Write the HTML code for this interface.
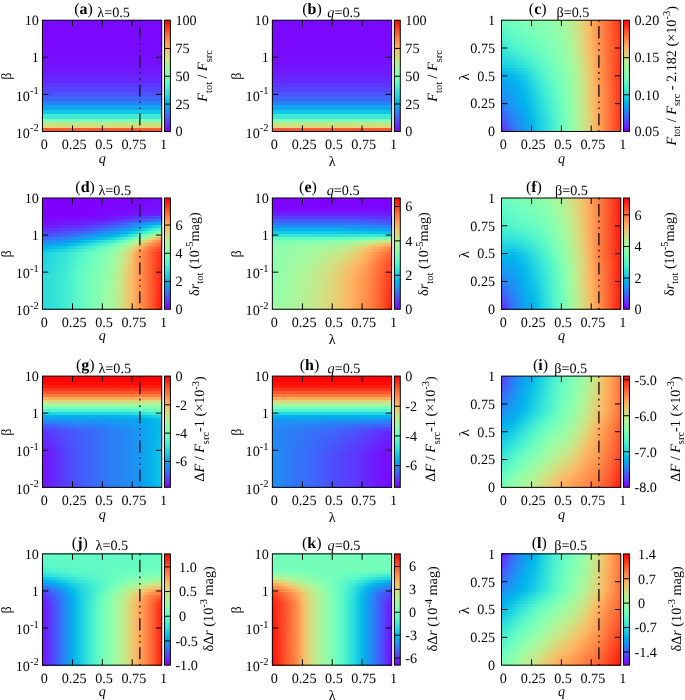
<!DOCTYPE html>
<html><head><meta charset="utf-8"><style>
html,body{margin:0;padding:0;background:#fff;}
body{width:685px;height:700px;position:relative;overflow:hidden;font-family:"Liberation Serif", serif;}
#h div{position:absolute;}
svg{position:absolute;left:0;top:0;will-change:transform;}
text{font-family:"Liberation Serif", serif;fill:#000;text-rendering:geometricPrecision;}
</style></head><body>
<div id="h">
<div style="left:42px;top:20px;width:120px;height:112px;background:linear-gradient(180deg,#7a08ff 0.000%,#7a08ff 3.571%,#7a08ff 3.571%,#7a08ff 8.036%,#7a08ff 8.036%,#7a08ff 11.607%,#7a08ff 11.607%,#7a08ff 16.071%,#7a09ff 16.071%,#7a09ff 19.643%,#790aff 19.643%,#790aff 24.107%,#790aff 24.107%,#790aff 27.679%,#780cff 27.679%,#780cff 32.143%,#770eff 32.143%,#770eff 35.714%,#7510ff 35.714%,#7510ff 40.179%,#7314ff 40.179%,#7314ff 43.750%,#7019ff 43.750%,#7019ff 48.214%,#6b20fe 48.214%,#6b20fe 51.786%,#6529fe 51.786%,#6529fe 56.250%,#5d35fe 56.250%,#5d35fe 59.821%,#5443fd 59.821%,#5443fd 64.286%,#4a53fc 64.286%,#4a53fc 67.857%,#3d65fa 67.857%,#3d65fa 72.321%,#2a80f6 72.321%,#2a80f6 75.893%,#0fa3f0 75.893%,#0fa3f0 80.357%,#12c7e6 80.357%,#12c7e6 83.929%,#3dead5 83.929%,#3dead5 88.393%,#80ffb4 88.393%,#80ffb4 91.964%,#d6db7e 91.964%,#d6db7e 96.429%,#ff5a2e 96.429%,#ff5a2e 100.000%)"></div>
<div style="left:164.50px;top:20.20px;width:5.90px;height:111.25px;background:linear-gradient(180deg,#ff0000 0%,#ff2814 5%,#ff4f28 10%,#ff743c 15%,#ff964f 20%,#ffb462 25%,#e5ce74 30%,#cce385 35%,#b2f396 40%,#99fca6 45%,#80ffb4 50%,#66fcc2 55%,#4df3ce 60%,#33e3d9 65%,#1acee3 70%,#00b4ec 75%,#1a96f3 80%,#3374f8 85%,#4d4ffc 90%,#6628fe 95%,#8000ff 100%)"></div>
<div style="left:272px;top:20px;width:120px;height:112px;background:linear-gradient(180deg,#7a08ff 0.000%,#7a08ff 3.571%,#7a08ff 3.571%,#7a08ff 8.036%,#7a08ff 8.036%,#7a08ff 11.607%,#7a08ff 11.607%,#7a08ff 16.071%,#7a09ff 16.071%,#7a09ff 19.643%,#790aff 19.643%,#790aff 24.107%,#790aff 24.107%,#790aff 27.679%,#780cff 27.679%,#780cff 32.143%,#770eff 32.143%,#770eff 35.714%,#7510ff 35.714%,#7510ff 40.179%,#7314ff 40.179%,#7314ff 43.750%,#7019ff 43.750%,#7019ff 48.214%,#6b20fe 48.214%,#6b20fe 51.786%,#6529fe 51.786%,#6529fe 56.250%,#5d35fe 56.250%,#5d35fe 59.821%,#5443fd 59.821%,#5443fd 64.286%,#4a53fc 64.286%,#4a53fc 67.857%,#3d65fa 67.857%,#3d65fa 72.321%,#2a80f6 72.321%,#2a80f6 75.893%,#0fa3f0 75.893%,#0fa3f0 80.357%,#12c7e6 80.357%,#12c7e6 83.929%,#3dead5 83.929%,#3dead5 88.393%,#80ffb4 88.393%,#80ffb4 91.964%,#d6db7e 91.964%,#d6db7e 96.429%,#ff5a2e 96.429%,#ff5a2e 100.000%)"></div>
<div style="left:394.40px;top:20.20px;width:5.90px;height:111.25px;background:linear-gradient(180deg,#ff0000 0%,#ff2814 5%,#ff4f28 10%,#ff743c 15%,#ff964f 20%,#ffb462 25%,#e5ce74 30%,#cce385 35%,#b2f396 40%,#99fca6 45%,#80ffb4 50%,#66fcc2 55%,#4df3ce 60%,#33e3d9 65%,#1acee3 70%,#00b4ec 75%,#1a96f3 80%,#3374f8 85%,#4d4ffc 90%,#6628fe 95%,#8000ff 100%)"></div>
<div style="left:501px;top:20px;width:120px;height:3px;background:linear-gradient(90deg,#6efdbe 0.42%,#70febc 5.39%,#73febb 10.36%,#79ffb8 15.33%,#7effb5 20.30%,#83ffb2 25.27%,#88ffaf 30.24%,#8bfeae 35.21%,#8efeac 40.18%,#96fda8 45.15%,#9dfba3 50.12%,#aff498 55.10%,#c1ea8c 60.07%,#d6dc7f 65.04%,#eaca70 70.01%,#ffb260 74.98%,#ff964f 79.95%,#ff7f42 84.92%,#ff6634 89.89%,#ff4b26 94.86%,#ff3018 99.83%)"></div>
<div style="left:501px;top:23px;width:120px;height:3px;background:linear-gradient(90deg,#68fcc1 0.42%,#6bfdbf 5.39%,#6ffebd 10.36%,#74feba 15.33%,#7affb7 20.30%,#7fffb4 25.27%,#85ffb1 30.24%,#88ffaf 35.21%,#8cfead 40.18%,#94fda9 45.15%,#9cfba4 50.12%,#aef599 55.10%,#bfeb8e 60.07%,#d5dd7f 65.04%,#eaca71 70.01%,#ffb260 74.98%,#ff974f 79.95%,#ff7f42 84.92%,#ff6634 89.89%,#ff4c27 94.86%,#ff3119 99.83%)"></div>
<div style="left:501px;top:26px;width:120px;height:3px;background:linear-gradient(90deg,#61fbc4 0.42%,#66fcc2 5.39%,#6bfdc0 10.36%,#70febd 15.33%,#76ffb9 20.30%,#7cffb6 25.27%,#82ffb3 30.24%,#86ffb1 35.21%,#89ffaf 40.18%,#92fdaa 45.15%,#9afca5 50.12%,#acf69a 55.10%,#beec8f 60.07%,#d4de80 65.04%,#e9cb71 70.01%,#ffb361 74.98%,#ff9850 79.95%,#ff8042 84.92%,#ff6735 89.89%,#ff4d27 94.86%,#ff3219 99.83%)"></div>
<div style="left:501px;top:29px;width:120px;height:3px;background:linear-gradient(90deg,#5bf9c7 0.42%,#61fac5 5.39%,#66fcc2 10.36%,#6cfdbf 15.33%,#72febc 20.30%,#78ffb8 25.27%,#7effb5 30.24%,#83ffb2 35.21%,#87ffb0 40.18%,#90feab 45.15%,#98fca6 50.12%,#aaf69b 55.10%,#bced90 60.07%,#d2de81 65.04%,#e9cb72 70.01%,#ffb461 74.98%,#ff9850 79.95%,#ff8143 84.92%,#ff6835 89.89%,#ff4e27 94.86%,#ff3319 99.83%)"></div>
<div style="left:501px;top:32px;width:120px;height:3px;background:linear-gradient(90deg,#55f6ca 0.42%,#5cf9c7 5.39%,#62fbc4 10.36%,#68fcc1 15.33%,#6efebe 20.30%,#75feba 25.27%,#7bffb7 30.24%,#80ffb4 35.21%,#85ffb1 40.18%,#8efeac 45.15%,#97fca7 50.12%,#a9f79c 55.10%,#baee91 60.07%,#d1df82 65.04%,#e8cc72 70.01%,#ffb462 74.98%,#ff9951 79.95%,#ff8243 84.92%,#ff6936 89.89%,#ff4f28 94.86%,#ff341a 99.83%)"></div>
<div style="left:501px;top:35px;width:120px;height:3px;background:linear-gradient(90deg,#4ff4cd 0.42%,#56f7ca 5.39%,#5df9c6 10.36%,#64fbc3 15.33%,#6bfdc0 20.30%,#71febc 25.27%,#78ffb9 30.24%,#7dffb6 35.21%,#83ffb2 40.18%,#8cfead 45.15%,#95fda8 50.12%,#a7f79d 55.10%,#b9ef92 60.07%,#d0e082 65.04%,#e8cc72 70.01%,#ffb562 74.98%,#ff9a51 79.95%,#ff8244 84.92%,#ff6a36 89.89%,#ff4f28 94.86%,#ff341a 99.83%)"></div>
<div style="left:501px;top:38px;width:120px;height:3px;background:linear-gradient(90deg,#49f1d0 0.42%,#51f5cc 5.39%,#59f8c8 10.36%,#60fac5 15.33%,#67fcc2 20.30%,#6efdbe 25.27%,#74feba 30.24%,#7bffb7 35.21%,#81ffb4 40.18%,#8afeae 45.15%,#93fda9 50.12%,#a5f89e 55.10%,#b7f093 60.07%,#cfe183 65.04%,#e7cd73 70.01%,#feb562 74.98%,#ff9a51 79.95%,#ff8344 84.92%,#ff6a36 89.89%,#ff5029 94.86%,#ff351b 99.83%)"></div>
<div style="left:501px;top:41px;width:120px;height:3px;background:linear-gradient(90deg,#43eed2 0.42%,#4cf2cf 5.39%,#55f6cb 10.36%,#5cf9c7 15.33%,#63fbc3 20.30%,#6afdc0 25.27%,#71febc 30.24%,#78ffb9 35.21%,#7effb5 40.18%,#88ffaf 45.15%,#92fdaa 50.12%,#a4f99f 55.10%,#b6f194 60.07%,#cee284 65.04%,#e7cd73 70.01%,#fdb663 74.98%,#ff9b52 79.95%,#ff8444 84.92%,#ff6b37 89.89%,#ff5129 94.86%,#ff361b 99.83%)"></div>
<div style="left:501px;top:44px;width:120px;height:3px;background:linear-gradient(90deg,#3dead5 0.42%,#47f0d1 5.39%,#50f4cd 10.36%,#58f7c9 15.33%,#5ffac5 20.30%,#66fcc2 25.27%,#6efdbe 30.24%,#75feba 35.21%,#7cffb6 40.18%,#86ffb1 45.15%,#90feab 50.12%,#a2f9a0 55.10%,#b4f295 60.07%,#cde385 65.04%,#e6ce73 70.01%,#fdb763 74.98%,#ff9c52 79.95%,#ff8545 84.92%,#ff6c37 89.89%,#ff522a 94.86%,#ff371c 99.83%)"></div>
<div style="left:501px;top:47px;width:120px;height:3px;background:linear-gradient(90deg,#37e6d8 0.42%,#41ecd3 5.39%,#4bf2cf 10.36%,#53f5cb 15.33%,#5bf8c8 20.30%,#63fbc4 25.27%,#6afdc0 30.24%,#72febc 35.21%,#7affb7 40.18%,#84ffb2 45.15%,#8ffeac 50.12%,#a0faa1 55.10%,#b2f396 60.07%,#cce385 65.04%,#e5cf74 70.01%,#fcb764 74.98%,#ff9c53 79.95%,#ff8545 84.92%,#ff6d38 89.89%,#ff522a 94.86%,#ff371c 99.83%)"></div>
<div style="left:501px;top:50px;width:120px;height:3px;background:linear-gradient(90deg,#32e2da 0.42%,#3be9d6 5.39%,#44eed2 10.36%,#4cf2ce 15.33%,#54f6cb 20.30%,#5df9c6 25.27%,#66fcc2 30.24%,#6efebe 35.21%,#77ffb9 40.18%,#82ffb3 45.15%,#8dfead 50.12%,#9ffaa2 55.10%,#b0f497 60.07%,#cae587 65.04%,#e3d075 70.01%,#fbb965 74.98%,#ff9e53 79.95%,#ff8646 84.92%,#ff6d38 89.89%,#ff5229 94.86%,#ff361b 99.83%)"></div>
<div style="left:501px;top:53px;width:120px;height:3px;background:linear-gradient(90deg,#2cdedc 0.42%,#34e4d9 5.39%,#3dead5 10.36%,#45efd2 15.33%,#4ef3ce 20.30%,#58f7c9 25.27%,#61fbc4 30.24%,#6bfdbf 35.21%,#74feba 40.18%,#80ffb4 45.15%,#8bfeae 50.12%,#9dfba3 55.10%,#aff498 60.07%,#c8e688 65.04%,#e2d277 70.01%,#f9ba66 74.98%,#ff9f54 79.95%,#ff8746 84.92%,#ff6d38 89.89%,#ff5129 94.86%,#ff351a 99.83%)"></div>
<div style="left:501px;top:56px;width:120px;height:3px;background:linear-gradient(90deg,#27dade 0.42%,#2ee0db 5.39%,#35e5d8 10.36%,#3eebd5 15.33%,#48f0d1 20.30%,#52f5cc 25.27%,#5df9c7 30.24%,#67fcc1 35.21%,#72febc 40.18%,#7dffb6 45.15%,#89ffaf 50.12%,#9bfba5 55.10%,#adf59a 60.07%,#c6e789 65.04%,#e0d478 70.01%,#f8bc67 74.98%,#ffa055 79.95%,#ff8746 84.92%,#ff6d38 89.89%,#ff5029 94.86%,#ff331a 99.83%)"></div>
<div style="left:501px;top:59px;width:120px;height:3px;background:linear-gradient(90deg,#21d5e0 0.42%,#28dbde 5.39%,#2ee0db 10.36%,#38e6d8 15.33%,#41ecd3 20.30%,#4df3ce 25.27%,#58f7c9 30.24%,#63fbc3 35.21%,#6ffebd 40.18%,#7bffb7 45.15%,#87ffb0 50.12%,#99fca6 55.10%,#abf69b 60.07%,#c4e88a 65.04%,#ded579 70.01%,#f7bd68 74.98%,#ffa155 79.95%,#ff8847 84.92%,#ff6d38 89.89%,#ff5028 94.86%,#ff3219 99.83%)"></div>
<div style="left:501px;top:62px;width:120px;height:3px;background:linear-gradient(90deg,#1cd0e2 0.42%,#21d5e0 5.39%,#27dade 10.36%,#31e2da 15.33%,#3be8d6 20.30%,#47f0d1 25.27%,#53f6cb 30.24%,#60fac5 35.21%,#6cfdbf 40.18%,#79ffb8 45.15%,#85ffb1 50.12%,#97fca7 55.10%,#a9f79c 60.07%,#c3ea8c 65.04%,#dcd77a 70.01%,#f5bf69 74.98%,#ffa256 79.95%,#ff8847 84.92%,#ff6d38 89.89%,#ff4f28 94.86%,#ff3018 99.83%)"></div>
<div style="left:501px;top:65px;width:120px;height:3px;background:linear-gradient(90deg,#15cae5 0.42%,#1acee3 5.39%,#1fd3e1 10.36%,#29dcdd 15.33%,#33e3d9 20.30%,#41ecd4 25.27%,#4ef3cd 30.24%,#5cf9c7 35.21%,#69fdc0 40.18%,#76ffb9 45.15%,#83ffb2 50.12%,#95fda8 55.10%,#a7f89d 60.07%,#c1eb8d 65.04%,#dad87b 70.01%,#f4c069 74.98%,#ffa356 79.95%,#ff8947 84.92%,#ff6d38 89.89%,#ff4f28 94.86%,#ff3018 99.83%)"></div>
<div style="left:501px;top:68px;width:120px;height:3px;background:linear-gradient(90deg,#0cc1e8 0.42%,#11c7e6 5.39%,#16cbe4 10.36%,#21d5e1 15.33%,#2bdddd 20.30%,#3ae8d7 25.27%,#49f1d0 30.24%,#58f7c9 35.21%,#67fcc2 40.18%,#73febb 45.15%,#80ffb4 50.12%,#92fdaa 55.10%,#a4f99f 60.07%,#beec8e 65.04%,#d9d97c 70.01%,#f4c06a 74.98%,#ffa356 79.95%,#ff8947 84.92%,#ff6d38 89.89%,#ff4f28 94.86%,#ff3018 99.83%)"></div>
<div style="left:501px;top:71px;width:120px;height:3px;background:linear-gradient(90deg,#04b9ea 0.42%,#09bee9 5.39%,#0ec3e7 10.36%,#18cde4 15.33%,#23d6e0 20.30%,#33e3d9 25.27%,#43eed2 30.24%,#54f6cb 35.21%,#64fbc3 40.18%,#71febc 45.15%,#7dffb5 50.12%,#8ffeab 55.10%,#a1faa1 60.07%,#bced90 65.04%,#d8da7d 70.01%,#f3c16a 74.98%,#ffa356 79.95%,#ff8947 84.92%,#ff6d38 89.89%,#ff4f28 94.86%,#ff3018 99.83%)"></div>
<div style="left:501px;top:74px;width:120px;height:3px;background:linear-gradient(90deg,#04b0ed 0.42%,#01b5eb 5.39%,#06bbea 10.36%,#10c5e6 15.33%,#1acfe3 20.30%,#2cdedc 25.27%,#3eead5 30.24%,#4ff4cd 35.21%,#61fbc4 40.18%,#6efebe 45.15%,#7bffb7 50.12%,#8dfead 55.10%,#9efaa2 60.07%,#baee91 65.04%,#d6db7e 70.01%,#f2c26b 74.98%,#ffa356 79.95%,#ff8947 84.92%,#ff6d38 89.89%,#ff4f28 94.86%,#ff3018 99.83%)"></div>
<div style="left:501px;top:77px;width:120px;height:3px;background:linear-gradient(90deg,#09aaee 0.42%,#04b0ed 5.39%,#01b6eb 10.36%,#0cc1e8 15.33%,#16cbe5 20.30%,#28dbde 25.27%,#3ae8d7 30.24%,#4bf2cf 35.21%,#5df9c6 40.18%,#6bfdbf 45.15%,#79ffb8 50.12%,#8cfead 55.10%,#9efaa3 60.07%,#baef91 65.04%,#d5dc7f 70.01%,#f1c36c 74.98%,#ffa457 79.95%,#ff8a48 84.92%,#ff6e39 89.89%,#ff5028 94.86%,#ff3018 99.83%)"></div>
<div style="left:501px;top:80px;width:120px;height:3px;background:linear-gradient(90deg,#0da5ef 0.42%,#08abee 5.39%,#03b1ec 10.36%,#07bce9 15.33%,#12c7e6 20.30%,#24d7e0 25.27%,#35e5d8 30.24%,#47f0d1 35.21%,#59f8c8 40.18%,#68fcc1 45.15%,#78ffb9 50.12%,#8bfeae 55.10%,#9efaa3 60.07%,#b9ef92 65.04%,#d4de80 70.01%,#f0c56d 74.98%,#ffa658 79.95%,#ff8c49 84.92%,#ff703a 89.89%,#ff5129 94.86%,#ff3018 99.83%)"></div>
<div style="left:501px;top:83px;width:120px;height:3px;background:linear-gradient(90deg,#11a0f0 0.42%,#0ca7ef 5.39%,#07adee 10.36%,#03b8eb 15.33%,#0ec3e7 20.30%,#1fd4e1 25.27%,#31e2da 30.24%,#43eed3 35.21%,#55f6ca 40.18%,#66fcc2 45.15%,#76ffb9 50.12%,#8afeae 55.10%,#9efaa3 60.07%,#b8f092 65.04%,#d2df81 70.01%,#eec66e 74.98%,#ffa759 79.95%,#ff8e4a 84.92%,#ff723b 89.89%,#ff5229 94.86%,#ff3018 99.83%)"></div>
<div style="left:501px;top:86px;width:120px;height:3px;background:linear-gradient(90deg,#159bf1 0.42%,#10a2f0 5.39%,#0ba8ef 10.36%,#00b4ec 15.33%,#0abfe9 20.30%,#1cd0e2 25.27%,#2ddfdc 30.24%,#3febd4 35.21%,#51f5cc 40.18%,#63fbc3 45.15%,#75feba 50.12%,#89ffaf 55.10%,#9efba3 60.07%,#b8f093 65.04%,#d1df82 70.01%,#edc76e 74.98%,#ffa95a 79.95%,#ff8f4b 84.92%,#ff743c 89.89%,#ff532a 94.86%,#ff3018 99.83%)"></div>
<div style="left:501px;top:89px;width:120px;height:3px;background:linear-gradient(90deg,#1997f2 0.42%,#139ff1 5.39%,#0ca6ef 10.36%,#02b2ec 15.33%,#08bde9 20.30%,#19cee3 25.27%,#2bdddd 30.24%,#3cead5 35.21%,#4ef3cd 40.18%,#61fac5 45.15%,#73febb 50.12%,#88ffaf 55.10%,#9dfba3 60.07%,#b7f093 65.04%,#d1df82 70.01%,#edc76e 74.98%,#ffa95a 79.95%,#ff8f4b 84.92%,#ff743c 89.89%,#ff532a 94.86%,#ff3018 99.83%)"></div>
<div style="left:501px;top:92px;width:120px;height:3px;background:linear-gradient(90deg,#1c92f3 0.42%,#159bf1 5.39%,#0ea4f0 10.36%,#04b0ed 15.33%,#06bbea 20.30%,#17cce4 25.27%,#28dbde 30.24%,#3ae8d7 35.21%,#4cf2cf 40.18%,#5efac6 45.15%,#71febc 50.12%,#87ffb0 55.10%,#9cfba4 60.07%,#b7f093 65.04%,#d1df82 70.01%,#edc76e 74.98%,#ffa95a 79.95%,#ff8f4b 84.92%,#ff743c 89.89%,#ff532a 94.86%,#ff3018 99.83%)"></div>
<div style="left:501px;top:95px;width:120px;height:3px;background:linear-gradient(90deg,#208df4 0.42%,#1898f2 5.39%,#10a2f0 10.36%,#06aeed 15.33%,#04b9ea 20.30%,#15cae5 25.27%,#25d9df 30.24%,#37e6d8 35.21%,#49f1d0 40.18%,#5cf9c7 45.15%,#6ffebd 50.12%,#85ffb1 55.10%,#9bfba4 60.07%,#b6f194 65.04%,#d1df82 70.01%,#edc76e 74.98%,#ffa95a 79.95%,#ff8f4b 84.92%,#ff743c 89.89%,#ff532a 94.86%,#ff3018 99.83%)"></div>
<div style="left:501px;top:98px;width:120px;height:3px;background:linear-gradient(90deg,#2489f5 0.42%,#1b94f3 5.39%,#129ff1 10.36%,#08acee 15.33%,#03b7eb 20.30%,#12c8e6 25.27%,#22d6e0 30.24%,#34e4d9 35.21%,#46efd1 40.18%,#5af8c8 45.15%,#6efdbe 50.12%,#84ffb2 55.10%,#9afca5 60.07%,#b6f194 65.04%,#d1df82 70.01%,#edc76e 74.98%,#ffa95a 79.95%,#ff8f4b 84.92%,#ff743c 89.89%,#ff532a 94.86%,#ff3018 99.83%)"></div>
<div style="left:501px;top:101px;width:120px;height:3px;background:linear-gradient(90deg,#2784f6 0.42%,#1e91f3 5.39%,#149df1 10.36%,#0aa9ee 15.33%,#01b5eb 20.30%,#10c5e6 25.27%,#20d4e1 30.24%,#31e2da 35.21%,#43eed2 40.18%,#58f7c9 45.15%,#6cfdbf 50.12%,#83ffb3 55.10%,#99fca5 60.07%,#b5f194 65.04%,#d1df82 70.01%,#edc76e 74.98%,#ffa95a 79.95%,#ff8f4b 84.92%,#ff743c 89.89%,#ff532a 94.86%,#ff3018 99.83%)"></div>
<div style="left:501px;top:104px;width:120px;height:3px;background:linear-gradient(90deg,#2d7cf7 0.42%,#228bf4 5.39%,#1799f2 10.36%,#0ca6ef 15.33%,#02b2ec 20.30%,#0ec3e7 25.27%,#1dd2e2 30.24%,#2fe1db 35.21%,#41ecd3 40.18%,#56f7ca 45.15%,#6bfdc0 50.12%,#82ffb3 55.10%,#99fca6 60.07%,#b5f194 65.04%,#d1e082 70.01%,#edc86f 74.98%,#ffa95b 79.95%,#ff904b 84.92%,#ff743c 89.89%,#ff532a 94.86%,#ff3018 99.83%)"></div>
<div style="left:501px;top:107px;width:120px;height:3px;background:linear-gradient(90deg,#3373f8 0.42%,#2785f6 5.39%,#1a95f3 10.36%,#0fa2f0 15.33%,#04afed 20.30%,#0cc1e8 25.27%,#1cd0e2 30.24%,#2ddfdc 35.21%,#3febd4 40.18%,#54f6cb 45.15%,#6afdc0 50.12%,#81ffb3 55.10%,#99fca6 60.07%,#b4f295 65.04%,#d0e183 70.01%,#ecc86f 74.98%,#ffaa5b 79.95%,#ff904c 84.92%,#ff743c 89.89%,#ff532a 94.86%,#ff3018 99.83%)"></div>
<div style="left:501px;top:110px;width:120px;height:3px;background:linear-gradient(90deg,#3a6af9 0.42%,#2c7ef7 5.39%,#1e90f4 10.36%,#139ff1 15.33%,#07acee 20.30%,#09bee9 25.27%,#1acfe3 30.24%,#2cdedc 35.21%,#3dead5 40.18%,#53f6cb 45.15%,#69fcc1 50.12%,#81ffb4 55.10%,#99fca6 60.07%,#b4f295 65.04%,#cfe183 70.01%,#ebc970 74.98%,#ffab5c 79.95%,#ff914c 84.92%,#ff743c 89.89%,#ff532a 94.86%,#ff3018 99.83%)"></div>
<div style="left:501px;top:113px;width:120px;height:3px;background:linear-gradient(90deg,#4061fa 0.42%,#3177f8 5.39%,#228bf4 10.36%,#169bf2 15.33%,#0aa9ee 20.30%,#07bce9 25.27%,#18cde4 30.24%,#2adcdd 35.21%,#3ce9d6 40.18%,#52f5cc 45.15%,#68fcc1 50.12%,#80ffb4 55.10%,#99fca6 60.07%,#b3f295 65.04%,#cee284 70.01%,#eaca71 74.98%,#ffad5d 79.95%,#ff914c 84.92%,#ff743c 89.89%,#ff532a 94.86%,#ff3018 99.83%)"></div>
<div style="left:501px;top:116px;width:120px;height:3px;background:linear-gradient(90deg,#4658fb 0.42%,#3670f8 5.39%,#2586f5 10.36%,#1996f2 15.33%,#0da6ef 20.30%,#05b9ea 25.27%,#16cbe4 30.24%,#28dbde 35.21%,#3ae8d7 40.18%,#50f4cd 45.15%,#67fcc1 50.12%,#80ffb4 55.10%,#99fca6 60.07%,#b3f296 65.04%,#cde385 70.01%,#e9cb71 74.98%,#ffae5d 79.95%,#ff924d 84.92%,#ff743c 89.89%,#ff532a 94.86%,#ff3018 99.83%)"></div>
<div style="left:501px;top:119px;width:120px;height:3px;background:linear-gradient(90deg,#4d4efc 0.42%,#3b68f9 5.39%,#2982f6 10.36%,#1c92f3 15.33%,#0fa2f0 20.30%,#02b7eb 25.27%,#14c9e5 30.24%,#26d9df 35.21%,#38e7d7 40.18%,#4ff4cd 45.15%,#66fcc2 50.12%,#7fffb4 55.10%,#99fca6 60.07%,#b3f396 65.04%,#cce385 70.01%,#e8cc72 74.98%,#ffaf5e 79.95%,#ff934d 84.92%,#ff743c 89.89%,#ff532a 94.86%,#ff3018 99.83%)"></div>
<div style="left:501px;top:122px;width:120px;height:3px;background:linear-gradient(90deg,#5542fd 0.42%,#4061fa 5.39%,#2c7ef7 10.36%,#1e90f4 15.33%,#11a1f0 20.30%,#01b6eb 25.27%,#13c8e5 30.24%,#25d8df 35.21%,#37e6d8 40.18%,#4ef3ce 45.15%,#65fbc3 50.12%,#7fffb5 55.10%,#99fca6 60.07%,#b3f396 65.04%,#cce385 70.01%,#e8cc72 74.98%,#ffaf5e 79.95%,#ff934d 84.92%,#ff743c 89.89%,#ff542a 94.86%,#ff3219 99.83%)"></div>
<div style="left:501px;top:125px;width:120px;height:3px;background:linear-gradient(90deg,#5d35fe 0.42%,#4658fb 5.39%,#2e7af7 10.36%,#208df4 15.33%,#129ff1 20.30%,#00b4ec 25.27%,#12c7e6 30.24%,#23d7e0 35.21%,#35e5d8 40.18%,#4cf2ce 45.15%,#63fbc3 50.12%,#7effb5 55.10%,#99fca6 60.07%,#b3f396 65.04%,#cce385 70.01%,#e8cc72 74.98%,#ffaf5e 79.95%,#ff934d 84.92%,#ff743c 89.89%,#ff552b 94.86%,#ff341a 99.83%)"></div>
<div style="left:501px;top:128px;width:120px;height:3px;background:linear-gradient(90deg,#6628fe 0.42%,#4b50fc 5.39%,#3176f8 10.36%,#228af5 15.33%,#149df1 20.30%,#02b2ec 25.27%,#10c5e6 30.24%,#22d6e0 35.21%,#34e4d9 40.18%,#4bf2cf 45.15%,#62fbc4 50.12%,#7dffb5 55.10%,#99fca6 60.07%,#b3f396 65.04%,#cce385 70.01%,#e8cc72 74.98%,#ffaf5e 79.95%,#ff934d 84.92%,#ff743c 89.89%,#ff562b 94.86%,#ff361b 99.83%)"></div>
<div style="left:501px;top:131px;width:120px;height:1px;background:linear-gradient(90deg,#6b20fe 0.42%,#4f4bfc 5.39%,#3374f8 10.36%,#2489f5 15.33%,#149cf1 20.30%,#03b1ec 25.27%,#0fc4e7 30.24%,#21d5e0 35.21%,#33e3d9 40.18%,#4af1cf 45.15%,#61fac4 50.12%,#7dffb6 55.10%,#99fca6 60.07%,#b3f396 65.04%,#cce385 70.01%,#e8cc72 74.98%,#ffaf5e 79.95%,#ff934d 84.92%,#ff743c 89.89%,#ff562c 94.86%,#ff381c 99.83%)"></div>
<div style="left:623.55px;top:20.20px;width:5.90px;height:111.25px;background:linear-gradient(180deg,#ff0000 0%,#ff2814 5%,#ff4f28 10%,#ff743c 15%,#ff964f 20%,#ffb462 25%,#e5ce74 30%,#cce385 35%,#b2f396 40%,#99fca6 45%,#80ffb4 50%,#66fcc2 55%,#4df3ce 60%,#33e3d9 65%,#1acee3 70%,#00b4ec 75%,#1a96f3 80%,#3374f8 85%,#4d4ffc 90%,#6628fe 95%,#8000ff 100%)"></div>
<div style="left:42px;top:198px;width:120px;height:3px;background:linear-gradient(90deg,#8000ff 0.38%,#8000ff 5.35%,#8000ff 10.32%,#8000ff 15.29%,#8000ff 20.26%,#8000ff 25.23%,#8000ff 30.20%,#8000ff 35.17%,#8000ff 40.14%,#7f00ff 45.11%,#7f01ff 50.08%,#7f01ff 55.05%,#7f01ff 60.03%,#7f01ff 65.00%,#7f01ff 69.97%,#7d03ff 74.94%,#7c05ff 79.91%,#7b07ff 84.88%,#7a09ff 89.85%,#7a09ff 94.82%,#790aff 99.79%)"></div>
<div style="left:42px;top:201px;width:120px;height:3px;background:linear-gradient(90deg,#8000ff 0.38%,#8000ff 5.35%,#8000ff 10.32%,#8000ff 15.29%,#8000ff 20.26%,#8000ff 25.23%,#8000ff 30.20%,#8000ff 35.17%,#8000ff 40.14%,#7f01ff 45.11%,#7e02ff 50.08%,#7e02ff 55.05%,#7e02ff 60.03%,#7e03ff 65.00%,#7d03ff 69.97%,#7c05ff 74.94%,#7b07ff 79.91%,#7909ff 84.88%,#780bff 89.85%,#780cff 94.82%,#770dff 99.79%)"></div>
<div style="left:42px;top:204px;width:120px;height:3px;background:linear-gradient(90deg,#8000ff 0.38%,#8000ff 5.35%,#8000ff 10.32%,#8000ff 15.29%,#8000ff 20.26%,#8000ff 25.23%,#8000ff 30.20%,#8000ff 35.17%,#8000ff 40.14%,#7e02ff 45.11%,#7d04ff 50.08%,#7d04ff 55.05%,#7d04ff 60.03%,#7c05ff 65.00%,#7c06ff 69.97%,#7b08ff 74.94%,#790aff 79.91%,#780cff 84.88%,#770eff 89.85%,#760fff 94.82%,#7510ff 99.79%)"></div>
<div style="left:42px;top:207px;width:120px;height:3px;background:linear-gradient(90deg,#8000ff 0.38%,#8000ff 5.35%,#8000ff 10.32%,#8000ff 15.29%,#8000ff 20.26%,#8000ff 25.23%,#8000ff 30.20%,#8000ff 35.17%,#8000ff 40.14%,#7e03ff 45.11%,#7c05ff 50.08%,#7c05ff 55.05%,#7c05ff 60.03%,#7b07ff 65.00%,#7a08ff 69.97%,#790aff 74.94%,#780cff 79.91%,#770eff 84.88%,#7510ff 89.85%,#7411ff 94.82%,#7413ff 99.79%)"></div>
<div style="left:42px;top:210px;width:120px;height:3px;background:linear-gradient(90deg,#8000ff 0.38%,#8000ff 5.35%,#8000ff 10.32%,#8000ff 15.29%,#8000ff 20.26%,#8000ff 25.23%,#8000ff 30.20%,#8000ff 35.17%,#8000ff 40.14%,#7d03ff 45.11%,#7b07ff 50.08%,#7b07ff 55.05%,#7b07ff 60.03%,#7a09ff 65.00%,#790aff 69.97%,#780cff 74.94%,#760eff 79.91%,#7510ff 84.88%,#7412ff 89.85%,#7314ff 94.82%,#7216ff 99.79%)"></div>
<div style="left:42px;top:213px;width:120px;height:3px;background:linear-gradient(90deg,#8000ff 0.38%,#8000ff 5.35%,#8000ff 10.32%,#7f01ff 15.29%,#7f01ff 20.26%,#7f01ff 25.23%,#7f01ff 30.20%,#7e02ff 35.17%,#7e02ff 40.14%,#7c06ff 45.11%,#7a09ff 50.08%,#790aff 55.05%,#790aff 60.03%,#770dff 65.00%,#7510ff 69.97%,#7314ff 74.94%,#7117ff 79.91%,#6f1aff 84.88%,#6c1eff 89.85%,#6a21fe 94.82%,#6824fe 99.79%)"></div>
<div style="left:42px;top:216px;width:120px;height:3px;background:linear-gradient(90deg,#7f01ff 0.38%,#7e02ff 5.35%,#7e02ff 10.32%,#7d04ff 15.29%,#7c06ff 20.26%,#7b06ff 25.23%,#7b07ff 30.20%,#7a09ff 35.17%,#790bff 40.14%,#770dff 45.11%,#760fff 50.08%,#7412ff 55.05%,#7314ff 60.03%,#6f1bff 65.00%,#6b21fe 69.97%,#6628fe 74.94%,#622ffe 79.91%,#5c37fd 84.88%,#5640fd 89.85%,#5246fd 94.82%,#4e4cfc 99.79%)"></div>
<div style="left:42px;top:219px;width:120px;height:3px;background:linear-gradient(90deg,#7a09ff 0.38%,#790bff 5.35%,#770dff 10.32%,#760fff 15.29%,#7511ff 20.26%,#7413ff 25.23%,#7215ff 30.20%,#7117ff 35.17%,#6f19ff 40.14%,#6e1cff 45.11%,#6c1eff 50.08%,#6824fe 55.05%,#642afe 60.03%,#5f32fe 65.00%,#5a3bfd 69.97%,#5247fc 74.94%,#4a53fc 79.91%,#425efa 84.88%,#3a6af9 89.85%,#3571f8 94.82%,#3079f7 99.79%)"></div>
<div style="left:42px;top:222px;width:120px;height:3px;background:linear-gradient(90deg,#7510ff 0.38%,#7412ff 5.35%,#7314ff 10.32%,#7216ff 15.29%,#7018ff 20.26%,#6f1aff 25.23%,#6e1cff 30.20%,#6a22fe 35.17%,#6627fe 40.14%,#612ffe 45.11%,#5c37fe 50.08%,#573ffd 55.05%,#5246fd 60.03%,#4b52fc 65.00%,#435dfb 69.97%,#366ff9 74.94%,#2a81f6 79.91%,#208ef4 84.88%,#159bf2 89.85%,#0ea4f0 94.82%,#06aded 99.79%)"></div>
<div style="left:42px;top:225px;width:120px;height:3px;background:linear-gradient(90deg,#7019ff 0.38%,#6d1cff 5.35%,#6b20fe 10.32%,#6825fe 15.29%,#652afe 20.26%,#632dfe 25.23%,#6031fe 30.20%,#5c38fd 35.17%,#573ffd 40.14%,#5247fc 45.11%,#4d4ffc 50.08%,#4659fb 55.05%,#3f63fa 60.03%,#376ef9 65.00%,#2f79f7 69.97%,#228af5 74.94%,#169bf2 79.91%,#04b0ed 84.88%,#0ec3e7 89.85%,#1dd2e2 94.82%,#2cdedc 99.79%)"></div>
<div style="left:42px;top:228px;width:120px;height:3px;background:linear-gradient(90deg,#632cfe 0.38%,#612ffe 5.35%,#5f32fe 10.32%,#5c37fd 15.29%,#593cfd 20.26%,#5640fd 25.23%,#5444fd 30.20%,#4d4dfc 35.17%,#4757fb 40.14%,#4160fa 45.11%,#3a6af9 50.08%,#3374f8 55.05%,#2b7ff6 60.03%,#228bf4 65.00%,#1997f2 69.97%,#0ba8ef 74.94%,#03b8eb 79.91%,#19cee3 84.88%,#2fe0db 89.85%,#47f0d1 94.82%,#60fac5 99.79%)"></div>
<div style="left:42px;top:231px;width:120px;height:3px;background:linear-gradient(90deg,#5542fd 0.38%,#5345fd 5.35%,#5247fc 10.32%,#4f4cfc 15.29%,#4c50fc 20.26%,#4856fb 25.23%,#445cfb 30.20%,#3c67fa 35.17%,#3572f8 40.14%,#2d7cf7 45.11%,#2587f5 50.08%,#1e91f4 55.05%,#169af2 60.03%,#0ca7ef 65.00%,#02b3ec 69.97%,#11c6e6 74.94%,#24d7df 79.91%,#3dead5 84.88%,#57f7c9 89.85%,#76ffb9 94.82%,#96fda7 99.79%)"></div>
<div style="left:42px;top:234px;width:120px;height:3px;background:linear-gradient(90deg,#4954fb 0.38%,#4658fb 5.35%,#435dfb 10.32%,#3f62fa 15.29%,#3c68f9 20.26%,#3571f8 25.23%,#2e7af7 30.20%,#2785f5 35.17%,#1f8ff4 40.14%,#179af2 45.11%,#0ea4f0 50.08%,#06aded 55.05%,#02b7eb 60.03%,#0fc4e7 65.00%,#1bd0e3 69.97%,#36e5d8 74.94%,#51f4cc 79.91%,#71febc 84.88%,#92fdaa 89.85%,#b3f296 94.82%,#d4dd80 99.79%)"></div>
<div style="left:42px;top:237px;width:120px;height:3px;background:linear-gradient(90deg,#3a69f9 0.38%,#376ff9 5.35%,#3374f8 10.32%,#2f7af7 15.29%,#2b7ff6 20.26%,#238af5 25.23%,#1b94f3 30.20%,#139ef1 35.17%,#0ba7ef 40.14%,#01b4ec 45.11%,#0abfe9 50.08%,#14cae5 55.05%,#1fd3e1 60.03%,#34e4d9 65.00%,#48f0d0 69.97%,#67fcc1 74.94%,#86ffb0 79.91%,#acf59a 84.88%,#d2df81 89.85%,#f2c26b 94.82%,#ff9d53 99.79%)"></div>
<div style="left:42px;top:240px;width:120px;height:3px;background:linear-gradient(90deg,#2883f6 0.38%,#2488f5 5.35%,#208df4 10.32%,#1b94f3 15.29%,#169af2 20.26%,#0da5ef 25.23%,#04b0ed 30.20%,#06bbea 35.17%,#10c6e6 40.14%,#1dd2e2 45.11%,#2adcdd 50.08%,#37e6d8 55.05%,#44eed2 60.03%,#5bf8c8 65.00%,#72febc 69.97%,#93fda9 74.94%,#b4f295 79.91%,#d7db7e 84.88%,#fbb965 89.85%,#ff9b52 94.82%,#ff7a3f 99.79%)"></div>
<div style="left:42px;top:243px;width:120px;height:3px;background:linear-gradient(90deg,#169bf2 0.38%,#11a1f0 5.35%,#0ca7ef 10.32%,#07adee 15.29%,#02b3ec 20.26%,#09bee9 25.23%,#13c8e6 30.20%,#1fd3e1 35.17%,#2cdedc 40.14%,#3be9d6 45.11%,#4af1cf 50.08%,#59f8c8 55.05%,#68fcc1 60.03%,#7fffb4 65.00%,#96fda7 69.97%,#b7f093 74.94%,#d9da7d 79.91%,#f7bc67 84.88%,#ff9850 89.85%,#ff7d41 94.82%,#ff6031 99.79%)"></div>
<div style="left:42px;top:246px;width:120px;height:3px;background:linear-gradient(90deg,#01b3ec 0.38%,#04b8ea 5.35%,#09bee9 10.32%,#0fc4e7 15.29%,#15cae5 20.26%,#22d5e0 25.23%,#2edfdc 30.20%,#3be8d6 35.17%,#47f0d1 40.14%,#55f6cb 45.11%,#62fbc4 50.08%,#71febc 55.05%,#80ffb4 60.03%,#97fca7 65.00%,#aef599 69.97%,#d1df82 74.94%,#f5bf69 79.91%,#ff9f54 84.88%,#ff7a3f 89.85%,#ff6332 94.82%,#ff4b26 99.79%)"></div>
<div style="left:42px;top:249px;width:120px;height:3px;background:linear-gradient(90deg,#0dc2e8 0.38%,#13c8e6 5.35%,#19cee3 10.32%,#20d4e1 15.29%,#27dade 20.26%,#33e3da 25.23%,#3eebd5 30.20%,#4bf2cf 35.17%,#58f7c9 40.14%,#63fbc3 45.11%,#6ffebd 50.08%,#7effb5 55.05%,#8efeac 60.03%,#a6f89e 65.00%,#beed8f 69.97%,#e1d277 74.94%,#ffad5d 79.91%,#ff8f4b 84.88%,#ff6d38 89.85%,#ff542b 94.82%,#ff3a1d 99.79%)"></div>
<div style="left:42px;top:252px;width:120px;height:3px;background:linear-gradient(90deg,#19cee3 0.38%,#21d5e1 5.35%,#28dbde 10.32%,#30e1db 15.29%,#37e6d8 20.26%,#42edd3 25.23%,#4cf2cf 30.20%,#59f8c9 35.17%,#65fcc2 40.14%,#70febd 45.11%,#7affb7 50.08%,#89ffaf 55.05%,#99fca6 60.03%,#b2f396 65.00%,#cbe486 69.97%,#efc56d 74.94%,#ff9d53 79.91%,#ff8244 84.88%,#ff6634 89.85%,#ff4824 94.82%,#ff2914 99.79%)"></div>
<div style="left:42px;top:255px;width:120px;height:3px;background:linear-gradient(90deg,#1bd0e2 0.38%,#23d7e0 5.35%,#2adddd 10.32%,#32e2da 15.29%,#39e8d7 20.26%,#44eed2 25.23%,#4ef3cd 30.20%,#5bf9c7 35.17%,#68fcc1 40.14%,#72febc 45.11%,#7cffb6 50.08%,#8cfead 55.05%,#9bfba4 60.03%,#b5f194 65.00%,#cfe183 69.97%,#f1c36c 74.94%,#ff9c53 79.91%,#ff8243 84.88%,#ff6534 89.85%,#ff4724 94.82%,#ff2713 99.79%)"></div>
<div style="left:42px;top:258px;width:120px;height:3px;background:linear-gradient(90deg,#1ed2e2 0.38%,#25d8df 5.35%,#2bdedc 10.32%,#33e3d9 15.29%,#3be9d6 20.26%,#46efd1 25.23%,#51f4cc 30.20%,#5df9c6 35.17%,#6afdc0 40.14%,#74feba 45.11%,#7effb5 50.08%,#8efeac 55.05%,#9dfba3 60.03%,#b7f093 65.00%,#d1df82 69.97%,#f2c26b 74.94%,#ff9c53 79.91%,#ff8243 84.88%,#ff6534 89.85%,#ff4623 94.82%,#ff2613 99.79%)"></div>
<div style="left:42px;top:261px;width:120px;height:3px;background:linear-gradient(90deg,#20d4e1 0.38%,#26d9de 5.35%,#2ddfdc 10.32%,#35e4d9 15.29%,#3ce9d6 20.26%,#47f0d1 25.23%,#53f5cb 30.20%,#5ffac5 35.17%,#6cfdbf 40.14%,#76ffb9 45.11%,#81ffb4 50.08%,#90feab 55.05%,#9ffaa2 60.03%,#baef91 65.00%,#d4dd80 69.97%,#f4c06a 74.94%,#ff9c53 79.91%,#ff8243 84.88%,#ff6534 89.85%,#ff4623 94.82%,#ff2512 99.79%)"></div>
<div style="left:42px;top:264px;width:120px;height:3px;background:linear-gradient(90deg,#22d6e0 0.38%,#28dbde 5.35%,#2ee0db 10.32%,#36e5d8 15.29%,#3eead5 20.26%,#49f1d0 25.23%,#55f6ca 30.20%,#61fbc4 35.17%,#6efebe 40.14%,#78ffb8 45.11%,#83ffb3 50.08%,#92fdaa 55.05%,#a1faa1 60.03%,#bced90 65.00%,#d7db7e 69.97%,#f5bf69 74.94%,#ff9c53 79.91%,#ff8243 84.88%,#ff6534 89.85%,#ff4523 94.82%,#ff2412 99.79%)"></div>
<div style="left:42px;top:267px;width:120px;height:3px;background:linear-gradient(90deg,#24d7df 0.38%,#2adcdd 5.35%,#30e1db 10.32%,#37e6d8 15.29%,#3febd4 20.26%,#4bf2cf 25.23%,#57f7c9 30.20%,#63fbc3 35.17%,#70febd 40.14%,#7affb7 45.11%,#85ffb1 50.08%,#94fda9 55.05%,#a3f99f 60.03%,#beec8e 65.00%,#dad97c 69.97%,#f7bd68 74.94%,#ff9c53 79.91%,#ff8243 84.88%,#ff6534 89.85%,#ff4523 94.82%,#ff2311 99.79%)"></div>
<div style="left:42px;top:270px;width:120px;height:3px;background:linear-gradient(90deg,#26d9df 0.38%,#2bdedc 5.35%,#31e2da 10.32%,#39e7d7 15.29%,#40ecd4 20.26%,#4df3ce 25.23%,#59f8c8 30.20%,#66fcc2 35.17%,#72febb 40.14%,#7cffb6 45.11%,#87ffb0 50.08%,#96fda7 55.05%,#a5f89e 60.03%,#c1eb8d 65.00%,#dcd67a 69.97%,#f8bc67 74.94%,#ff9c53 79.91%,#ff8243 84.88%,#ff6534 89.85%,#ff4422 94.82%,#ff2211 99.79%)"></div>
<div style="left:42px;top:273px;width:120px;height:3px;background:linear-gradient(90deg,#28dbde 0.38%,#2ddfdc 5.35%,#32e3da 10.32%,#3ae8d6 15.29%,#42edd3 20.26%,#4ef3cd 25.23%,#5bf9c7 30.20%,#68fcc1 35.17%,#74feba 40.14%,#7fffb5 45.11%,#89ffaf 50.08%,#98fca6 55.05%,#a7f79d 60.03%,#c3e98b 65.00%,#dfd478 69.97%,#f9bb66 74.94%,#ff9c53 79.91%,#ff8243 84.88%,#ff6534 89.85%,#ff4422 94.82%,#ff2010 99.79%)"></div>
<div style="left:42px;top:276px;width:120px;height:3px;background:linear-gradient(90deg,#29dbde 0.38%,#2edfdb 5.35%,#33e3d9 10.32%,#3be8d6 15.29%,#42edd3 20.26%,#4ff4cd 25.23%,#5cf9c7 30.20%,#69fcc1 35.17%,#75feba 40.14%,#80ffb4 45.11%,#8afeae 50.08%,#99fca5 55.05%,#a9f79c 60.03%,#c4e88a 65.00%,#e0d377 69.97%,#faba65 74.94%,#ff9c53 79.91%,#ff8243 84.88%,#ff6534 89.85%,#ff4322 94.82%,#ff2010 99.79%)"></div>
<div style="left:42px;top:279px;width:120px;height:3px;background:linear-gradient(90deg,#29dbde 0.38%,#2edfdb 5.35%,#33e3d9 10.32%,#3be8d6 15.29%,#42edd3 20.26%,#4ff4cd 25.23%,#5cf9c7 30.20%,#69fcc1 35.17%,#75feba 40.14%,#80ffb4 45.11%,#8afeae 50.08%,#9afca5 55.05%,#a9f79c 60.03%,#c5e88a 65.00%,#e0d377 69.97%,#faba65 74.94%,#ff9c53 79.91%,#ff8243 84.88%,#ff6534 89.85%,#ff4322 94.82%,#ff1f0f 99.79%)"></div>
<div style="left:42px;top:282px;width:120px;height:3px;background:linear-gradient(90deg,#29dbde 0.38%,#2edfdb 5.35%,#33e3d9 10.32%,#3be8d6 15.29%,#42edd3 20.26%,#4ff4cd 25.23%,#5cf9c7 30.20%,#69fcc1 35.17%,#75feba 40.14%,#80ffb4 45.11%,#8bfeae 50.08%,#9afca5 55.05%,#a9f79c 60.03%,#c5e88a 65.00%,#e0d377 69.97%,#faba65 74.94%,#ff9c53 79.91%,#ff8243 84.88%,#ff6534 89.85%,#ff4221 94.82%,#ff1e0f 99.79%)"></div>
<div style="left:42px;top:285px;width:120px;height:3px;background:linear-gradient(90deg,#29dbde 0.38%,#2edfdb 5.35%,#33e3d9 10.32%,#3be8d6 15.29%,#42edd3 20.26%,#4ff4cd 25.23%,#5cf9c7 30.20%,#69fcc1 35.17%,#75feba 40.14%,#80ffb4 45.11%,#8bfeae 50.08%,#9bfba5 55.05%,#aaf69b 60.03%,#c5e88a 65.00%,#e0d377 69.97%,#faba65 74.94%,#ff9c53 79.91%,#ff8243 84.88%,#ff6534 89.85%,#ff4221 94.82%,#ff1d0f 99.79%)"></div>
<div style="left:42px;top:288px;width:120px;height:3px;background:linear-gradient(90deg,#29dbde 0.38%,#2edfdb 5.35%,#33e3d9 10.32%,#3be8d6 15.29%,#42edd3 20.26%,#4ff4cd 25.23%,#5cf9c7 30.20%,#69fcc1 35.17%,#75feba 40.14%,#81ffb4 45.11%,#8cfead 50.08%,#9bfba4 55.05%,#aaf69b 60.03%,#c5e88a 65.00%,#e0d377 69.97%,#faba65 74.94%,#ff9c53 79.91%,#ff8243 84.88%,#ff6534 89.85%,#ff4221 94.82%,#ff1d0e 99.79%)"></div>
<div style="left:42px;top:291px;width:120px;height:3px;background:linear-gradient(90deg,#29dbde 0.38%,#2edfdb 5.35%,#33e3d9 10.32%,#3be8d6 15.29%,#42edd3 20.26%,#4ff4cd 25.23%,#5cf9c7 30.20%,#69fcc1 35.17%,#75feba 40.14%,#81ffb4 45.11%,#8cfead 50.08%,#9cfba4 55.05%,#abf69b 60.03%,#c6e889 65.00%,#e0d377 69.97%,#faba65 74.94%,#ff9c53 79.91%,#ff8243 84.88%,#ff6534 89.85%,#ff4121 94.82%,#ff1c0e 99.79%)"></div>
<div style="left:42px;top:294px;width:120px;height:3px;background:linear-gradient(90deg,#29dbde 0.38%,#2edfdb 5.35%,#33e3d9 10.32%,#3be8d6 15.29%,#42edd3 20.26%,#4ff4cd 25.23%,#5cf9c7 30.20%,#69fcc1 35.17%,#75feba 40.14%,#81ffb3 45.11%,#8dfead 50.08%,#9cfba4 55.05%,#abf69a 60.03%,#c6e789 65.00%,#e0d377 69.97%,#faba65 74.94%,#ff9c53 79.91%,#ff8243 84.88%,#ff6534 89.85%,#ff4121 94.82%,#ff1b0e 99.79%)"></div>
<div style="left:42px;top:297px;width:120px;height:3px;background:linear-gradient(90deg,#29dbde 0.38%,#2edfdb 5.35%,#33e3d9 10.32%,#3be8d6 15.29%,#42edd3 20.26%,#4ff4cd 25.23%,#5cf9c7 30.20%,#69fcc1 35.17%,#75feba 40.14%,#81ffb3 45.11%,#8dfead 50.08%,#9cfba4 55.05%,#acf69a 60.03%,#c6e789 65.00%,#e0d377 69.97%,#faba65 74.94%,#ff9c53 79.91%,#ff8243 84.88%,#ff6534 89.85%,#ff4121 94.82%,#ff1b0d 99.79%)"></div>
<div style="left:42px;top:300px;width:120px;height:3px;background:linear-gradient(90deg,#29dbde 0.38%,#2edfdb 5.35%,#33e3d9 10.32%,#3be8d6 15.29%,#42edd3 20.26%,#4ff4cd 25.23%,#5cf9c7 30.20%,#69fcc1 35.17%,#75feba 40.14%,#81ffb3 45.11%,#8efeac 50.08%,#9dfba3 55.05%,#acf59a 60.03%,#c6e789 65.00%,#e0d377 69.97%,#faba65 74.94%,#ff9c53 79.91%,#ff8243 84.88%,#ff6534 89.85%,#ff4020 94.82%,#ff1a0d 99.79%)"></div>
<div style="left:42px;top:303px;width:120px;height:3px;background:linear-gradient(90deg,#29dbde 0.38%,#2edfdb 5.35%,#33e3d9 10.32%,#3be8d6 15.29%,#42edd3 20.26%,#4ff4cd 25.23%,#5cf9c7 30.20%,#69fcc1 35.17%,#75feba 40.14%,#82ffb3 45.11%,#8efeac 50.08%,#9dfba3 55.05%,#adf59a 60.03%,#c7e789 65.00%,#e0d377 69.97%,#faba65 74.94%,#ff9c53 79.91%,#ff8243 84.88%,#ff6534 89.85%,#ff4020 94.82%,#ff190d 99.79%)"></div>
<div style="left:42px;top:306px;width:120px;height:3px;background:linear-gradient(90deg,#29dbde 0.38%,#2edfdb 5.35%,#33e3d9 10.32%,#3be8d6 15.29%,#42edd3 20.26%,#4ff4cd 25.23%,#5cf9c7 30.20%,#69fcc1 35.17%,#75feba 40.14%,#82ffb3 45.11%,#8ffeac 50.08%,#9efba3 55.05%,#adf599 60.03%,#c7e789 65.00%,#e0d377 69.97%,#faba65 74.94%,#ff9c53 79.91%,#ff8243 84.88%,#ff6534 89.85%,#ff4020 94.82%,#ff180c 99.79%)"></div>
<div style="left:42px;top:309px;width:120px;height:1px;background:linear-gradient(90deg,#29dbde 0.38%,#2edfdb 5.35%,#33e3d9 10.32%,#3be8d6 15.29%,#42edd3 20.26%,#4ff4cd 25.23%,#5cf9c7 30.20%,#69fcc1 35.17%,#75feba 40.14%,#82ffb3 45.11%,#8ffeac 50.08%,#9efaa3 55.05%,#adf599 60.03%,#c7e789 65.00%,#e0d377 69.97%,#faba65 74.94%,#ff9c53 79.91%,#ff8243 84.88%,#ff6534 89.85%,#ff3f20 94.82%,#ff180c 99.79%)"></div>
<div style="left:164.50px;top:198.00px;width:5.90px;height:111.25px;background:linear-gradient(180deg,#ff0000 0%,#ff2814 5%,#ff4f28 10%,#ff743c 15%,#ff964f 20%,#ffb462 25%,#e5ce74 30%,#cce385 35%,#b2f396 40%,#99fca6 45%,#80ffb4 50%,#66fcc2 55%,#4df3ce 60%,#33e3d9 65%,#1acee3 70%,#00b4ec 75%,#1a96f3 80%,#3374f8 85%,#4d4ffc 90%,#6628fe 95%,#8000ff 100%)"></div>
<div style="left:272px;top:198px;width:120px;height:3px;background:linear-gradient(90deg,#7f01ff 0.29%,#7f01ff 5.26%,#7f01ff 10.23%,#7f01ff 15.20%,#7f01ff 20.18%,#7f01ff 25.15%,#7f01ff 30.12%,#7f01ff 35.09%,#7f01ff 40.06%,#7f01ff 45.03%,#7f01ff 50.00%,#7f01ff 54.97%,#7f01ff 59.94%,#7f01ff 64.91%,#7f01ff 69.88%,#7f01ff 74.85%,#7f01ff 79.83%,#7f01ff 84.80%,#7f01ff 89.77%,#7f01ff 94.74%,#7f01ff 99.71%)"></div>
<div style="left:272px;top:201px;width:120px;height:3px;background:linear-gradient(90deg,#7e03ff 0.29%,#7e03ff 5.26%,#7e03ff 10.23%,#7e03ff 15.20%,#7e03ff 20.18%,#7e03ff 25.15%,#7e03ff 30.12%,#7e03ff 35.09%,#7e03ff 40.06%,#7e03ff 45.03%,#7e03ff 50.00%,#7e03ff 54.97%,#7e03ff 59.94%,#7e03ff 64.91%,#7e03ff 69.88%,#7e03ff 74.85%,#7e03ff 79.83%,#7e03ff 84.80%,#7e03ff 89.77%,#7e03ff 94.74%,#7e03ff 99.71%)"></div>
<div style="left:272px;top:204px;width:120px;height:3px;background:linear-gradient(90deg,#7c05ff 0.29%,#7c05ff 5.26%,#7c05ff 10.23%,#7c05ff 15.20%,#7c05ff 20.18%,#7c05ff 25.15%,#7c05ff 30.12%,#7c05ff 35.09%,#7c05ff 40.06%,#7c05ff 45.03%,#7c05ff 50.00%,#7c05ff 54.97%,#7c05ff 59.94%,#7c05ff 64.91%,#7c05ff 69.88%,#7c05ff 74.85%,#7c05ff 79.83%,#7c05ff 84.80%,#7c05ff 89.77%,#7c05ff 94.74%,#7c05ff 99.71%)"></div>
<div style="left:272px;top:207px;width:120px;height:3px;background:linear-gradient(90deg,#7b07ff 0.29%,#7b07ff 5.26%,#7b07ff 10.23%,#7b07ff 15.20%,#7b07ff 20.18%,#7b07ff 25.15%,#7b07ff 30.12%,#7b07ff 35.09%,#7b07ff 40.06%,#7b07ff 45.03%,#7b07ff 50.00%,#7b07ff 54.97%,#7b07ff 59.94%,#7b07ff 64.91%,#7b07ff 69.88%,#7b07ff 74.85%,#7b07ff 79.83%,#7b07ff 84.80%,#7b07ff 89.77%,#7b07ff 94.74%,#7b07ff 99.71%)"></div>
<div style="left:272px;top:210px;width:120px;height:3px;background:linear-gradient(90deg,#7610ff 0.29%,#7610ff 5.26%,#7610ff 10.23%,#7610ff 15.20%,#7610ff 20.18%,#7610ff 25.15%,#7610ff 30.12%,#7610ff 35.09%,#7610ff 40.06%,#7610ff 45.03%,#7610ff 50.00%,#7610ff 54.97%,#7610ff 59.94%,#7610ff 64.91%,#7610ff 69.88%,#7610ff 74.85%,#7610ff 79.83%,#7610ff 84.80%,#7610ff 89.77%,#760fff 94.74%,#770eff 99.71%)"></div>
<div style="left:272px;top:213px;width:120px;height:3px;background:linear-gradient(90deg,#6924fe 0.29%,#6924fe 5.26%,#6924fe 10.23%,#6924fe 15.20%,#6924fe 20.18%,#6924fe 25.15%,#6924fe 30.12%,#6924fe 35.09%,#6924fe 40.06%,#6924fe 45.03%,#6924fe 50.00%,#6924fe 54.97%,#6924fe 59.94%,#6924fe 64.91%,#6924fe 69.88%,#6923fe 74.85%,#6923fe 79.83%,#6a22fe 84.80%,#6a21fe 89.77%,#6b20ff 94.74%,#6d1eff 99.71%)"></div>
<div style="left:272px;top:216px;width:120px;height:3px;background:linear-gradient(90deg,#583dfd 0.29%,#583dfd 5.26%,#583dfd 10.23%,#583dfd 15.20%,#583dfd 20.18%,#583dfd 25.15%,#583dfd 30.12%,#583dfd 35.09%,#583dfd 40.06%,#583dfd 45.03%,#583dfd 50.00%,#583dfd 54.97%,#583dfd 59.94%,#583dfd 64.91%,#593cfd 69.88%,#5a3afd 74.85%,#5b39fd 79.83%,#5c37fe 84.80%,#5e35fe 89.77%,#5f33fe 94.74%,#6031fe 99.71%)"></div>
<div style="left:272px;top:219px;width:120px;height:3px;background:linear-gradient(90deg,#4659fb 0.29%,#4659fb 5.26%,#4659fb 10.23%,#4659fb 15.20%,#4659fb 20.18%,#4659fb 25.15%,#4659fb 30.12%,#4659fb 35.09%,#4659fb 40.06%,#4659fb 45.03%,#4659fb 50.00%,#4659fb 54.97%,#4659fb 59.94%,#4757fb 64.91%,#4855fb 69.88%,#4a53fc 74.85%,#4b51fc 79.83%,#4c4ffc 84.80%,#4e4dfc 89.77%,#4f4bfc 94.74%,#5049fc 99.71%)"></div>
<div style="left:272px;top:222px;width:120px;height:3px;background:linear-gradient(90deg,#3473f8 0.29%,#3473f8 5.26%,#3473f8 10.23%,#3473f8 15.20%,#3473f8 20.18%,#3473f8 25.15%,#3473f8 30.12%,#3473f8 35.09%,#3473f8 40.06%,#3473f8 45.03%,#3473f8 50.00%,#3473f8 54.97%,#3473f8 59.94%,#3571f8 64.91%,#366ff9 69.88%,#376ef9 74.85%,#396cf9 79.83%,#3b68f9 84.80%,#3e65fa 89.77%,#4061fa 94.74%,#435dfb 99.71%)"></div>
<div style="left:272px;top:225px;width:120px;height:3px;background:linear-gradient(90deg,#1c93f3 0.29%,#1c93f3 5.26%,#1c93f3 10.23%,#1c93f3 15.20%,#1c93f3 20.18%,#1c93f3 25.15%,#1c93f3 30.12%,#1c93f3 35.09%,#1c93f3 40.06%,#1c93f3 45.03%,#1c93f3 50.00%,#1c93f3 54.97%,#1c93f3 59.94%,#1e90f4 64.91%,#218df4 69.88%,#228bf4 74.85%,#2389f5 79.83%,#2587f5 84.80%,#2685f5 89.77%,#2982f6 94.74%,#2b7ef6 99.71%)"></div>
<div style="left:272px;top:228px;width:120px;height:3px;background:linear-gradient(90deg,#05afed 0.29%,#05afed 5.26%,#05afed 10.23%,#05afed 15.20%,#05afed 20.18%,#05afed 25.15%,#05afed 30.12%,#05afed 35.09%,#05afed 40.06%,#05afed 45.03%,#05afed 50.00%,#05afed 54.97%,#05afed 59.94%,#07acee 64.91%,#0aa9ee 69.88%,#0ca7ef 74.85%,#0ea5ef 79.83%,#0fa3f0 84.80%,#10a2f0 89.77%,#129ff1 94.74%,#149df1 99.71%)"></div>
<div style="left:272px;top:231px;width:120px;height:3px;background:linear-gradient(90deg,#15cae5 0.29%,#15cae5 5.26%,#15cae5 10.23%,#15cae5 15.20%,#15cae5 20.18%,#15cae5 25.15%,#15cae5 30.12%,#15cae5 35.09%,#15cae5 40.06%,#15cae5 45.03%,#15cae5 50.00%,#15cae5 54.97%,#15cae5 59.94%,#13c8e6 64.91%,#11c6e6 69.88%,#0fc5e7 74.85%,#0ec3e7 79.83%,#0dc2e8 84.80%,#0cc1e8 89.77%,#0bc0e8 94.74%,#0abfe8 99.71%)"></div>
<div style="left:272px;top:234px;width:120px;height:3px;background:linear-gradient(90deg,#35e4d9 0.29%,#35e4d9 5.26%,#35e4d9 10.23%,#35e4d9 15.20%,#35e4d9 20.18%,#35e4d9 25.15%,#35e4d9 30.12%,#35e4d9 35.09%,#35e4d9 40.06%,#35e4d9 45.03%,#35e4d9 50.00%,#35e5d8 54.97%,#36e5d8 59.94%,#37e6d8 64.91%,#37e6d8 69.88%,#38e7d7 74.85%,#38e7d7 79.83%,#39e7d7 84.80%,#3ae8d7 89.77%,#3ae8d6 94.74%,#3be9d6 99.71%)"></div>
<div style="left:272px;top:237px;width:120px;height:3px;background:linear-gradient(90deg,#60fac5 0.29%,#60fac5 5.26%,#60fac5 10.23%,#60fac5 15.20%,#61fac5 20.18%,#61fac5 25.15%,#61fac5 30.12%,#61fbc4 35.09%,#61fbc4 40.06%,#62fbc4 45.03%,#62fbc4 50.00%,#65fbc3 54.97%,#67fcc1 59.94%,#6afdc0 64.91%,#6dfdbe 69.88%,#70febd 74.85%,#73febb 79.83%,#77ffb9 84.80%,#7bffb7 89.77%,#7effb5 94.74%,#81ffb3 99.71%)"></div>
<div style="left:272px;top:240px;width:120px;height:3px;background:linear-gradient(90deg,#7bffb7 0.29%,#7bffb7 5.26%,#7bffb7 10.23%,#7dffb5 15.20%,#80ffb4 20.18%,#80ffb4 25.15%,#80ffb4 30.12%,#83ffb3 35.09%,#85ffb1 40.06%,#88ffb0 45.03%,#8afeae 50.00%,#8dfead 54.97%,#90feab 59.94%,#95fda8 64.91%,#9afca5 69.88%,#a2f9a0 74.85%,#aaf69b 79.83%,#b4f295 84.80%,#beec8e 89.77%,#c6e789 94.74%,#cee284 99.71%)"></div>
<div style="left:272px;top:243px;width:120px;height:3px;background:linear-gradient(90deg,#89ffaf 0.29%,#89ffaf 5.26%,#89ffaf 10.23%,#8bfeae 15.20%,#8efeac 20.18%,#90feab 25.15%,#93fda9 30.12%,#95fda8 35.09%,#98fca6 40.06%,#9afca5 45.03%,#9dfba3 50.00%,#a2f9a0 54.97%,#a7f89d 59.94%,#b0f497 64.91%,#baee91 69.88%,#c7e789 74.85%,#d3de80 79.83%,#e0d478 84.80%,#ecc86f 89.77%,#f6be68 94.74%,#ffb361 99.71%)"></div>
<div style="left:272px;top:246px;width:120px;height:3px;background:linear-gradient(90deg,#8efeac 0.29%,#90feab 5.26%,#92fdaa 10.23%,#95fda8 15.20%,#97fca7 20.18%,#9afca5 25.15%,#9cfba4 30.12%,#a0faa1 35.09%,#a4f99f 40.06%,#a7f79d 45.03%,#abf69b 50.00%,#b2f396 54.97%,#b9ef92 59.94%,#c3e98b 64.91%,#cee284 69.88%,#ddd67a 74.85%,#ebc970 79.83%,#fab965 84.80%,#ffa95a 89.77%,#ff9c53 94.74%,#ff8f4b 99.71%)"></div>
<div style="left:272px;top:249px;width:120px;height:3px;background:linear-gradient(90deg,#8ffeac 0.29%,#91fdaa 5.26%,#94fda9 10.23%,#97fca7 15.20%,#9afca5 20.18%,#9dfba3 25.15%,#a0faa1 30.12%,#a5f89e 35.09%,#aaf69b 40.06%,#aff498 45.03%,#b4f295 50.00%,#bded8f 54.97%,#c6e889 59.94%,#d0e083 64.91%,#dad87c 69.88%,#e9cb71 74.85%,#f9bb66 79.83%,#ffaa5b 84.80%,#ff9750 89.77%,#ff8947 94.74%,#ff7a3f 99.71%)"></div>
<div style="left:272px;top:252px;width:120px;height:3px;background:linear-gradient(90deg,#8ffeac 0.29%,#91fdaa 5.26%,#94fda9 10.23%,#98fca6 15.20%,#9bfba4 20.18%,#9ffaa2 25.15%,#a3f9a0 30.12%,#a9f79c 35.09%,#b0f498 40.06%,#b6f194 45.03%,#bced90 50.00%,#c6e789 54.97%,#d1e082 59.94%,#dbd87b 64.91%,#e5cf74 69.88%,#f4c069 74.85%,#ffaf5e 79.83%,#ff9d53 84.80%,#ff8947 89.77%,#ff783e 94.74%,#ff6634 99.71%)"></div>
<div style="left:272px;top:255px;width:120px;height:3px;background:linear-gradient(90deg,#8ffeac 0.29%,#92fdaa 5.26%,#95fda8 10.23%,#99fca6 15.20%,#9dfba3 20.18%,#a1f9a1 25.15%,#a6f89e 30.12%,#adf599 35.09%,#b4f295 40.06%,#bbee90 45.03%,#c2ea8c 50.00%,#cce385 54.97%,#d6db7e 59.94%,#e1d377 64.91%,#ebc970 69.88%,#f9ba66 74.85%,#ffaa5b 79.83%,#ff974f 84.80%,#ff8244 89.77%,#ff703a 94.74%,#ff5e30 99.71%)"></div>
<div style="left:272px;top:258px;width:120px;height:3px;background:linear-gradient(90deg,#8ffeac 0.29%,#92fdaa 5.26%,#95fda8 10.23%,#9afca5 15.20%,#9efaa2 20.18%,#a3f99f 25.15%,#a9f79c 30.12%,#b0f497 35.09%,#b8f092 40.06%,#c0eb8d 45.03%,#c7e688 50.00%,#d2df81 54.97%,#dcd77a 59.94%,#e6ce73 64.91%,#f0c46c 69.88%,#feb562 74.85%,#ffa558 79.83%,#ff914c 84.80%,#ff7c40 89.77%,#ff6936 94.74%,#ff562b 99.71%)"></div>
<div style="left:272px;top:261px;width:120px;height:3px;background:linear-gradient(90deg,#8ffeac 0.29%,#92fdaa 5.26%,#96fda7 10.23%,#9bfba5 15.20%,#a0faa2 20.18%,#a5f89e 25.15%,#abf69a 30.12%,#b4f295 35.09%,#bced90 40.06%,#c5e88a 45.03%,#cde385 50.00%,#d7db7e 54.97%,#e1d277 59.94%,#ecc96f 64.91%,#f6be68 69.88%,#ffb05f 74.85%,#ffa055 79.83%,#ff8b49 84.80%,#ff753c 89.77%,#ff6232 94.74%,#ff4d27 99.71%)"></div>
<div style="left:272px;top:264px;width:120px;height:3px;background:linear-gradient(90deg,#8ffeac 0.29%,#93fda9 5.26%,#97fca7 10.23%,#9cfba4 15.20%,#a1faa1 20.18%,#a7f79d 25.15%,#aef599 30.12%,#b7f093 35.09%,#c0eb8d 40.06%,#c9e587 45.03%,#d2df81 50.00%,#dcd77a 54.97%,#e6ce73 59.94%,#f0c46c 64.91%,#fbb965 69.88%,#ffab5b 74.85%,#ff9b52 79.83%,#ff8646 84.80%,#ff6f39 89.77%,#ff5b2e 94.74%,#ff4623 99.71%)"></div>
<div style="left:272px;top:267px;width:120px;height:3px;background:linear-gradient(90deg,#8ffeac 0.29%,#93fda9 5.26%,#97fca7 10.23%,#9dfba3 15.20%,#a2f9a0 20.18%,#a9f79c 25.15%,#b0f497 30.12%,#b9ef92 35.09%,#c2ea8c 40.06%,#cbe486 45.03%,#d5dd7f 50.00%,#dfd478 54.97%,#e9cb71 59.94%,#f4c16a 64.91%,#feb562 69.88%,#ffa759 74.85%,#ff9850 79.83%,#ff8344 84.80%,#ff6d38 89.77%,#ff582c 94.74%,#ff4221 99.71%)"></div>
<div style="left:272px;top:270px;width:120px;height:3px;background:linear-gradient(90deg,#8ffeac 0.29%,#93fda9 5.26%,#98fca6 10.23%,#9efba3 15.20%,#a4f99f 20.18%,#abf69b 25.15%,#b2f396 30.12%,#bbee90 35.09%,#c4e98b 40.06%,#cee284 45.03%,#d7db7e 50.00%,#e1d277 54.97%,#ecc86f 59.94%,#f7bd68 64.91%,#ffb160 69.88%,#ffa357 74.85%,#ff944e 79.83%,#ff8042 84.80%,#ff6a36 89.77%,#ff542b 94.74%,#ff3e1f 99.71%)"></div>
<div style="left:272px;top:273px;width:120px;height:3px;background:linear-gradient(90deg,#8ffeac 0.29%,#94fda9 5.26%,#99fca6 10.23%,#9ffaa2 15.20%,#a5f89e 20.18%,#adf59a 25.15%,#b4f295 30.12%,#bded8f 35.09%,#c6e789 40.06%,#d0e083 45.03%,#dad87c 50.00%,#e4cf75 54.97%,#eec66d 59.94%,#faba65 64.91%,#ffad5d 69.88%,#ffa055 74.85%,#ff914c 79.83%,#ff7c40 84.80%,#ff6734 89.77%,#ff5029 94.74%,#ff3a1d 99.71%)"></div>
<div style="left:272px;top:276px;width:120px;height:3px;background:linear-gradient(90deg,#8ffeab 0.29%,#94fda8 5.26%,#99fca5 10.23%,#a0faa2 15.20%,#a6f89e 20.18%,#aef599 25.15%,#b5f194 30.12%,#beec8e 35.09%,#c7e688 40.06%,#d1df82 45.03%,#dcd77b 50.00%,#e6ce74 54.97%,#f0c46c 59.94%,#fbb864 64.91%,#ffab5c 69.88%,#ff9e53 74.85%,#ff8f4b 79.83%,#ff7b3f 84.80%,#ff6534 89.77%,#ff4e28 94.74%,#ff361b 99.71%)"></div>
<div style="left:272px;top:279px;width:120px;height:3px;background:linear-gradient(90deg,#90feab 0.29%,#95fda8 5.26%,#9afca5 10.23%,#a0faa1 15.20%,#a7f89d 20.18%,#aef498 25.15%,#b6f194 30.12%,#bfec8e 35.09%,#c8e688 40.06%,#d2df81 45.03%,#dcd77a 50.00%,#e6ce73 54.97%,#f0c46c 59.94%,#fcb864 64.91%,#ffab5b 69.88%,#ff9d53 74.85%,#ff8e4a 79.83%,#ff7a3f 84.80%,#ff6433 89.77%,#ff4d27 94.74%,#ff341a 99.71%)"></div>
<div style="left:272px;top:282px;width:120px;height:3px;background:linear-gradient(90deg,#91fdaa 0.29%,#96fda7 5.26%,#9bfba5 10.23%,#a1faa1 15.20%,#a7f79d 20.18%,#aff498 25.15%,#b7f093 30.12%,#c0eb8d 35.09%,#c9e687 40.06%,#d3de81 45.03%,#dcd67a 50.00%,#e7cd73 54.97%,#f1c36c 59.94%,#fcb764 64.91%,#ffaa5b 69.88%,#ff9c53 74.85%,#ff8e4a 79.83%,#ff793f 84.80%,#ff6433 89.77%,#ff4b26 94.74%,#ff3219 99.71%)"></div>
<div style="left:272px;top:285px;width:120px;height:3px;background:linear-gradient(90deg,#92fdaa 0.29%,#97fca7 5.26%,#9bfba4 10.23%,#a2f9a0 15.20%,#a8f79c 20.18%,#b0f498 25.15%,#b7f093 30.12%,#c0eb8d 35.09%,#c9e587 40.06%,#d3de80 45.03%,#ddd67a 50.00%,#e7cd73 54.97%,#f1c36b 59.94%,#fdb763 64.91%,#ffaa5b 69.88%,#ff9c52 74.85%,#ff8d4a 79.83%,#ff793e 84.80%,#ff6332 89.77%,#ff4a25 94.74%,#ff3018 99.71%)"></div>
<div style="left:272px;top:288px;width:120px;height:3px;background:linear-gradient(90deg,#93fda9 0.29%,#98fca6 5.26%,#9cfba4 10.23%,#a2f9a0 15.20%,#a9f79c 20.18%,#b1f397 25.15%,#b8f092 30.12%,#c1ea8c 35.09%,#cae587 40.06%,#d4dd80 45.03%,#ddd679 50.00%,#e8cc72 54.97%,#f2c26b 59.94%,#fdb663 64.91%,#ffa95a 69.88%,#ff9b52 74.85%,#ff8d49 79.83%,#ff783e 84.80%,#ff6232 89.77%,#ff4925 94.74%,#ff2e17 99.71%)"></div>
<div style="left:272px;top:291px;width:120px;height:3px;background:linear-gradient(90deg,#94fda9 0.29%,#98fca6 5.26%,#9dfba3 10.23%,#a3f99f 15.20%,#aaf69c 20.18%,#b1f397 25.15%,#b9ef92 30.12%,#c2ea8c 35.09%,#cbe486 40.06%,#d4dd80 45.03%,#ded579 50.00%,#e8cc72 54.97%,#f2c26b 59.94%,#feb663 64.91%,#ffa95a 69.88%,#ff9b52 74.85%,#ff8c49 79.83%,#ff773d 84.80%,#ff6232 89.77%,#ff4724 94.74%,#ff2c16 99.71%)"></div>
<div style="left:272px;top:294px;width:120px;height:3px;background:linear-gradient(90deg,#95fda8 0.29%,#99fca6 5.26%,#9dfba3 10.23%,#a4f99f 15.20%,#aaf69b 20.18%,#b2f396 25.15%,#baef91 30.12%,#c2ea8c 35.09%,#cbe486 40.06%,#d5dd7f 45.03%,#ded579 50.00%,#e8cb72 54.97%,#f3c16a 59.94%,#feb562 64.91%,#ffa85a 69.88%,#ff9a51 74.85%,#ff8b49 79.83%,#ff773d 84.80%,#ff6131 89.77%,#ff4623 94.74%,#ff2a15 99.71%)"></div>
<div style="left:272px;top:297px;width:120px;height:3px;background:linear-gradient(90deg,#96fda8 0.29%,#9afca5 5.26%,#9efaa2 10.23%,#a5f89f 15.20%,#abf69b 20.18%,#b3f296 25.15%,#baee91 30.12%,#c3e98b 35.09%,#cce385 40.06%,#d5dc7f 45.03%,#dfd478 50.00%,#e9cb71 54.97%,#f3c16a 59.94%,#ffb562 64.91%,#ffa859 69.88%,#ff9a51 74.85%,#ff8b48 79.83%,#ff763d 84.80%,#ff6031 89.77%,#ff4423 94.74%,#ff2814 99.71%)"></div>
<div style="left:272px;top:300px;width:120px;height:3px;background:linear-gradient(90deg,#97fca7 0.29%,#9bfba5 5.26%,#9ffaa2 10.23%,#a5f89e 15.20%,#acf69a 20.18%,#b3f295 25.15%,#bbee90 30.12%,#c4e98b 35.09%,#cde385 40.06%,#d6dc7e 45.03%,#dfd478 50.00%,#e9cb71 54.97%,#f4c16a 59.94%,#ffb462 64.91%,#ffa759 69.88%,#ff9951 74.85%,#ff8a48 79.83%,#ff753c 84.80%,#ff6031 89.77%,#ff4322 94.74%,#ff2513 99.71%)"></div>
<div style="left:272px;top:303px;width:120px;height:3px;background:linear-gradient(90deg,#98fca6 0.29%,#9cfba4 5.26%,#a0faa2 10.23%,#a6f89e 15.20%,#acf59a 20.18%,#b4f295 25.15%,#bcee90 30.12%,#c5e88a 35.09%,#cde284 40.06%,#d7db7e 45.03%,#e0d478 50.00%,#eaca71 54.97%,#f4c069 59.94%,#ffb461 64.91%,#ffa659 69.88%,#ff9850 74.85%,#ff8a48 79.83%,#ff753c 84.80%,#ff5f30 89.77%,#ff4221 94.74%,#ff2312 99.71%)"></div>
<div style="left:272px;top:306px;width:120px;height:3px;background:linear-gradient(90deg,#98fca6 0.29%,#9cfba4 5.26%,#a0faa1 10.23%,#a7f89d 15.20%,#adf599 20.18%,#b5f195 25.15%,#bced90 30.12%,#c5e88a 35.09%,#cee284 40.06%,#d7db7e 45.03%,#e0d378 50.00%,#eaca70 54.97%,#f5c069 59.94%,#ffb361 64.91%,#ffa658 69.88%,#ff9850 74.85%,#ff8947 79.83%,#ff743c 84.80%,#ff5e30 89.77%,#ff4020 94.74%,#ff2111 99.71%)"></div>
<div style="left:272px;top:309px;width:120px;height:1px;background:linear-gradient(90deg,#99fca6 0.29%,#9dfba3 5.26%,#a1faa1 10.23%,#a7f79d 15.20%,#adf599 20.18%,#b5f194 25.15%,#bded8f 30.12%,#c6e889 35.09%,#cfe184 40.06%,#d7da7d 45.03%,#e0d377 50.00%,#ebc970 54.97%,#f5bf69 59.94%,#ffb361 64.91%,#ffa658 69.88%,#ff9850 74.85%,#ff8947 79.83%,#ff743c 84.80%,#ff5e30 89.77%,#ff3f20 94.74%,#ff2010 99.71%)"></div>
<div style="left:394.40px;top:198.00px;width:5.90px;height:111.25px;background:linear-gradient(180deg,#ff0000 0%,#ff2814 5%,#ff4f28 10%,#ff743c 15%,#ff964f 20%,#ffb462 25%,#e5ce74 30%,#cce385 35%,#b2f396 40%,#99fca6 45%,#80ffb4 50%,#66fcc2 55%,#4df3ce 60%,#33e3d9 65%,#1acee3 70%,#00b4ec 75%,#1a96f3 80%,#3374f8 85%,#4d4ffc 90%,#6628fe 95%,#8000ff 100%)"></div>
<div style="left:501px;top:198px;width:120px;height:3px;background:linear-gradient(90deg,#69fdc0 0.42%,#6ffebd 5.39%,#74febb 10.36%,#79ffb8 15.33%,#7effb5 20.30%,#83ffb2 25.27%,#88ffb0 30.24%,#90feab 35.21%,#98fca6 40.18%,#a5f89f 45.15%,#b1f397 50.12%,#c3e98b 55.10%,#d5dc7f 60.07%,#e7cc72 65.04%,#faba65 70.01%,#ffa356 74.98%,#ff8947 79.95%,#ff703a 84.92%,#ff562c 89.89%,#ff381c 94.86%,#ff180c 99.83%)"></div>
<div style="left:501px;top:201px;width:120px;height:3px;background:linear-gradient(90deg,#66fcc2 0.42%,#6bfdbf 5.39%,#70febd 10.36%,#75ffba 15.33%,#7bffb7 20.30%,#80ffb4 25.27%,#85ffb1 30.24%,#8dfead 35.21%,#95fda8 40.18%,#a2f9a0 45.15%,#aff498 50.12%,#c1ea8c 55.10%,#d4dd80 60.07%,#e6cd73 65.04%,#f9bb66 70.01%,#ffa357 74.98%,#ff8947 79.95%,#ff703a 84.92%,#ff562c 89.89%,#ff381c 94.86%,#ff180c 99.83%)"></div>
<div style="left:501px;top:204px;width:120px;height:3px;background:linear-gradient(90deg,#63fbc4 0.42%,#68fcc1 5.39%,#6dfdbe 10.36%,#72febc 15.33%,#77ffb9 20.30%,#7cffb6 25.27%,#81ffb3 30.24%,#8afeaf 35.21%,#92fdaa 40.18%,#a0faa2 45.15%,#adf599 50.12%,#c0eb8d 55.10%,#d2df81 60.07%,#e5ce74 65.04%,#f9bb66 70.01%,#ffa357 74.98%,#ff8947 79.95%,#ff703a 84.92%,#ff562c 89.89%,#ff381c 94.86%,#ff180c 99.83%)"></div>
<div style="left:501px;top:207px;width:120px;height:3px;background:linear-gradient(90deg,#60fac5 0.42%,#65fcc3 5.39%,#6afdc0 10.36%,#6ffebd 15.33%,#74febb 20.30%,#79ffb8 25.27%,#7effb5 30.24%,#87ffb0 35.21%,#8ffeab 40.18%,#9dfba3 45.15%,#abf69b 50.12%,#beed8f 55.10%,#d0e082 60.07%,#e4cf75 65.04%,#f8bc67 70.01%,#ffa457 74.98%,#ff8947 79.95%,#ff703a 84.92%,#ff562c 89.89%,#ff381c 94.86%,#ff180c 99.83%)"></div>
<div style="left:501px;top:210px;width:120px;height:3px;background:linear-gradient(90deg,#5cf9c7 0.42%,#61fbc4 5.39%,#66fcc2 10.36%,#6cfdbf 15.33%,#71febc 20.30%,#76ffba 25.27%,#7bffb7 30.24%,#84ffb2 35.21%,#8dfead 40.18%,#9bfba5 45.15%,#a9f79c 50.12%,#bcee90 55.10%,#cfe183 60.07%,#e3d075 65.04%,#f7bd67 70.01%,#ffa457 74.98%,#ff8947 79.95%,#ff703a 84.92%,#ff562c 89.89%,#ff381c 94.86%,#ff180c 99.83%)"></div>
<div style="left:501px;top:213px;width:120px;height:3px;background:linear-gradient(90deg,#59f8c8 0.42%,#5efac6 5.39%,#63fbc3 10.36%,#68fcc1 15.33%,#6dfdbe 20.30%,#72febb 25.27%,#78ffb9 30.24%,#81ffb4 35.21%,#8afeae 40.18%,#98fca6 45.15%,#a6f89d 50.12%,#baef91 55.10%,#cde284 60.07%,#e2d176 65.04%,#f7bd67 70.01%,#ffa457 74.98%,#ff8947 79.95%,#ff703a 84.92%,#ff562c 89.89%,#ff381c 94.86%,#ff180c 99.83%)"></div>
<div style="left:501px;top:216px;width:120px;height:3px;background:linear-gradient(90deg,#56f7ca 0.42%,#5bf8c8 5.39%,#60fac5 10.36%,#65fcc2 15.33%,#6afdc0 20.30%,#6ffebd 25.27%,#74feba 30.24%,#7effb5 35.21%,#87ffb0 40.18%,#96fda8 45.15%,#a4f99f 50.12%,#b8f092 55.10%,#cbe486 60.07%,#e1d277 65.04%,#f6be68 70.01%,#ffa558 74.98%,#ff8947 79.95%,#ff703a 84.92%,#ff562c 89.89%,#ff381c 94.86%,#ff180c 99.83%)"></div>
<div style="left:501px;top:219px;width:120px;height:3px;background:linear-gradient(90deg,#52f5cc 0.42%,#57f7c9 5.39%,#5df9c7 10.36%,#62fbc4 15.33%,#67fcc2 20.30%,#6cfdbf 25.27%,#71febc 30.24%,#7bffb7 35.21%,#84ffb2 40.18%,#93fda9 45.15%,#a2f9a0 50.12%,#b6f194 55.10%,#cae587 60.07%,#e0d378 65.04%,#f6be68 70.01%,#ffa558 74.98%,#ff8947 79.95%,#ff703a 84.92%,#ff562c 89.89%,#ff381c 94.86%,#ff180c 99.83%)"></div>
<div style="left:501px;top:222px;width:120px;height:3px;background:linear-gradient(90deg,#4ff4cd 0.42%,#54f6cb 5.39%,#59f8c8 10.36%,#5efac6 15.33%,#63fbc3 20.30%,#69fcc1 25.27%,#6efdbe 30.24%,#78ffb9 35.21%,#82ffb3 40.18%,#91feab 45.15%,#a0faa2 50.12%,#b4f295 55.10%,#c8e688 60.07%,#dfd479 65.04%,#f5bf69 70.01%,#ffa558 74.98%,#ff8947 79.95%,#ff703a 84.92%,#ff562c 89.89%,#ff381c 94.86%,#ff180c 99.83%)"></div>
<div style="left:501px;top:225px;width:120px;height:3px;background:linear-gradient(90deg,#4bf2cf 0.42%,#50f4cd 5.39%,#55f6ca 10.36%,#5af8c8 15.33%,#5ffac5 20.30%,#65fbc3 25.27%,#6afdc0 30.24%,#74feba 35.21%,#7fffb5 40.18%,#8efeac 45.15%,#9dfba3 50.12%,#b2f396 55.10%,#c6e789 60.07%,#ded579 65.04%,#f5bf69 70.01%,#ffa658 74.98%,#ff8947 79.95%,#ff703a 84.92%,#ff562c 89.89%,#ff381c 94.86%,#ff180c 99.83%)"></div>
<div style="left:501px;top:228px;width:120px;height:3px;background:linear-gradient(90deg,#45eed2 0.42%,#49f1d0 5.39%,#4df3ce 10.36%,#52f5cc 15.33%,#58f7c9 20.30%,#5efac6 25.27%,#64fbc3 30.24%,#70febd 35.21%,#7bffb7 40.18%,#8bfeae 45.15%,#9bfba5 50.12%,#b0f498 55.10%,#c5e88a 60.07%,#dcd77a 65.04%,#f4c06a 70.01%,#ffa659 74.98%,#ff8947 79.95%,#ff703a 84.92%,#ff562c 89.89%,#ff381c 94.86%,#ff180c 99.83%)"></div>
<div style="left:501px;top:231px;width:120px;height:3px;background:linear-gradient(90deg,#3eebd5 0.42%,#41ecd3 5.39%,#44eed2 10.36%,#4af1cf 15.33%,#51f4cc 20.30%,#58f7c9 25.27%,#5ffac6 30.24%,#6bfdbf 35.21%,#77ffb9 40.18%,#88ffb0 45.15%,#98fca6 50.12%,#adf599 55.10%,#c3e98b 60.07%,#dbd87b 65.04%,#f3c16a 70.01%,#ffa759 74.98%,#ff8947 79.95%,#ff703a 84.92%,#ff562c 89.89%,#ff381c 94.86%,#ff180c 99.83%)"></div>
<div style="left:501px;top:234px;width:120px;height:3px;background:linear-gradient(90deg,#38e7d7 0.42%,#3ae8d7 5.39%,#3ce9d6 10.36%,#43edd3 15.33%,#49f1d0 20.30%,#51f5cc 25.27%,#59f8c8 30.24%,#66fcc2 35.21%,#74febb 40.18%,#84ffb2 45.15%,#95fda8 50.12%,#abf69b 55.10%,#c1eb8d 60.07%,#d9d97c 65.04%,#f2c26b 70.01%,#ffa759 74.98%,#ff8947 79.95%,#ff703a 84.92%,#ff562c 89.89%,#ff381c 94.86%,#ff180c 99.83%)"></div>
<div style="left:501px;top:237px;width:120px;height:3px;background:linear-gradient(90deg,#31e2da 0.42%,#33e3da 5.39%,#34e4d9 10.36%,#3be9d6 15.33%,#42edd3 20.30%,#4bf2cf 25.27%,#54f6cb 30.24%,#62fbc4 35.21%,#70febd 40.18%,#81ffb3 45.15%,#92fda9 50.12%,#a9f79c 55.10%,#bfec8e 60.07%,#d8da7d 65.04%,#f1c36c 70.01%,#ffa85a 74.98%,#ff8947 79.95%,#ff703a 84.92%,#ff562c 89.89%,#ff381c 94.86%,#ff180c 99.83%)"></div>
<div style="left:501px;top:240px;width:120px;height:3px;background:linear-gradient(90deg,#2bdddd 0.42%,#2bdddd 5.39%,#2cdedc 10.36%,#33e3d9 15.33%,#3be8d6 20.30%,#44eed2 25.27%,#4ef3cd 30.24%,#5df9c6 35.21%,#6cfdbf 40.18%,#7effb5 45.15%,#90feab 50.12%,#a7f89d 55.10%,#bded8f 60.07%,#d7db7e 65.04%,#f0c46c 70.01%,#ffa85a 74.98%,#ff8947 79.95%,#ff703a 84.92%,#ff562c 89.89%,#ff381c 94.86%,#ff180c 99.83%)"></div>
<div style="left:501px;top:243px;width:120px;height:3px;background:linear-gradient(90deg,#24d8df 0.42%,#23d7e0 5.39%,#22d6e0 10.36%,#2adddd 15.33%,#33e3da 20.30%,#3eead5 25.27%,#49f1d0 30.24%,#59f8c9 35.21%,#68fcc1 40.18%,#7bffb7 45.15%,#8dfead 50.12%,#a4f89f 55.10%,#bcee90 60.07%,#d5dc7f 65.04%,#efc56d 70.01%,#ffa95a 74.98%,#ff8947 79.95%,#ff703a 84.92%,#ff562c 89.89%,#ff381c 94.86%,#ff180c 99.83%)"></div>
<div style="left:501px;top:246px;width:120px;height:3px;background:linear-gradient(90deg,#1dd2e2 0.42%,#1bd0e3 5.39%,#19cee3 10.36%,#22d5e0 15.33%,#2adddd 20.30%,#37e6d8 25.27%,#43eed2 30.24%,#54f6cb 35.21%,#64fbc3 40.18%,#77ffb9 45.15%,#8afeae 50.12%,#a2f9a0 55.10%,#baee91 60.07%,#d4dd80 65.04%,#edc76e 70.01%,#ffaa5b 74.98%,#ff8947 79.95%,#ff703a 84.92%,#ff562c 89.89%,#ff381c 94.86%,#ff180c 99.83%)"></div>
<div style="left:501px;top:249px;width:120px;height:3px;background:linear-gradient(90deg,#16cbe4 0.42%,#13c8e6 5.39%,#0fc4e7 10.36%,#19cde4 15.33%,#22d6e0 20.30%,#30e1db 25.27%,#3eead5 30.24%,#4ff4cd 35.21%,#60fac5 40.18%,#74febb 45.15%,#87ffb0 50.12%,#a0faa1 55.10%,#b9ef92 60.07%,#d3de81 65.04%,#ecc86f 70.01%,#ffab5b 74.98%,#ff8947 79.95%,#ff703a 84.92%,#ff562c 89.89%,#ff381c 94.86%,#ff180c 99.83%)"></div>
<div style="left:501px;top:252px;width:120px;height:3px;background:linear-gradient(90deg,#10c5e7 0.42%,#0bc0e8 5.39%,#06baea 10.36%,#10c5e7 15.33%,#1acfe3 20.30%,#29dcdd 25.27%,#38e7d7 30.24%,#4af1cf 35.21%,#5cf9c7 40.18%,#70febd 45.15%,#85ffb1 50.12%,#9efaa2 55.10%,#b8f093 60.07%,#d1df82 65.04%,#ebc970 70.01%,#ffac5c 74.98%,#ff8947 79.95%,#ff703a 84.92%,#ff562c 89.89%,#ff381c 94.86%,#ff180c 99.83%)"></div>
<div style="left:501px;top:255px;width:120px;height:3px;background:linear-gradient(90deg,#07bce9 0.42%,#04b9ea 5.39%,#01b6eb 10.36%,#0bc0e8 15.33%,#16cbe5 20.30%,#25d8df 25.27%,#34e4d9 30.24%,#46efd1 35.21%,#58f7c9 40.18%,#6dfdbe 45.15%,#82ffb3 50.12%,#9cfba4 55.10%,#b6f193 60.07%,#d0e083 65.04%,#e9cb71 70.01%,#ffad5d 74.98%,#ff8a48 79.95%,#ff723b 84.92%,#ff582d 89.89%,#ff391c 94.86%,#ff180c 99.83%)"></div>
<div style="left:501px;top:258px;width:120px;height:3px;background:linear-gradient(90deg,#01b3ec 0.42%,#02b2ec 5.39%,#03b1ec 10.36%,#07bce9 15.33%,#11c7e6 20.30%,#21d5e1 25.27%,#30e1db 30.24%,#42edd3 35.21%,#54f6cb 40.18%,#69fdc0 45.15%,#7fffb4 50.12%,#9afca5 55.10%,#b5f194 60.07%,#cee184 65.04%,#e8cc72 70.01%,#ffaf5e 74.98%,#ff8c49 79.95%,#ff743c 84.92%,#ff5a2e 89.89%,#ff3a1d 94.86%,#ff180c 99.83%)"></div>
<div style="left:501px;top:261px;width:120px;height:3px;background:linear-gradient(90deg,#09aaee 0.42%,#08abee 5.39%,#07acee 10.36%,#03b8eb 15.33%,#0dc2e7 20.30%,#1dd1e2 25.27%,#2cdedc 30.24%,#3eead5 35.21%,#50f4cd 40.18%,#66fcc2 45.15%,#7cffb6 50.12%,#98fca6 55.10%,#b4f295 60.07%,#cde285 65.04%,#e7cd73 70.01%,#ffb05f 74.98%,#ff8e4a 79.95%,#ff763d 84.92%,#ff5c2f 89.89%,#ff3b1e 94.86%,#ff180c 99.83%)"></div>
<div style="left:501px;top:264px;width:120px;height:3px;background:linear-gradient(90deg,#10a1f0 0.42%,#0ea5ef 5.39%,#0ba8ef 10.36%,#01b4ec 15.33%,#0abfe9 20.30%,#19cee3 25.27%,#28dbde 30.24%,#3ae8d6 35.21%,#4cf2cf 40.18%,#63fbc3 45.15%,#7affb7 50.12%,#96fda7 55.10%,#b2f396 60.07%,#cce385 65.04%,#e5ce74 70.01%,#ffb260 74.98%,#ff904b 79.95%,#ff773e 84.92%,#ff5e30 89.89%,#ff3c1e 94.86%,#ff180c 99.83%)"></div>
<div style="left:501px;top:267px;width:120px;height:3px;background:linear-gradient(90deg,#159cf1 0.42%,#11a0f0 5.39%,#0ea5ef 10.36%,#03b1ec 15.33%,#08bde9 20.30%,#17cce4 25.27%,#25d9df 30.24%,#38e7d7 35.21%,#4af1cf 40.18%,#61fbc4 45.15%,#78ffb8 50.12%,#95fda8 55.10%,#b1f397 60.07%,#cbe486 65.04%,#e5ce74 70.01%,#ffb260 74.98%,#ff914c 79.95%,#ff783e 84.92%,#ff5e30 89.89%,#ff3c1e 94.86%,#ff180c 99.83%)"></div>
<div style="left:501px;top:270px;width:120px;height:3px;background:linear-gradient(90deg,#1a96f3 0.42%,#159cf1 5.39%,#10a1f0 10.36%,#05aeed 15.33%,#06bbea 20.30%,#14c9e5 25.27%,#23d6e0 30.24%,#35e5d8 35.21%,#48f0d0 40.18%,#5ffac5 45.15%,#76ffb9 50.12%,#93fda9 55.10%,#b0f497 60.07%,#cbe486 65.04%,#e5ce74 70.01%,#ffb360 74.98%,#ff924d 79.95%,#ff793e 84.92%,#ff5e30 89.89%,#ff3c1e 94.86%,#ff180c 99.83%)"></div>
<div style="left:501px;top:273px;width:120px;height:3px;background:linear-gradient(90deg,#1e90f4 0.42%,#1997f2 5.39%,#139ef1 10.36%,#07acee 15.33%,#04b9ea 20.30%,#12c7e6 25.27%,#20d4e1 30.24%,#33e3d9 35.21%,#47efd1 40.18%,#5df9c6 45.15%,#74feba 50.12%,#92fdaa 55.10%,#b0f498 60.07%,#cbe486 65.04%,#e5ce74 70.01%,#ffb361 74.98%,#ff934d 79.95%,#ff793f 84.92%,#ff5e30 89.89%,#ff3c1e 94.86%,#ff180c 99.83%)"></div>
<div style="left:501px;top:276px;width:120px;height:3px;background:linear-gradient(90deg,#238af5 0.42%,#1c92f3 5.39%,#169af2 10.36%,#0aa9ee 15.33%,#02b7eb 20.30%,#10c5e7 25.27%,#1dd2e2 30.24%,#31e2da 35.21%,#45eed2 40.18%,#5cf9c7 45.15%,#73febb 50.12%,#91feab 55.10%,#aff498 60.07%,#cae587 65.04%,#e5ce74 70.01%,#ffb461 74.98%,#ff944e 79.95%,#ff7a3f 84.92%,#ff5e30 89.89%,#ff3c1e 94.86%,#ff180c 99.83%)"></div>
<div style="left:501px;top:279px;width:120px;height:3px;background:linear-gradient(90deg,#2784f6 0.42%,#208ef4 5.39%,#1997f2 10.36%,#0ca6ef 15.33%,#01b5eb 20.30%,#0dc3e7 25.27%,#1acfe3 30.24%,#2fe0db 35.21%,#43edd3 40.18%,#5af8c8 45.15%,#71febc 50.12%,#8ffeab 55.10%,#aef599 60.07%,#cae587 65.04%,#e5ce74 70.01%,#ffb461 74.98%,#ff964f 79.95%,#ff7b3f 84.92%,#ff5e30 89.89%,#ff3c1e 94.86%,#ff180c 99.83%)"></div>
<div style="left:501px;top:282px;width:120px;height:3px;background:linear-gradient(90deg,#2d7cf7 0.42%,#2488f5 5.39%,#1b93f3 10.36%,#0ea4f0 15.33%,#01b3ec 20.30%,#0bc1e8 25.27%,#18cde4 30.24%,#2ddfdc 35.21%,#42edd3 40.18%,#59f8c9 45.15%,#70febd 50.12%,#8efeac 55.10%,#adf59a 60.07%,#c9e587 65.04%,#e5cf74 70.01%,#feb562 74.98%,#ff974f 79.95%,#ff7b40 84.92%,#ff5e30 89.89%,#ff3c1e 94.86%,#ff180c 99.83%)"></div>
<div style="left:501px;top:285px;width:120px;height:3px;background:linear-gradient(90deg,#3473f8 0.42%,#2982f6 5.39%,#1e90f4 10.36%,#11a1f0 15.33%,#03b1ed 20.30%,#0abfe9 25.27%,#16cbe4 30.24%,#2cdedc 35.21%,#41ecd4 40.18%,#58f7c9 45.15%,#6ffebd 50.12%,#8dfead 55.10%,#acf69a 60.07%,#c8e688 65.04%,#e4d075 70.01%,#fdb663 74.98%,#ff9850 79.95%,#ff7c40 84.92%,#ff5e30 89.89%,#ff3c1e 94.86%,#ff180c 99.83%)"></div>
<div style="left:501px;top:288px;width:120px;height:3px;background:linear-gradient(90deg,#3a6af9 0.42%,#2d7bf7 5.39%,#218cf4 10.36%,#139ef1 15.33%,#05afed 20.30%,#08bde9 25.27%,#15cae5 30.24%,#2adddd 35.21%,#40ecd4 40.18%,#57f7c9 45.15%,#6efdbe 50.12%,#8cfead 55.10%,#abf69b 60.07%,#c7e789 65.04%,#e3d175 70.01%,#fdb763 74.98%,#ff9951 79.95%,#ff7d40 84.92%,#ff5e30 89.89%,#ff3c1e 94.86%,#ff180c 99.83%)"></div>
<div style="left:501px;top:291px;width:120px;height:3px;background:linear-gradient(90deg,#4061fa 0.42%,#3275f8 5.39%,#2489f5 10.36%,#159bf1 15.33%,#07adee 20.30%,#06bbea 25.27%,#13c8e6 30.24%,#29dcdd 35.21%,#3febd4 40.18%,#56f7ca 45.15%,#6dfdbe 50.12%,#8bfeae 55.10%,#aaf69b 60.07%,#c6e789 65.04%,#e2d176 70.01%,#fcb864 74.98%,#ff9a51 79.95%,#ff7d41 84.92%,#ff5e30 89.89%,#ff3c1e 94.86%,#ff180c 99.83%)"></div>
<div style="left:501px;top:294px;width:120px;height:3px;background:linear-gradient(90deg,#4757fb 0.42%,#376ff9 5.39%,#2685f5 10.36%,#1798f2 15.33%,#09abee 20.30%,#04b9ea 25.27%,#11c6e6 30.24%,#27dade 35.21%,#3eebd5 40.18%,#55f6ca 45.15%,#6cfdbf 50.12%,#8bfeae 55.10%,#a9f79c 60.07%,#c5e88a 65.04%,#e1d277 70.01%,#fbb965 74.98%,#ff9b52 79.95%,#ff7e41 84.92%,#ff5e30 89.89%,#ff3c1e 94.86%,#ff180c 99.83%)"></div>
<div style="left:501px;top:297px;width:120px;height:3px;background:linear-gradient(90deg,#4e4dfc 0.42%,#3b68f9 5.39%,#2981f6 10.36%,#1a96f3 15.33%,#0aa8ef 20.30%,#02b7eb 25.27%,#0fc4e7 30.24%,#26d9df 35.21%,#3dead5 40.18%,#54f6cb 45.15%,#6bfdbf 50.12%,#8afeaf 55.10%,#a8f79c 60.07%,#c4e88a 65.04%,#e0d377 70.01%,#faba65 74.98%,#ff9c53 79.95%,#ff7e41 84.92%,#ff5e30 89.89%,#ff3c1e 94.86%,#ff180c 99.83%)"></div>
<div style="left:501px;top:300px;width:120px;height:3px;background:linear-gradient(90deg,#5641fd 0.42%,#4160fa 5.39%,#2c7ef7 10.36%,#1c93f3 15.33%,#0ca7ef 20.30%,#01b5eb 25.27%,#0ec3e7 30.24%,#25d8df 35.21%,#3ce9d6 40.18%,#53f6cb 45.15%,#6bfdbf 50.12%,#8afeaf 55.10%,#a8f79c 60.07%,#c4e88a 65.04%,#e0d377 70.01%,#faba65 74.98%,#ff9c53 79.95%,#ff7e41 84.92%,#ff5e30 89.89%,#ff3c1e 94.86%,#ff180c 99.83%)"></div>
<div style="left:501px;top:303px;width:120px;height:3px;background:linear-gradient(90deg,#5e34fe 0.42%,#4658fb 5.39%,#2f7af7 10.36%,#1e90f4 15.33%,#0da5ef 20.30%,#00b4ec 25.27%,#0cc2e8 30.24%,#23d7e0 35.21%,#3ae8d6 40.18%,#53f5cb 45.15%,#6bfdbf 50.12%,#8afeaf 55.10%,#a8f79c 60.07%,#c4e88a 65.04%,#e0d377 70.01%,#faba65 74.98%,#ff9c53 79.95%,#ff7e41 84.92%,#ff5e30 89.89%,#ff3c1e 94.86%,#ff180c 99.83%)"></div>
<div style="left:501px;top:306px;width:120px;height:3px;background:linear-gradient(90deg,#6627fe 0.42%,#4c50fc 5.39%,#3176f8 10.36%,#208ef4 15.33%,#0ea4f0 20.30%,#02b2ec 25.27%,#0bc0e8 30.24%,#22d6e0 35.21%,#39e7d7 40.18%,#52f5cc 45.15%,#6bfdbf 50.12%,#8afeaf 55.10%,#a8f79c 60.07%,#c4e88a 65.04%,#e0d377 70.01%,#faba65 74.98%,#ff9c53 79.95%,#ff7e41 84.92%,#ff5e30 89.89%,#ff3c1e 94.86%,#ff180c 99.83%)"></div>
<div style="left:501px;top:309px;width:120px;height:1px;background:linear-gradient(90deg,#6b20fe 0.42%,#4f4bfc 5.39%,#3374f8 10.36%,#218cf4 15.33%,#0fa3f0 20.30%,#03b1ec 25.27%,#0abfe8 30.24%,#21d5e0 35.21%,#38e7d7 40.18%,#52f5cc 45.15%,#6bfdbf 50.12%,#8afeaf 55.10%,#a8f79c 60.07%,#c4e88a 65.04%,#e0d377 70.01%,#faba65 74.98%,#ff9c53 79.95%,#ff7e41 84.92%,#ff5e30 89.89%,#ff3c1e 94.86%,#ff180c 99.83%)"></div>
<div style="left:623.55px;top:198.00px;width:5.90px;height:111.25px;background:linear-gradient(180deg,#ff0000 0%,#ff2814 5%,#ff4f28 10%,#ff743c 15%,#ff964f 20%,#ffb462 25%,#e5ce74 30%,#cce385 35%,#b2f396 40%,#99fca6 45%,#80ffb4 50%,#66fcc2 55%,#4df3ce 60%,#33e3d9 65%,#1acee3 70%,#00b4ec 75%,#1a96f3 80%,#3374f8 85%,#4d4ffc 90%,#6628fe 95%,#8000ff 100%)"></div>
<div style="left:42px;top:376px;width:120px;height:3px;background:linear-gradient(90deg,#ff0201 0.38%,#ff0201 5.35%,#ff0201 10.32%,#ff0201 15.29%,#ff0201 20.26%,#ff0201 25.23%,#ff0201 30.20%,#ff0201 35.17%,#ff0201 40.14%,#ff0201 45.11%,#ff0201 50.08%,#ff0201 55.05%,#ff0201 60.03%,#ff0201 65.00%,#ff0201 69.97%,#ff0201 74.94%,#ff0201 79.91%,#ff0201 84.88%,#ff0201 89.85%,#ff0201 94.82%,#ff0201 99.79%)"></div>
<div style="left:42px;top:379px;width:120px;height:3px;background:linear-gradient(90deg,#ff0503 0.38%,#ff0503 5.35%,#ff0503 10.32%,#ff0503 15.29%,#ff0503 20.26%,#ff0503 25.23%,#ff0503 30.20%,#ff0503 35.17%,#ff0503 40.14%,#ff0503 45.11%,#ff0503 50.08%,#ff0503 55.05%,#ff0503 60.03%,#ff0503 65.00%,#ff0503 69.97%,#ff0503 74.94%,#ff0503 79.91%,#ff0503 84.88%,#ff0503 89.85%,#ff0503 94.82%,#ff0503 99.79%)"></div>
<div style="left:42px;top:382px;width:120px;height:3px;background:linear-gradient(90deg,#ff0b05 0.38%,#ff0b05 5.35%,#ff0b05 10.32%,#ff0b05 15.29%,#ff0b05 20.26%,#ff0b05 25.23%,#ff0b05 30.20%,#ff0b05 35.17%,#ff0b05 40.14%,#ff0b05 45.11%,#ff0b05 50.08%,#ff0b05 55.05%,#ff0b05 60.03%,#ff0b05 65.00%,#ff0b05 69.97%,#ff0b05 74.94%,#ff0b05 79.91%,#ff0b05 84.88%,#ff0b05 89.85%,#ff0b05 94.82%,#ff0b05 99.79%)"></div>
<div style="left:42px;top:385px;width:120px;height:3px;background:linear-gradient(90deg,#ff1b0d 0.38%,#ff1b0d 5.35%,#ff1b0d 10.32%,#ff1b0d 15.29%,#ff1b0d 20.26%,#ff1b0d 25.23%,#ff1b0d 30.20%,#ff1b0d 35.17%,#ff1b0d 40.14%,#ff1b0d 45.11%,#ff1b0d 50.08%,#ff1b0d 55.05%,#ff1b0d 60.03%,#ff1b0d 65.00%,#ff1b0d 69.97%,#ff1b0d 74.94%,#ff1b0d 79.91%,#ff1b0d 84.88%,#ff1b0d 89.85%,#ff1b0d 94.82%,#ff1b0d 99.79%)"></div>
<div style="left:42px;top:388px;width:120px;height:3px;background:linear-gradient(90deg,#ff361b 0.38%,#ff361b 5.35%,#ff361b 10.32%,#ff361b 15.29%,#ff361b 20.26%,#ff361b 25.23%,#ff361b 30.20%,#ff361b 35.17%,#ff361b 40.14%,#ff361b 45.11%,#ff361b 50.08%,#ff361b 55.05%,#ff361b 60.03%,#ff361b 65.00%,#ff361b 69.97%,#ff361b 74.94%,#ff361b 79.91%,#ff361b 84.88%,#ff361b 89.85%,#ff361b 94.82%,#ff361b 99.79%)"></div>
<div style="left:42px;top:391px;width:120px;height:3px;background:linear-gradient(90deg,#ff582d 0.38%,#ff582d 5.35%,#ff582d 10.32%,#ff582d 15.29%,#ff582d 20.26%,#ff582d 25.23%,#ff582d 30.20%,#ff582d 35.17%,#ff582d 40.14%,#ff582d 45.11%,#ff582d 50.08%,#ff582d 55.05%,#ff582d 60.03%,#ff582d 65.00%,#ff582d 69.97%,#ff582d 74.94%,#ff582d 79.91%,#ff582d 84.88%,#ff582d 89.85%,#ff582d 94.82%,#ff582d 99.79%)"></div>
<div style="left:42px;top:394px;width:120px;height:3px;background:linear-gradient(90deg,#ff7c40 0.38%,#ff7c40 5.35%,#ff7c40 10.32%,#ff7c40 15.29%,#ff7c40 20.26%,#ff7c40 25.23%,#ff7c40 30.20%,#ff7c40 35.17%,#ff7c40 40.14%,#ff7c40 45.11%,#ff7c40 50.08%,#ff7c40 55.05%,#ff7c40 60.03%,#ff7c40 65.00%,#ff7c40 69.97%,#ff7c40 74.94%,#ff7c40 79.91%,#ff7c40 84.88%,#ff7c40 89.85%,#ff7c40 94.82%,#ff7c40 99.79%)"></div>
<div style="left:42px;top:397px;width:120px;height:3px;background:linear-gradient(90deg,#ffab5c 0.38%,#ffab5c 5.35%,#ffab5c 10.32%,#ffab5c 15.29%,#ffab5c 20.26%,#ffab5c 25.23%,#ffab5c 30.20%,#ffab5c 35.17%,#ffab5c 40.14%,#ffab5c 45.11%,#ffab5c 50.08%,#ffab5c 55.05%,#ffab5c 60.03%,#ffab5c 65.00%,#ffab5c 69.97%,#ffab5c 74.94%,#ffab5c 79.91%,#ffab5c 84.88%,#ffac5c 89.85%,#ffac5c 94.82%,#ffac5c 99.79%)"></div>
<div style="left:42px;top:400px;width:120px;height:3px;background:linear-gradient(90deg,#dcd77a 0.38%,#dcd77a 5.35%,#dcd77a 10.32%,#dcd77a 15.29%,#dcd77a 20.26%,#dcd77a 25.23%,#dcd77a 30.20%,#dcd77a 35.17%,#dcd77a 40.14%,#dcd77a 45.11%,#dcd77a 50.08%,#dcd77a 55.05%,#dcd77a 60.03%,#dcd77a 65.00%,#dcd77a 69.97%,#dcd77a 74.94%,#dcd77a 79.91%,#d8da7d 84.88%,#d4de80 89.85%,#d2df82 94.82%,#cfe183 99.79%)"></div>
<div style="left:42px;top:403px;width:120px;height:3px;background:linear-gradient(90deg,#abf69b 0.38%,#abf69b 5.35%,#abf69b 10.32%,#abf69b 15.29%,#abf69b 20.26%,#abf69b 25.23%,#abf69b 30.20%,#abf69b 35.17%,#abf69b 40.14%,#abf69b 45.11%,#abf69b 50.08%,#abf69b 55.05%,#abf69b 60.03%,#abf69b 65.00%,#abf69b 69.97%,#abf69b 74.94%,#abf69b 79.91%,#aaf69b 84.88%,#a9f79c 89.85%,#aaf69b 94.82%,#aaf69b 99.79%)"></div>
<div style="left:42px;top:406px;width:120px;height:3px;background:linear-gradient(90deg,#7cffb6 0.38%,#7cffb6 5.35%,#7cffb6 10.32%,#7cffb6 15.29%,#7cffb6 20.26%,#7cffb6 25.23%,#7cffb6 30.20%,#7cffb6 35.17%,#7cffb6 40.14%,#7cffb6 45.11%,#7cffb6 50.08%,#7cffb6 55.05%,#7cffb6 60.03%,#7cffb6 65.00%,#7cffb6 69.97%,#7dffb6 74.94%,#7effb5 79.91%,#82ffb3 84.88%,#85ffb1 89.85%,#89ffaf 94.82%,#8dfead 99.79%)"></div>
<div style="left:42px;top:409px;width:120px;height:3px;background:linear-gradient(90deg,#50f4cd 0.38%,#50f4cd 5.35%,#50f4cd 10.32%,#50f4cd 15.29%,#50f4cd 20.26%,#50f4cd 25.23%,#50f4cd 30.20%,#50f4cd 35.17%,#50f4cd 40.14%,#50f4cd 45.11%,#50f4cd 50.08%,#50f4cd 55.05%,#50f4cd 60.03%,#50f4cc 65.00%,#51f5cc 69.97%,#55f6cb 74.94%,#58f7c9 79.91%,#5df9c6 84.88%,#62fbc4 89.85%,#68fcc1 94.82%,#6efdbe 99.79%)"></div>
<div style="left:42px;top:412px;width:120px;height:3px;background:linear-gradient(90deg,#20d4e1 0.38%,#20d4e1 5.35%,#20d4e1 10.32%,#20d4e1 15.29%,#20d4e1 20.26%,#20d4e1 25.23%,#20d4e1 30.20%,#20d4e1 35.17%,#20d4e1 40.14%,#20d4e1 45.11%,#20d4e1 50.08%,#20d4e1 55.05%,#20d4e1 60.03%,#23d7e0 65.00%,#25d9df 69.97%,#2adcdd 74.94%,#2fe0db 79.91%,#34e4d9 84.88%,#3ae8d7 89.85%,#42edd3 94.82%,#49f1d0 99.79%)"></div>
<div style="left:42px;top:415px;width:120px;height:3px;background:linear-gradient(90deg,#03b1ec 0.38%,#03b1ec 5.35%,#03b1ec 10.32%,#03b1ec 15.29%,#02b2ec 20.26%,#02b2ec 25.23%,#02b2ec 30.20%,#02b2ec 35.17%,#02b2ec 40.14%,#02b2ec 45.11%,#02b2ec 50.08%,#02b2ec 55.05%,#02b2ec 60.03%,#01b5eb 65.00%,#03b8eb 69.97%,#06baea 74.94%,#08bde9 79.91%,#0fc5e7 84.88%,#17cce4 89.85%,#1ed3e1 94.82%,#26d9df 99.79%)"></div>
<div style="left:42px;top:418px;width:120px;height:3px;background:linear-gradient(90deg,#1a96f3 0.38%,#1a96f3 5.35%,#1a96f3 10.32%,#1897f2 15.29%,#1799f2 20.26%,#169bf2 25.23%,#149cf1 30.20%,#149cf1 35.17%,#149cf1 40.14%,#149cf1 45.11%,#149cf1 50.08%,#139ef1 55.05%,#129ff1 60.03%,#11a1f0 65.00%,#0fa3f0 69.97%,#0da6ef 74.94%,#0aa9ef 79.91%,#05afed 84.88%,#00b4ec 89.85%,#08bde9 94.82%,#0fc4e7 99.79%)"></div>
<div style="left:42px;top:421px;width:120px;height:3px;background:linear-gradient(90deg,#2d7cf7 0.38%,#2b7ef6 5.35%,#2981f6 10.32%,#2784f6 15.29%,#2587f5 20.26%,#228af5 25.23%,#208df4 30.20%,#1f8ef4 35.17%,#1e90f4 40.14%,#1d91f3 45.11%,#1c92f3 50.08%,#1a95f3 55.05%,#1898f2 60.03%,#169bf2 65.00%,#139ef1 69.97%,#11a1f0 74.94%,#0ea4f0 79.91%,#09aaee 84.88%,#04b0ed 89.85%,#04b8ea 94.82%,#0bc0e8 99.79%)"></div>
<div style="left:42px;top:424px;width:120px;height:3px;background:linear-gradient(90deg,#4160fa 0.38%,#3e65fa 5.35%,#3a69f9 10.32%,#376ef9 15.29%,#3473f8 20.26%,#3177f8 25.23%,#2d7cf7 30.20%,#2b7ef7 35.17%,#2981f6 40.14%,#2884f6 45.11%,#2686f5 50.08%,#228af5 55.05%,#1f8ff4 60.03%,#1d92f3 65.00%,#1a95f3 69.97%,#169af2 74.94%,#129ff1 79.91%,#0ca7ef 84.88%,#05afed 89.85%,#02b6eb 94.82%,#09bee9 99.79%)"></div>
<div style="left:42px;top:427px;width:120px;height:3px;background:linear-gradient(90deg,#5147fc 0.38%,#4d4efc 5.35%,#4954fb 10.32%,#455afb 15.29%,#4160fa 20.26%,#3d66fa 25.23%,#396bf9 30.20%,#366ff9 35.17%,#3373f8 40.14%,#3077f7 45.11%,#2d7bf7 50.08%,#2a81f6 55.05%,#2686f5 60.03%,#238af5 65.00%,#208ef4 69.97%,#1b94f3 74.94%,#169bf2 79.91%,#0ea4f0 84.88%,#06aeed 89.85%,#01b6eb 94.82%,#08bde9 99.79%)"></div>
<div style="left:42px;top:430px;width:120px;height:3px;background:linear-gradient(90deg,#5d35fe 0.38%,#583dfd 5.35%,#5344fd 10.32%,#4e4cfc 15.29%,#4954fb 20.26%,#4559fb 25.23%,#425ffa 30.20%,#3e64fa 35.17%,#3a6af9 40.14%,#366ff9 45.11%,#3374f8 50.08%,#2f7af7 55.05%,#2b7ff6 60.03%,#2784f6 65.00%,#2389f5 69.97%,#1e90f4 74.94%,#1996f2 79.91%,#10a1f0 84.88%,#08acee 89.85%,#01b6eb 94.82%,#0abfe8 99.79%)"></div>
<div style="left:42px;top:433px;width:120px;height:3px;background:linear-gradient(90deg,#612ffe 0.38%,#5c38fd 5.35%,#5640fd 10.32%,#5148fc 15.29%,#4b51fc 20.26%,#4757fb 25.23%,#435dfb 30.20%,#3f63fa 35.17%,#3b68f9 40.14%,#376ef9 45.11%,#3374f8 50.08%,#2f79f7 55.05%,#2b7ff6 60.03%,#2784f6 65.00%,#2489f5 69.97%,#1f8ff4 74.94%,#1996f3 79.91%,#10a1f0 84.88%,#07acee 89.85%,#02b7eb 94.82%,#0bc1e8 99.79%)"></div>
<div style="left:42px;top:436px;width:120px;height:3px;background:linear-gradient(90deg,#642bfe 0.38%,#5f33fe 5.35%,#593cfd 10.32%,#5345fd 15.29%,#4d4ffc 20.26%,#4855fb 25.23%,#445cfb 30.20%,#3f62fa 35.17%,#3b68f9 40.14%,#376ef9 45.11%,#3374f8 50.08%,#2f7af7 55.05%,#2b7ff6 60.03%,#2784f6 65.00%,#2489f5 69.97%,#1f8ff4 74.94%,#1996f3 79.91%,#10a1f0 84.88%,#07acee 89.85%,#03b8eb 94.82%,#0dc2e8 99.79%)"></div>
<div style="left:42px;top:439px;width:120px;height:3px;background:linear-gradient(90deg,#6726fe 0.38%,#612ffe 5.35%,#5b39fd 10.32%,#5543fd 15.29%,#4e4dfc 20.26%,#4954fb 25.23%,#445bfb 30.20%,#4061fa 35.17%,#3c67f9 40.14%,#376ef9 45.11%,#3374f8 50.08%,#2f7af7 55.05%,#2a80f6 60.03%,#2784f6 65.00%,#2489f5 69.97%,#1f8ff4 74.94%,#1996f3 79.91%,#10a2f0 84.88%,#07adee 89.85%,#04b8ea 94.82%,#0ec3e7 99.79%)"></div>
<div style="left:42px;top:442px;width:120px;height:3px;background:linear-gradient(90deg,#6a21fe 0.38%,#642bfe 5.35%,#5e35fe 10.32%,#5640fd 15.29%,#4f4bfc 20.26%,#4a52fc 25.23%,#455afb 30.20%,#4060fa 35.17%,#3c67fa 40.14%,#376df9 45.11%,#3374f8 50.08%,#2f7af7 55.05%,#2a80f6 60.03%,#2784f6 65.00%,#2489f5 69.97%,#1f8ff4 74.94%,#1996f3 79.91%,#10a2f0 84.88%,#06aded 89.85%,#05b9ea 94.82%,#10c5e7 99.79%)"></div>
<div style="left:42px;top:445px;width:120px;height:3px;background:linear-gradient(90deg,#6e1cff 0.38%,#6727fe 5.35%,#6031fe 10.32%,#583dfd 15.29%,#5148fc 20.26%,#4b51fc 25.23%,#4659fb 30.20%,#4160fa 35.17%,#3c67fa 40.14%,#386df9 45.11%,#3374f8 50.08%,#2e7af7 55.05%,#2a81f6 60.03%,#2785f6 65.00%,#2489f5 69.97%,#1f8ff4 74.94%,#1996f3 79.91%,#10a2f0 84.88%,#06aeed 89.85%,#06baea 94.82%,#11c6e6 99.79%)"></div>
<div style="left:42px;top:448px;width:120px;height:3px;background:linear-gradient(90deg,#7117ff 0.38%,#6a22fe 5.35%,#622dfe 10.32%,#5a3afd 15.29%,#5246fd 20.26%,#4c4ffc 25.23%,#4658fb 30.20%,#425ffa 35.17%,#3d66fa 40.14%,#386df9 45.11%,#3374f8 50.08%,#2e7af7 55.05%,#2981f6 60.03%,#2785f5 65.00%,#2489f5 69.97%,#1f8ff4 74.94%,#1996f3 79.91%,#10a2f0 84.88%,#06aeed 89.85%,#06bbea 94.82%,#12c7e6 99.79%)"></div>
<div style="left:42px;top:451px;width:120px;height:3px;background:linear-gradient(90deg,#7412ff 0.38%,#6c1eff 5.35%,#652afe 10.32%,#5c37fd 15.29%,#5344fd 20.26%,#4d4efc 25.23%,#4757fb 30.20%,#425efa 35.17%,#3d66fa 40.14%,#386df9 45.11%,#3374f8 50.08%,#2e7bf7 55.05%,#2982f6 60.03%,#2685f5 65.00%,#2489f5 69.97%,#1f8ff4 74.94%,#1996f3 79.91%,#0fa2f0 84.88%,#05aeed 89.85%,#07bce9 94.82%,#14c9e5 99.79%)"></div>
<div style="left:42px;top:454px;width:120px;height:3px;background:linear-gradient(90deg,#7510ff 0.38%,#6e1cff 5.35%,#6628fe 10.32%,#5d36fe 15.29%,#5443fd 20.26%,#4e4dfc 25.23%,#4756fb 30.20%,#425efa 35.17%,#3d65fa 40.14%,#386df9 45.11%,#3374f8 50.08%,#2e7bf7 55.05%,#2982f6 60.03%,#2685f5 65.00%,#2489f5 69.97%,#1f8ff4 74.94%,#1996f3 79.91%,#0fa3f0 84.88%,#05afed 89.85%,#08bde9 94.82%,#14c9e5 99.79%)"></div>
<div style="left:42px;top:457px;width:120px;height:3px;background:linear-gradient(90deg,#7510ff 0.38%,#6e1cff 5.35%,#6628fe 10.32%,#5d36fe 15.29%,#5443fd 20.26%,#4e4dfc 25.23%,#4756fb 30.20%,#425efa 35.17%,#3d65fa 40.14%,#386df9 45.11%,#3374f8 50.08%,#2e7bf7 55.05%,#2982f6 60.03%,#2685f5 65.00%,#2489f5 69.97%,#1f8ff4 74.94%,#1996f3 79.91%,#0fa3f0 84.88%,#05afed 89.85%,#08bde9 94.82%,#14c9e5 99.79%)"></div>
<div style="left:42px;top:460px;width:120px;height:3px;background:linear-gradient(90deg,#7510ff 0.38%,#6e1cff 5.35%,#6628fe 10.32%,#5d36fe 15.29%,#5443fd 20.26%,#4e4dfc 25.23%,#4756fb 30.20%,#425efa 35.17%,#3d65fa 40.14%,#386df9 45.11%,#3374f8 50.08%,#2e7bf7 55.05%,#2982f6 60.03%,#2685f5 65.00%,#2489f5 69.97%,#1f8ff4 74.94%,#1996f3 79.91%,#0fa3f0 84.88%,#05afed 89.85%,#08bde9 94.82%,#14c9e5 99.79%)"></div>
<div style="left:42px;top:463px;width:120px;height:3px;background:linear-gradient(90deg,#7510ff 0.38%,#6e1cff 5.35%,#6628fe 10.32%,#5d36fe 15.29%,#5443fd 20.26%,#4e4dfc 25.23%,#4756fb 30.20%,#425efa 35.17%,#3d65fa 40.14%,#386df9 45.11%,#3374f8 50.08%,#2e7bf7 55.05%,#2982f6 60.03%,#2685f5 65.00%,#2489f5 69.97%,#1f8ff4 74.94%,#1996f3 79.91%,#0fa3f0 84.88%,#05afed 89.85%,#08bde9 94.82%,#14c9e5 99.79%)"></div>
<div style="left:42px;top:466px;width:120px;height:3px;background:linear-gradient(90deg,#7510ff 0.38%,#6e1cff 5.35%,#6628fe 10.32%,#5d36fe 15.29%,#5443fd 20.26%,#4e4dfc 25.23%,#4756fb 30.20%,#425efa 35.17%,#3d65fa 40.14%,#386df9 45.11%,#3374f8 50.08%,#2e7bf7 55.05%,#2982f6 60.03%,#2685f5 65.00%,#2489f5 69.97%,#1f8ff4 74.94%,#1996f3 79.91%,#0fa3f0 84.88%,#05afed 89.85%,#08bde9 94.82%,#14c9e5 99.79%)"></div>
<div style="left:42px;top:469px;width:120px;height:3px;background:linear-gradient(90deg,#7510ff 0.38%,#6e1cff 5.35%,#6628fe 10.32%,#5d36fe 15.29%,#5443fd 20.26%,#4e4dfc 25.23%,#4756fb 30.20%,#425efa 35.17%,#3d65fa 40.14%,#386df9 45.11%,#3374f8 50.08%,#2e7bf7 55.05%,#2982f6 60.03%,#2685f5 65.00%,#2489f5 69.97%,#1f8ff4 74.94%,#1996f3 79.91%,#0fa3f0 84.88%,#05afed 89.85%,#08bde9 94.82%,#14c9e5 99.79%)"></div>
<div style="left:42px;top:472px;width:120px;height:3px;background:linear-gradient(90deg,#7510ff 0.38%,#6e1cff 5.35%,#6628fe 10.32%,#5d36fe 15.29%,#5443fd 20.26%,#4e4dfc 25.23%,#4756fb 30.20%,#425efa 35.17%,#3d65fa 40.14%,#386df9 45.11%,#3374f8 50.08%,#2e7bf7 55.05%,#2982f6 60.03%,#2685f5 65.00%,#2489f5 69.97%,#1f8ff4 74.94%,#1996f3 79.91%,#0fa3f0 84.88%,#05afed 89.85%,#08bde9 94.82%,#14c9e5 99.79%)"></div>
<div style="left:42px;top:475px;width:120px;height:3px;background:linear-gradient(90deg,#7510ff 0.38%,#6e1cff 5.35%,#6628fe 10.32%,#5d36fe 15.29%,#5443fd 20.26%,#4e4dfc 25.23%,#4756fb 30.20%,#425efa 35.17%,#3d65fa 40.14%,#386df9 45.11%,#3374f8 50.08%,#2e7bf7 55.05%,#2982f6 60.03%,#2685f5 65.00%,#2489f5 69.97%,#1f8ff4 74.94%,#1996f3 79.91%,#0fa3f0 84.88%,#05afed 89.85%,#08bde9 94.82%,#14c9e5 99.79%)"></div>
<div style="left:42px;top:478px;width:120px;height:3px;background:linear-gradient(90deg,#7510ff 0.38%,#6e1cff 5.35%,#6628fe 10.32%,#5d36fe 15.29%,#5443fd 20.26%,#4e4dfc 25.23%,#4756fb 30.20%,#425efa 35.17%,#3d65fa 40.14%,#386df9 45.11%,#3374f8 50.08%,#2e7bf7 55.05%,#2982f6 60.03%,#2685f5 65.00%,#2489f5 69.97%,#1f8ff4 74.94%,#1996f3 79.91%,#0fa3f0 84.88%,#05afed 89.85%,#08bde9 94.82%,#14c9e5 99.79%)"></div>
<div style="left:42px;top:481px;width:120px;height:3px;background:linear-gradient(90deg,#7510ff 0.38%,#6e1cff 5.35%,#6628fe 10.32%,#5d36fe 15.29%,#5443fd 20.26%,#4e4dfc 25.23%,#4756fb 30.20%,#425efa 35.17%,#3d65fa 40.14%,#386df9 45.11%,#3374f8 50.08%,#2e7bf7 55.05%,#2982f6 60.03%,#2685f5 65.00%,#2489f5 69.97%,#1f8ff4 74.94%,#1996f3 79.91%,#0fa3f0 84.88%,#05afed 89.85%,#08bde9 94.82%,#14c9e5 99.79%)"></div>
<div style="left:42px;top:484px;width:120px;height:3px;background:linear-gradient(90deg,#7510ff 0.38%,#6e1cff 5.35%,#6628fe 10.32%,#5d36fe 15.29%,#5443fd 20.26%,#4e4dfc 25.23%,#4756fb 30.20%,#425efa 35.17%,#3d65fa 40.14%,#386df9 45.11%,#3374f8 50.08%,#2e7bf7 55.05%,#2982f6 60.03%,#2685f5 65.00%,#2489f5 69.97%,#1f8ff4 74.94%,#1a96f3 79.91%,#0fa3f0 84.88%,#05afed 89.85%,#08bde9 94.82%,#14c9e5 99.79%)"></div>
<div style="left:42px;top:487px;width:120px;height:1px;background:linear-gradient(90deg,#7510ff 0.38%,#6e1cff 5.35%,#6628fe 10.32%,#5d36fe 15.29%,#5443fd 20.26%,#4e4dfc 25.23%,#4756fb 30.20%,#425efa 35.17%,#3d65fa 40.14%,#386df9 45.11%,#3374f8 50.08%,#2e7bf7 55.05%,#2982f6 60.03%,#2685f5 65.00%,#2489f5 69.97%,#1f8ff4 74.94%,#1996f3 79.91%,#0fa3f0 84.88%,#05afed 89.85%,#08bde9 94.82%,#14c9e5 99.79%)"></div>
<div style="left:164.50px;top:376.10px;width:5.90px;height:111.25px;background:linear-gradient(180deg,#ff0000 0%,#ff2814 5%,#ff4f28 10%,#ff743c 15%,#ff964f 20%,#ffb462 25%,#e5ce74 30%,#cce385 35%,#b2f396 40%,#99fca6 45%,#80ffb4 50%,#66fcc2 55%,#4df3ce 60%,#33e3d9 65%,#1acee3 70%,#00b4ec 75%,#1a96f3 80%,#3374f8 85%,#4d4ffc 90%,#6628fe 95%,#8000ff 100%)"></div>
<div style="left:272px;top:376px;width:120px;height:3px;background:linear-gradient(90deg,#ff0201 0.29%,#ff0201 5.26%,#ff0201 10.23%,#ff0201 15.20%,#ff0201 20.18%,#ff0201 25.15%,#ff0201 30.12%,#ff0201 35.09%,#ff0201 40.06%,#ff0201 45.03%,#ff0201 50.00%,#ff0201 54.97%,#ff0201 59.94%,#ff0201 64.91%,#ff0201 69.88%,#ff0201 74.85%,#ff0201 79.83%,#ff0201 84.80%,#ff0201 89.77%,#ff0201 94.74%,#ff0201 99.71%)"></div>
<div style="left:272px;top:379px;width:120px;height:3px;background:linear-gradient(90deg,#ff0503 0.29%,#ff0503 5.26%,#ff0503 10.23%,#ff0503 15.20%,#ff0503 20.18%,#ff0503 25.15%,#ff0503 30.12%,#ff0503 35.09%,#ff0503 40.06%,#ff0503 45.03%,#ff0503 50.00%,#ff0503 54.97%,#ff0503 59.94%,#ff0503 64.91%,#ff0503 69.88%,#ff0503 74.85%,#ff0503 79.83%,#ff0503 84.80%,#ff0503 89.77%,#ff0503 94.74%,#ff0503 99.71%)"></div>
<div style="left:272px;top:382px;width:120px;height:3px;background:linear-gradient(90deg,#ff0b05 0.29%,#ff0b05 5.26%,#ff0b05 10.23%,#ff0b05 15.20%,#ff0b05 20.18%,#ff0b05 25.15%,#ff0b05 30.12%,#ff0b05 35.09%,#ff0b05 40.06%,#ff0b05 45.03%,#ff0b05 50.00%,#ff0b05 54.97%,#ff0b05 59.94%,#ff0b05 64.91%,#ff0b05 69.88%,#ff0b05 74.85%,#ff0b05 79.83%,#ff0b05 84.80%,#ff0b05 89.77%,#ff0b05 94.74%,#ff0b05 99.71%)"></div>
<div style="left:272px;top:385px;width:120px;height:3px;background:linear-gradient(90deg,#ff1b0d 0.29%,#ff1b0d 5.26%,#ff1b0d 10.23%,#ff1b0d 15.20%,#ff1b0d 20.18%,#ff1b0d 25.15%,#ff1b0d 30.12%,#ff1b0d 35.09%,#ff1b0d 40.06%,#ff1b0d 45.03%,#ff1b0d 50.00%,#ff1b0d 54.97%,#ff1b0d 59.94%,#ff1b0d 64.91%,#ff1b0d 69.88%,#ff1b0d 74.85%,#ff1b0d 79.83%,#ff1b0d 84.80%,#ff1b0d 89.77%,#ff1b0d 94.74%,#ff1b0d 99.71%)"></div>
<div style="left:272px;top:388px;width:120px;height:3px;background:linear-gradient(90deg,#ff361b 0.29%,#ff361b 5.26%,#ff361b 10.23%,#ff361b 15.20%,#ff361b 20.18%,#ff361b 25.15%,#ff361b 30.12%,#ff361b 35.09%,#ff361b 40.06%,#ff361b 45.03%,#ff361b 50.00%,#ff361b 54.97%,#ff361b 59.94%,#ff361b 64.91%,#ff361b 69.88%,#ff361b 74.85%,#ff361b 79.83%,#ff361b 84.80%,#ff361b 89.77%,#ff361b 94.74%,#ff361b 99.71%)"></div>
<div style="left:272px;top:391px;width:120px;height:3px;background:linear-gradient(90deg,#ff582d 0.29%,#ff582d 5.26%,#ff582d 10.23%,#ff582d 15.20%,#ff582d 20.18%,#ff582d 25.15%,#ff582d 30.12%,#ff582d 35.09%,#ff582d 40.06%,#ff582d 45.03%,#ff582d 50.00%,#ff582d 54.97%,#ff582d 59.94%,#ff582d 64.91%,#ff582d 69.88%,#ff582d 74.85%,#ff582d 79.83%,#ff582d 84.80%,#ff582d 89.77%,#ff582d 94.74%,#ff582d 99.71%)"></div>
<div style="left:272px;top:394px;width:120px;height:3px;background:linear-gradient(90deg,#ff7c40 0.29%,#ff7c40 5.26%,#ff7c40 10.23%,#ff7c40 15.20%,#ff7c40 20.18%,#ff7c40 25.15%,#ff7c40 30.12%,#ff7c40 35.09%,#ff7c40 40.06%,#ff7c40 45.03%,#ff7c40 50.00%,#ff7c40 54.97%,#ff7c40 59.94%,#ff7c40 64.91%,#ff7c40 69.88%,#ff7c40 74.85%,#ff7c40 79.83%,#ff7c40 84.80%,#ff7c40 89.77%,#ff7c40 94.74%,#ff7c40 99.71%)"></div>
<div style="left:272px;top:397px;width:120px;height:3px;background:linear-gradient(90deg,#ffab5c 0.29%,#ffab5c 5.26%,#ffab5c 10.23%,#ffab5c 15.20%,#ffab5c 20.18%,#ffab5c 25.15%,#ffab5c 30.12%,#ffab5c 35.09%,#ffab5c 40.06%,#ffab5c 45.03%,#ffab5c 50.00%,#ffab5c 54.97%,#ffab5c 59.94%,#ffab5c 64.91%,#ffab5c 69.88%,#ffab5c 74.85%,#ffab5c 79.83%,#ffab5c 84.80%,#ffab5c 89.77%,#ffab5c 94.74%,#ffab5c 99.71%)"></div>
<div style="left:272px;top:400px;width:120px;height:3px;background:linear-gradient(90deg,#dcd77a 0.29%,#dcd77a 5.26%,#dcd77a 10.23%,#dcd77a 15.20%,#dcd77a 20.18%,#dcd77a 25.15%,#dcd77a 30.12%,#dcd77a 35.09%,#dcd77a 40.06%,#dcd77a 45.03%,#dcd77a 50.00%,#dcd77a 54.97%,#dcd77a 59.94%,#dcd77a 64.91%,#dcd77a 69.88%,#dcd77a 74.85%,#dcd77a 79.83%,#dcd77a 84.80%,#dcd77a 89.77%,#dcd77a 94.74%,#dcd77a 99.71%)"></div>
<div style="left:272px;top:403px;width:120px;height:3px;background:linear-gradient(90deg,#abf69b 0.29%,#abf69b 5.26%,#abf69b 10.23%,#abf69b 15.20%,#abf69b 20.18%,#abf69b 25.15%,#abf69b 30.12%,#abf69b 35.09%,#abf69b 40.06%,#abf69b 45.03%,#abf69b 50.00%,#abf69b 54.97%,#abf69b 59.94%,#abf69b 64.91%,#abf69b 69.88%,#abf69b 74.85%,#abf69b 79.83%,#abf69b 84.80%,#abf69b 89.77%,#abf69b 94.74%,#abf69b 99.71%)"></div>
<div style="left:272px;top:406px;width:120px;height:3px;background:linear-gradient(90deg,#7cffb6 0.29%,#7cffb6 5.26%,#7cffb6 10.23%,#7cffb6 15.20%,#7cffb6 20.18%,#7cffb6 25.15%,#7cffb6 30.12%,#7cffb6 35.09%,#7cffb6 40.06%,#7cffb6 45.03%,#7cffb6 50.00%,#7cffb6 54.97%,#7cffb6 59.94%,#7cffb6 64.91%,#7cffb6 69.88%,#7cffb6 74.85%,#7cffb6 79.83%,#7cffb6 84.80%,#7cffb6 89.77%,#7cffb6 94.74%,#7cffb6 99.71%)"></div>
<div style="left:272px;top:409px;width:120px;height:3px;background:linear-gradient(90deg,#50f4cd 0.29%,#50f4cd 5.26%,#50f4cd 10.23%,#50f4cd 15.20%,#50f4cd 20.18%,#50f4cd 25.15%,#50f4cd 30.12%,#50f4cd 35.09%,#50f4cd 40.06%,#50f4cd 45.03%,#50f4cd 50.00%,#50f4cd 54.97%,#50f4cd 59.94%,#50f4cd 64.91%,#50f4cd 69.88%,#50f4cd 74.85%,#50f4cd 79.83%,#50f4cd 84.80%,#50f4cd 89.77%,#50f4cd 94.74%,#50f4cd 99.71%)"></div>
<div style="left:272px;top:412px;width:120px;height:3px;background:linear-gradient(90deg,#20d4e1 0.29%,#20d4e1 5.26%,#20d4e1 10.23%,#20d4e1 15.20%,#20d4e1 20.18%,#20d4e1 25.15%,#20d4e1 30.12%,#20d4e1 35.09%,#20d4e1 40.06%,#20d4e1 45.03%,#20d4e1 50.00%,#20d4e1 54.97%,#20d4e1 59.94%,#20d4e1 64.91%,#20d4e1 69.88%,#20d4e1 74.85%,#20d4e1 79.83%,#20d4e1 84.80%,#20d4e1 89.77%,#20d4e1 94.74%,#20d4e1 99.71%)"></div>
<div style="left:272px;top:415px;width:120px;height:3px;background:linear-gradient(90deg,#02b2ec 0.29%,#02b2ec 5.26%,#02b2ec 10.23%,#02b2ec 15.20%,#02b2ec 20.18%,#02b2ec 25.15%,#02b2ec 30.12%,#02b2ec 35.09%,#02b2ec 40.06%,#02b2ec 45.03%,#02b2ec 50.00%,#02b2ec 54.97%,#02b2ec 59.94%,#02b2ec 64.91%,#02b2ec 69.88%,#02b2ec 74.85%,#02b2ec 79.83%,#03b1ec 84.80%,#03b1ec 89.77%,#03b1ec 94.74%,#03b1ed 99.71%)"></div>
<div style="left:272px;top:418px;width:120px;height:3px;background:linear-gradient(90deg,#149cf1 0.29%,#149cf1 5.26%,#149cf1 10.23%,#149cf1 15.20%,#149cf1 20.18%,#149cf1 25.15%,#149cf1 30.12%,#149cf1 35.09%,#149cf1 40.06%,#149cf1 45.03%,#149cf1 50.00%,#149cf1 54.97%,#149cf1 59.94%,#149cf1 64.91%,#149cf1 69.88%,#169bf2 74.85%,#1799f2 79.83%,#1897f2 84.80%,#1a96f3 89.77%,#1c93f3 94.74%,#1f8ff4 99.71%)"></div>
<div style="left:272px;top:421px;width:120px;height:3px;background:linear-gradient(90deg,#1c92f3 0.29%,#1c92f3 5.26%,#1c92f3 10.23%,#1d91f3 15.20%,#1e90f4 20.18%,#1f8ef4 25.15%,#208df4 30.12%,#218cf4 35.09%,#228bf5 40.06%,#2389f5 45.03%,#2488f5 50.00%,#2587f5 54.97%,#2685f5 59.94%,#2784f6 64.91%,#2883f6 69.88%,#2981f6 74.85%,#2b7ff6 79.83%,#2c7ef7 84.80%,#2d7cf7 89.77%,#2e7bf7 94.74%,#2e7af7 99.71%)"></div>
<div style="left:272px;top:424px;width:120px;height:3px;background:linear-gradient(90deg,#218cf4 0.29%,#228bf5 5.26%,#238af5 10.23%,#2488f5 15.20%,#2586f5 20.18%,#2785f5 25.15%,#2883f6 30.12%,#2981f6 35.09%,#2a80f6 40.06%,#2c7df7 45.03%,#2e7af7 50.00%,#3078f7 54.97%,#3275f8 59.94%,#3472f8 64.91%,#366ff9 69.88%,#386cf9 74.85%,#3a6af9 79.83%,#3c67fa 84.80%,#3e64fa 89.77%,#3f62fa 94.74%,#4160fa 99.71%)"></div>
<div style="left:272px;top:427px;width:120px;height:3px;background:linear-gradient(90deg,#2488f5 0.29%,#2686f5 5.26%,#2784f6 10.23%,#2982f6 15.20%,#2a80f6 20.18%,#2c7ef7 25.15%,#2d7bf7 30.12%,#2f79f7 35.09%,#3177f8 40.06%,#3373f8 45.03%,#3670f8 50.00%,#396cf9 54.97%,#3c68f9 59.94%,#3f63fa 64.91%,#415ffa 69.88%,#445bfb 74.85%,#4757fb 79.83%,#4a52fc 84.80%,#4e4dfc 89.77%,#5149fc 94.74%,#5444fd 99.71%)"></div>
<div style="left:272px;top:430px;width:120px;height:3px;background:linear-gradient(90deg,#2685f5 0.29%,#2784f6 5.26%,#2982f6 10.23%,#2b7ff6 15.20%,#2e7bf7 20.18%,#3078f7 25.15%,#3374f8 30.12%,#3571f8 35.09%,#386df9 40.06%,#3a6af9 45.03%,#3d66fa 50.00%,#4061fa 54.97%,#445bfb 59.94%,#4856fb 64.91%,#4c50fc 69.88%,#4f4afc 74.85%,#5345fd 79.83%,#583dfd 84.80%,#5d35fe 89.77%,#6130fe 94.74%,#652afe 99.71%)"></div>
<div style="left:272px;top:433px;width:120px;height:3px;background:linear-gradient(90deg,#2587f5 0.29%,#2784f6 5.26%,#2982f6 10.23%,#2c7ef7 15.20%,#2f7af7 20.18%,#3176f8 25.15%,#3473f8 30.12%,#376ff9 35.09%,#396bf9 40.06%,#3c67fa 45.03%,#3f63fa 50.00%,#435dfb 54.97%,#4757fb 59.94%,#4b52fc 64.91%,#4e4cfc 69.88%,#5346fd 74.85%,#573ffd 79.83%,#5c38fd 84.80%,#6130fe 89.77%,#652afe 94.74%,#6824fe 99.71%)"></div>
<div style="left:272px;top:436px;width:120px;height:3px;background:linear-gradient(90deg,#2488f5 0.29%,#2785f5 5.26%,#2982f6 10.23%,#2c7df7 15.20%,#2f79f7 20.18%,#3275f8 25.15%,#3472f8 30.12%,#386df9 35.09%,#3b69f9 40.06%,#3e64fa 45.03%,#4160fa 50.00%,#455afb 54.97%,#4954fb 59.94%,#4d4ffc 64.91%,#5049fc 69.88%,#5542fd 74.85%,#593bfd 79.83%,#5f33fe 84.80%,#642cfe 89.77%,#6726fe 94.74%,#6b21fe 99.71%)"></div>
<div style="left:272px;top:439px;width:120px;height:3px;background:linear-gradient(90deg,#2389f5 0.29%,#2686f5 5.26%,#2982f6 10.23%,#2c7df7 15.20%,#3078f7 20.18%,#3275f8 25.15%,#3571f8 30.12%,#396cf9 35.09%,#3c67fa 40.06%,#4062fa 45.03%,#435dfb 50.00%,#4757fb 54.97%,#4b51fc 59.94%,#4f4bfc 64.91%,#5346fd 69.88%,#573efd 74.85%,#5c37fd 79.83%,#612ffe 84.80%,#6627fe 89.77%,#6a22fe 94.74%,#6d1dff 99.71%)"></div>
<div style="left:272px;top:442px;width:120px;height:3px;background:linear-gradient(90deg,#228bf5 0.29%,#2686f5 5.26%,#2982f6 10.23%,#2d7cf7 15.20%,#3177f8 20.18%,#3374f8 25.15%,#3670f8 30.12%,#3a6af9 35.09%,#3d65fa 40.06%,#415ffa 45.03%,#4559fb 50.00%,#4954fb 54.97%,#4d4efc 59.94%,#5148fc 64.91%,#5543fd 69.88%,#5a3bfd 74.85%,#5f33fe 79.83%,#642bfe 84.80%,#6923fe 89.77%,#6c1eff 94.74%,#6f19ff 99.71%)"></div>
<div style="left:272px;top:445px;width:120px;height:3px;background:linear-gradient(90deg,#218cf4 0.29%,#2587f5 5.26%,#2982f6 10.23%,#2d7cf7 15.20%,#3176f8 20.18%,#3473f8 25.15%,#366ff9 30.12%,#3b69f9 35.09%,#3f63fa 40.06%,#435dfb 45.03%,#4756fb 50.00%,#4b51fc 54.97%,#4f4bfc 59.94%,#5345fd 64.91%,#573ffd 69.88%,#5c37fd 74.85%,#622ffe 79.83%,#6727fe 84.80%,#6c1fff 89.77%,#6f1aff 94.74%,#7215ff 99.71%)"></div>
<div style="left:272px;top:448px;width:120px;height:3px;background:linear-gradient(90deg,#208df4 0.29%,#2488f5 5.26%,#2982f6 10.23%,#2d7cf7 15.20%,#3275f8 20.18%,#3572f8 25.15%,#376ef9 30.12%,#3c67f9 35.09%,#4061fa 40.06%,#455afb 45.03%,#4953fb 50.00%,#4d4efc 54.97%,#5148fc 59.94%,#5542fd 64.91%,#593cfd 69.88%,#5f33fe 74.85%,#642afe 79.83%,#6a22fe 84.80%,#6f1aff 89.77%,#7116ff 94.74%,#7412ff 99.71%)"></div>
<div style="left:272px;top:451px;width:120px;height:3px;background:linear-gradient(90deg,#1f8ff4 0.29%,#2488f5 5.26%,#2982f6 10.23%,#2e7bf7 15.20%,#3374f8 20.18%,#3571f8 25.15%,#386df9 30.12%,#3d66fa 35.09%,#425ffa 40.06%,#4758fb 45.03%,#4b50fc 50.00%,#4f4bfc 54.97%,#5345fd 59.94%,#573ffd 64.91%,#5b39fd 69.88%,#6130fe 74.85%,#6726fe 79.83%,#6c1eff 84.80%,#7116ff 89.77%,#7412ff 94.74%,#770eff 99.71%)"></div>
<div style="left:272px;top:454px;width:120px;height:3px;background:linear-gradient(90deg,#1f8ff4 0.29%,#2489f5 5.26%,#2982f6 10.23%,#2e7bf7 15.20%,#3374f8 20.18%,#3670f8 25.15%,#386df9 30.12%,#3d65fa 35.09%,#425efa 40.06%,#4756fb 45.03%,#4c4ffc 50.00%,#5049fc 54.97%,#5443fd 59.94%,#583dfd 64.91%,#5c38fd 69.88%,#622efe 74.85%,#6924fe 79.83%,#6e1cff 84.80%,#7314ff 89.77%,#7510ff 94.74%,#780cff 99.71%)"></div>
<div style="left:272px;top:457px;width:120px;height:3px;background:linear-gradient(90deg,#1f8ff4 0.29%,#2489f5 5.26%,#2982f6 10.23%,#2e7bf7 15.20%,#3374f8 20.18%,#3670f8 25.15%,#386df9 30.12%,#3d65fa 35.09%,#425efa 40.06%,#4756fb 45.03%,#4c4ffc 50.00%,#5049fc 54.97%,#5443fd 59.94%,#583dfd 64.91%,#5c38fd 69.88%,#622efe 74.85%,#6924fe 79.83%,#6e1cff 84.80%,#7314ff 89.77%,#7510ff 94.74%,#780cff 99.71%)"></div>
<div style="left:272px;top:460px;width:120px;height:3px;background:linear-gradient(90deg,#1f8ff4 0.29%,#2489f5 5.26%,#2982f6 10.23%,#2e7bf7 15.20%,#3374f8 20.18%,#3670f8 25.15%,#386df9 30.12%,#3d65fa 35.09%,#425efa 40.06%,#4756fb 45.03%,#4c4ffc 50.00%,#5049fc 54.97%,#5443fd 59.94%,#583dfd 64.91%,#5c38fd 69.88%,#622efe 74.85%,#6924fe 79.83%,#6e1cff 84.80%,#7314ff 89.77%,#7510ff 94.74%,#780cff 99.71%)"></div>
<div style="left:272px;top:463px;width:120px;height:3px;background:linear-gradient(90deg,#1f8ff4 0.29%,#2489f5 5.26%,#2982f6 10.23%,#2e7bf7 15.20%,#3374f8 20.18%,#3670f8 25.15%,#386df9 30.12%,#3d65fa 35.09%,#425efa 40.06%,#4756fb 45.03%,#4c4ffc 50.00%,#5049fc 54.97%,#5443fd 59.94%,#583dfd 64.91%,#5c38fd 69.88%,#622efe 74.85%,#6924fe 79.83%,#6e1cff 84.80%,#7314ff 89.77%,#7510ff 94.74%,#780cff 99.71%)"></div>
<div style="left:272px;top:466px;width:120px;height:3px;background:linear-gradient(90deg,#1f8ff4 0.29%,#2489f5 5.26%,#2982f6 10.23%,#2e7bf7 15.20%,#3374f8 20.18%,#3670f8 25.15%,#386df9 30.12%,#3d65fa 35.09%,#425efa 40.06%,#4756fb 45.03%,#4c4ffc 50.00%,#5049fc 54.97%,#5443fd 59.94%,#583dfd 64.91%,#5c38fd 69.88%,#622efe 74.85%,#6924fe 79.83%,#6e1cff 84.80%,#7314ff 89.77%,#7510ff 94.74%,#780cff 99.71%)"></div>
<div style="left:272px;top:469px;width:120px;height:3px;background:linear-gradient(90deg,#1f8ff4 0.29%,#2489f5 5.26%,#2982f6 10.23%,#2e7bf7 15.20%,#3374f8 20.18%,#3670f8 25.15%,#386df9 30.12%,#3d65fa 35.09%,#425efa 40.06%,#4756fb 45.03%,#4c4ffc 50.00%,#5049fc 54.97%,#5443fd 59.94%,#583dfd 64.91%,#5c38fd 69.88%,#622efe 74.85%,#6924fe 79.83%,#6e1cff 84.80%,#7314ff 89.77%,#7510ff 94.74%,#780cff 99.71%)"></div>
<div style="left:272px;top:472px;width:120px;height:3px;background:linear-gradient(90deg,#1f8ff4 0.29%,#2489f5 5.26%,#2982f6 10.23%,#2e7bf7 15.20%,#3374f8 20.18%,#3670f8 25.15%,#386df9 30.12%,#3d65fa 35.09%,#425efa 40.06%,#4756fb 45.03%,#4c4ffc 50.00%,#5049fc 54.97%,#5443fd 59.94%,#583dfd 64.91%,#5c38fd 69.88%,#622efe 74.85%,#6924fe 79.83%,#6e1cff 84.80%,#7314ff 89.77%,#7510ff 94.74%,#780cff 99.71%)"></div>
<div style="left:272px;top:475px;width:120px;height:3px;background:linear-gradient(90deg,#1f8ff4 0.29%,#2489f5 5.26%,#2982f6 10.23%,#2e7bf7 15.20%,#3374f8 20.18%,#3670f8 25.15%,#386df9 30.12%,#3d65fa 35.09%,#425efa 40.06%,#4756fb 45.03%,#4c4ffc 50.00%,#5049fc 54.97%,#5443fd 59.94%,#583dfd 64.91%,#5c38fd 69.88%,#622efe 74.85%,#6924fe 79.83%,#6e1cff 84.80%,#7314ff 89.77%,#7510ff 94.74%,#780cff 99.71%)"></div>
<div style="left:272px;top:478px;width:120px;height:3px;background:linear-gradient(90deg,#1f8ff4 0.29%,#2489f5 5.26%,#2982f6 10.23%,#2e7bf7 15.20%,#3374f8 20.18%,#3670f8 25.15%,#386df9 30.12%,#3d65fa 35.09%,#425efa 40.06%,#4756fb 45.03%,#4c4ffc 50.00%,#5049fc 54.97%,#5443fd 59.94%,#583dfd 64.91%,#5c38fd 69.88%,#622efe 74.85%,#6924fe 79.83%,#6e1cff 84.80%,#7314ff 89.77%,#7510ff 94.74%,#780cff 99.71%)"></div>
<div style="left:272px;top:481px;width:120px;height:3px;background:linear-gradient(90deg,#1f8ff4 0.29%,#2489f5 5.26%,#2982f6 10.23%,#2e7bf7 15.20%,#3374f8 20.18%,#3670f8 25.15%,#386df9 30.12%,#3d65fa 35.09%,#425efa 40.06%,#4756fb 45.03%,#4c4ffc 50.00%,#5049fc 54.97%,#5443fd 59.94%,#583dfd 64.91%,#5c38fd 69.88%,#622efe 74.85%,#6924fe 79.83%,#6e1cff 84.80%,#7314ff 89.77%,#7510ff 94.74%,#780cff 99.71%)"></div>
<div style="left:272px;top:484px;width:120px;height:3px;background:linear-gradient(90deg,#1f8ff4 0.29%,#2489f5 5.26%,#2982f6 10.23%,#2e7bf7 15.20%,#3374f8 20.18%,#3670f8 25.15%,#386df9 30.12%,#3d65fa 35.09%,#425efa 40.06%,#4756fb 45.03%,#4d4ffc 50.00%,#5049fc 54.97%,#5443fd 59.94%,#583dfd 64.91%,#5c38fd 69.88%,#622efe 74.85%,#6924fe 79.83%,#6e1cff 84.80%,#7314ff 89.77%,#7510ff 94.74%,#780cff 99.71%)"></div>
<div style="left:272px;top:487px;width:120px;height:1px;background:linear-gradient(90deg,#1f8ff4 0.29%,#2489f5 5.26%,#2982f6 10.23%,#2e7bf7 15.20%,#3374f8 20.18%,#3670f8 25.15%,#386df9 30.12%,#3d65fa 35.09%,#425efa 40.06%,#4756fb 45.03%,#4c4ffc 50.00%,#5049fc 54.97%,#5443fd 59.94%,#583dfd 64.91%,#5c38fd 69.88%,#622efe 74.85%,#6924fe 79.83%,#6e1cff 84.80%,#7314ff 89.77%,#7510ff 94.74%,#780cff 99.71%)"></div>
<div style="left:394.40px;top:376.10px;width:5.90px;height:111.25px;background:linear-gradient(180deg,#ff0000 0%,#ff2814 5%,#ff4f28 10%,#ff743c 15%,#ff964f 20%,#ffb462 25%,#e5ce74 30%,#cce385 35%,#b2f396 40%,#99fca6 45%,#80ffb4 50%,#66fcc2 55%,#4df3ce 60%,#33e3d9 65%,#1acee3 70%,#00b4ec 75%,#1a96f3 80%,#3374f8 85%,#4d4ffc 90%,#6628fe 95%,#8000ff 100%)"></div>
<div style="left:501px;top:376px;width:120px;height:3px;background:linear-gradient(90deg,#5e34fe 0.42%,#4559fb 5.39%,#2d7df7 10.36%,#1d91f3 15.33%,#0ea4f0 20.30%,#01b5eb 25.27%,#10c5e6 30.24%,#22d6e0 35.21%,#34e4d9 40.18%,#4bf2cf 45.15%,#62fbc4 50.12%,#71febc 55.10%,#80ffb4 60.07%,#90feab 65.04%,#9ffaa2 70.01%,#bbee90 74.98%,#d7db7e 79.95%,#f0c46c 84.92%,#ffa85a 89.89%,#ff8f4b 94.86%,#ff733b 99.83%)"></div>
<div style="left:501px;top:379px;width:120px;height:3px;background:linear-gradient(90deg,#593cfd 0.42%,#415ffa 5.39%,#2a80f6 10.36%,#1b94f3 15.33%,#0ca6ef 20.30%,#03b8eb 25.27%,#12c8e6 30.24%,#24d8df 35.21%,#36e5d8 40.18%,#4df3ce 45.15%,#63fbc3 50.12%,#72febb 55.10%,#81ffb3 60.07%,#92fdaa 65.04%,#a2f9a0 70.01%,#bded8f 74.98%,#d9d97d 79.95%,#f1c36b 84.92%,#ffa85a 89.89%,#ff8f4b 94.86%,#ff733b 99.83%)"></div>
<div style="left:501px;top:382px;width:120px;height:3px;background:linear-gradient(90deg,#5345fd 0.42%,#3d65fa 5.39%,#2884f6 10.36%,#1997f2 15.33%,#0aa9ee 20.30%,#05baea 25.27%,#15cae5 30.24%,#26dade 35.21%,#38e7d7 40.18%,#4ff4cd 45.15%,#65fcc2 50.12%,#74febb 55.10%,#83ffb3 60.07%,#94fda9 65.04%,#a4f89f 70.01%,#bfeb8e 74.98%,#dad87b 79.95%,#f2c26b 84.92%,#ffa759 89.89%,#ff8e4a 94.86%,#ff723b 99.83%)"></div>
<div style="left:501px;top:385px;width:120px;height:3px;background:linear-gradient(90deg,#4e4dfc 0.42%,#396bf9 5.39%,#2587f5 10.36%,#169af2 15.33%,#08abee 20.30%,#07bce9 25.27%,#17cce4 30.24%,#29dbde 35.21%,#3ae8d6 40.18%,#51f4cc 45.15%,#67fcc1 50.12%,#75ffba 55.10%,#84ffb2 60.07%,#96fda8 65.04%,#a7f79d 70.01%,#c2ea8c 74.98%,#dcd77a 79.95%,#f3c16a 84.92%,#ffa759 89.89%,#ff8d4a 94.86%,#ff723a 99.83%)"></div>
<div style="left:501px;top:388px;width:120px;height:3px;background:linear-gradient(90deg,#4856fb 0.42%,#3571f8 5.39%,#228af5 10.36%,#149df1 15.33%,#06aeed 20.30%,#0abfe9 25.27%,#19cee3 30.24%,#2bdddd 35.21%,#3dead5 40.18%,#53f5cb 45.15%,#69fcc1 50.12%,#77ffb9 55.10%,#85ffb1 60.07%,#97fca7 65.04%,#aaf69b 70.01%,#c4e98b 74.98%,#ded579 79.95%,#f4c069 84.92%,#ffa659 89.89%,#ff8d4a 94.86%,#ff713a 99.83%)"></div>
<div style="left:501px;top:391px;width:120px;height:3px;background:linear-gradient(90deg,#425efa 0.42%,#3176f8 5.39%,#208ef4 10.36%,#12a0f1 15.33%,#04b0ed 20.30%,#0cc1e8 25.27%,#1bd0e3 30.24%,#2ddfdc 35.21%,#3febd4 40.18%,#55f6cb 45.15%,#6afdc0 50.12%,#78ffb8 55.10%,#87ffb0 60.07%,#99fca5 65.04%,#acf59a 70.01%,#c6e789 74.98%,#e0d478 79.95%,#f6be68 84.92%,#ffa658 89.89%,#ff8c49 94.86%,#ff703a 99.83%)"></div>
<div style="left:501px;top:394px;width:120px;height:3px;background:linear-gradient(90deg,#3d66fa 0.42%,#2d7cf7 5.39%,#1d91f3 10.36%,#0fa3f0 15.33%,#01b3ec 20.30%,#0ec3e7 25.27%,#1dd2e2 30.24%,#2fe0db 35.21%,#41ecd4 40.18%,#56f7ca 45.15%,#6cfdbf 50.12%,#7affb7 55.10%,#88ffb0 60.07%,#9bfba4 65.04%,#aff498 70.01%,#c8e688 74.98%,#e1d277 79.95%,#f7bd68 84.92%,#ffa558 89.89%,#ff8c49 94.86%,#ff7039 99.83%)"></div>
<div style="left:501px;top:397px;width:120px;height:3px;background:linear-gradient(90deg,#376ef9 0.42%,#2982f6 5.39%,#1b94f3 10.36%,#0da5ef 15.33%,#01b5eb 20.30%,#10c5e6 25.27%,#1fd4e1 30.24%,#31e2da 35.21%,#43eed3 40.18%,#58f8c9 45.15%,#6efdbe 50.12%,#7bffb7 55.10%,#89ffaf 60.07%,#9dfba3 65.04%,#b1f397 70.01%,#cae486 74.98%,#e3d175 79.95%,#f8bc67 84.92%,#ffa558 89.89%,#ff8b49 94.86%,#ff6f39 99.83%)"></div>
<div style="left:501px;top:400px;width:120px;height:3px;background:linear-gradient(90deg,#3276f8 0.42%,#2587f5 5.39%,#1898f2 10.36%,#0ba8ef 15.33%,#03b7eb 20.30%,#12c7e6 25.27%,#21d5e0 30.24%,#33e3d9 35.21%,#45efd2 40.18%,#5af8c8 45.15%,#6ffebd 50.12%,#7dffb6 55.10%,#8afeae 60.07%,#9ffaa2 65.04%,#b4f295 70.01%,#cce385 74.98%,#e5cf74 79.95%,#f9bb66 84.92%,#ffa457 89.89%,#ff8b48 94.86%,#ff6f39 99.83%)"></div>
<div style="left:501px;top:403px;width:120px;height:3px;background:linear-gradient(90deg,#2c7df7 0.42%,#218df4 5.39%,#159bf2 10.36%,#08abee 15.33%,#05baea 20.30%,#14c9e5 25.27%,#24d7df 30.24%,#35e5d8 35.21%,#47f0d1 40.18%,#5cf9c7 45.15%,#71febc 50.12%,#7effb5 55.10%,#8cfead 60.07%,#a1faa1 65.04%,#b7f093 70.01%,#cee184 74.98%,#e6cd73 79.95%,#faba65 84.92%,#ffa457 89.89%,#ff8a48 94.86%,#ff6e38 99.83%)"></div>
<div style="left:501px;top:406px;width:120px;height:3px;background:linear-gradient(90deg,#2685f5 0.42%,#1d92f3 5.39%,#139ef1 10.36%,#06aeed 15.33%,#07bce9 20.30%,#16cbe4 25.27%,#26d9df 30.24%,#38e6d7 35.21%,#49f1d0 40.18%,#5efac6 45.15%,#73febb 50.12%,#80ffb4 55.10%,#8dfead 60.07%,#a3f9a0 65.04%,#b9ef92 70.01%,#d1e082 74.98%,#e8cc72 79.95%,#fbb965 84.92%,#ffa357 89.89%,#ff8948 94.86%,#ff6d38 99.83%)"></div>
<div style="left:501px;top:409px;width:120px;height:3px;background:linear-gradient(90deg,#218cf4 0.42%,#1997f2 5.39%,#10a1f0 10.36%,#03b0ed 15.33%,#09bee9 20.30%,#19cee4 25.27%,#28dbde 30.24%,#3ae8d7 35.21%,#4cf2cf 40.18%,#60fac5 45.15%,#75feba 50.12%,#81ffb3 55.10%,#8efeac 60.07%,#a5f89e 65.04%,#bcee90 70.01%,#d3de81 74.98%,#eaca71 79.95%,#fcb864 84.92%,#ffa357 89.89%,#ff8947 94.86%,#ff6d38 99.83%)"></div>
<div style="left:501px;top:412px;width:120px;height:3px;background:linear-gradient(90deg,#1b93f3 0.42%,#149df1 5.39%,#0ca6ef 10.36%,#01b6eb 15.33%,#0ec4e7 20.30%,#1ed2e2 25.27%,#2ddfdc 30.24%,#3febd4 35.21%,#51f4cc 40.18%,#64fbc3 45.15%,#78ffb9 50.12%,#85ffb1 55.10%,#92fdaa 60.07%,#a9f79c 65.04%,#bfec8e 70.01%,#d6dc7f 74.98%,#edc76f 79.95%,#ffb562 84.92%,#ffa055 89.89%,#ff8746 94.86%,#ff6b37 99.83%)"></div>
<div style="left:501px;top:415px;width:120px;height:3px;background:linear-gradient(90deg,#169af2 0.42%,#0ea4f0 5.39%,#07adee 10.36%,#07bce9 15.33%,#15cae5 20.30%,#25d8df 25.27%,#35e5d9 30.24%,#46efd1 35.21%,#58f7c9 40.18%,#69fdc0 45.15%,#7bffb7 50.12%,#89ffaf 55.10%,#97fca7 60.07%,#adf599 65.04%,#c3e98b 70.01%,#dad97c 74.98%,#f1c36c 79.95%,#ffb15f 84.92%,#ff9d53 89.89%,#ff8344 94.86%,#ff6735 99.83%)"></div>
<div style="left:501px;top:418px;width:120px;height:3px;background:linear-gradient(90deg,#11a1f0 0.42%,#09aaee 5.39%,#01b3ec 10.36%,#0dc3e7 15.33%,#1cd1e2 20.30%,#2cdedc 25.27%,#3dead5 30.24%,#4ef3ce 35.21%,#5efac6 40.18%,#6ffebd 45.15%,#7fffb4 50.12%,#8efeac 55.10%,#9dfba3 60.07%,#b2f396 65.04%,#c7e789 70.01%,#ded579 74.98%,#f5c069 79.95%,#ffad5d 84.92%,#ff9950 89.89%,#ff7f42 94.86%,#ff6433 99.83%)"></div>
<div style="left:501px;top:421px;width:120px;height:3px;background:linear-gradient(90deg,#0ba7ef 0.42%,#04b0ed 5.39%,#04b9ea 10.36%,#13c9e5 15.33%,#23d7e0 20.30%,#34e4d9 25.27%,#44eed2 30.24%,#55f6ca 35.21%,#65fcc2 40.18%,#74febb 45.15%,#83ffb2 50.12%,#93fda9 55.10%,#a2f9a0 60.07%,#b6f193 65.04%,#cae486 70.01%,#e1d277 74.98%,#f8bc66 79.95%,#ffa95a 84.92%,#ff954e 89.89%,#ff7c40 94.86%,#ff6131 99.83%)"></div>
<div style="left:501px;top:424px;width:120px;height:3px;background:linear-gradient(90deg,#06aeed 0.42%,#02b6eb 5.39%,#09bee9 10.36%,#1acee3 15.33%,#2adcdd 20.30%,#3be9d6 25.27%,#4cf2cf 30.24%,#5cf9c7 35.21%,#6cfdbf 40.18%,#7affb8 45.15%,#87ffb0 50.12%,#97fca7 55.10%,#a7f79d 60.07%,#bbee91 65.04%,#cee284 70.01%,#e5cf74 74.98%,#fcb764 79.95%,#ffa558 84.92%,#ff914c 89.89%,#ff783e 94.86%,#ff5d30 99.83%)"></div>
<div style="left:501px;top:427px;width:120px;height:3px;background:linear-gradient(90deg,#01b4ec 0.42%,#07bce9 5.39%,#0fc4e7 10.36%,#20d4e1 15.33%,#31e2da 20.30%,#42edd3 25.27%,#54f6cb 30.24%,#63fbc3 35.21%,#73febb 40.18%,#7fffb5 45.15%,#8bfeae 50.12%,#9cfba4 55.10%,#adf59a 60.07%,#bfeb8e 65.04%,#d2df81 70.01%,#e9cb71 74.98%,#ffb361 79.95%,#ffa155 84.92%,#ff8d4a 89.89%,#ff743c 94.86%,#ff5a2e 99.83%)"></div>
<div style="left:501px;top:430px;width:120px;height:3px;background:linear-gradient(90deg,#05b9ea 0.42%,#0cc1e8 5.39%,#14c9e5 10.36%,#26d9df 15.33%,#38e6d8 20.30%,#49f1d0 25.27%,#5bf9c7 30.24%,#6bfdc0 35.21%,#7affb7 40.18%,#84ffb2 45.15%,#8ffeac 50.12%,#a0faa1 55.10%,#b2f396 60.07%,#c4e98b 65.04%,#d6dc7f 70.01%,#edc76f 74.98%,#ffaf5e 79.95%,#ff9d53 84.92%,#ff8947 89.89%,#ff703a 94.86%,#ff572c 99.83%)"></div>
<div style="left:501px;top:433px;width:120px;height:3px;background:linear-gradient(90deg,#0abfe8 0.42%,#13c8e6 5.39%,#1bd0e3 10.36%,#2ddfdc 15.33%,#3eebd5 20.30%,#50f4cd 25.27%,#61fbc4 30.24%,#70febd 35.21%,#80ffb4 40.18%,#8afeae 45.15%,#95fda8 50.12%,#a6f89e 55.10%,#b7f093 60.07%,#c9e587 65.04%,#dbd87b 70.01%,#f0c46c 74.98%,#ffad5d 79.95%,#ff9a51 84.92%,#ff8646 89.89%,#ff6e38 94.86%,#ff552b 99.83%)"></div>
<div style="left:501px;top:436px;width:120px;height:3px;background:linear-gradient(90deg,#10c5e7 0.42%,#19cee3 5.39%,#23d7e0 10.36%,#34e4d9 15.33%,#45efd2 20.30%,#56f7ca 25.27%,#67fcc2 30.24%,#76ffba 35.21%,#85ffb1 40.18%,#90feab 45.15%,#9bfba5 50.12%,#abf69a 55.10%,#bced90 60.07%,#cee284 65.04%,#e0d378 70.01%,#f4c06a 74.98%,#ffaa5b 79.95%,#ff9850 84.92%,#ff8444 89.89%,#ff6c37 94.86%,#ff532a 99.83%)"></div>
<div style="left:501px;top:439px;width:120px;height:3px;background:linear-gradient(90deg,#16cbe5 0.42%,#20d4e1 5.39%,#2adddd 10.36%,#3be9d6 15.33%,#4cf2ce 20.30%,#5cf9c7 25.27%,#6cfdbf 30.24%,#7cffb6 35.21%,#8bfeae 40.18%,#96fda7 45.15%,#a1faa1 50.12%,#b1f397 55.10%,#c1ea8c 60.07%,#d3de81 65.04%,#e5cf74 70.01%,#f7bd67 74.98%,#ffa85a 79.95%,#ff954f 84.92%,#ff8143 89.89%,#ff6a36 94.86%,#ff5129 99.83%)"></div>
<div style="left:501px;top:442px;width:120px;height:3px;background:linear-gradient(90deg,#1bd0e3 0.42%,#27dade 5.39%,#32e2da 10.36%,#42edd3 15.33%,#53f6cb 20.30%,#62fbc4 25.27%,#72febc 30.24%,#81ffb3 35.21%,#90feab 40.18%,#9cfba4 45.15%,#a7f79d 50.12%,#b7f093 55.10%,#c6e789 60.07%,#d8da7d 65.04%,#eaca71 70.01%,#fbb965 74.98%,#ffa658 79.95%,#ff934d 84.92%,#ff7f42 89.89%,#ff6735 94.86%,#ff4f28 99.83%)"></div>
<div style="left:501px;top:445px;width:120px;height:3px;background:linear-gradient(90deg,#21d5e1 0.42%,#2ddfdc 5.39%,#39e8d7 10.36%,#4af1d0 15.33%,#5af8c8 20.30%,#69fcc1 25.27%,#78ffb9 30.24%,#87ffb0 35.21%,#96fda7 40.18%,#a2f9a0 45.15%,#aef599 50.12%,#bced90 55.10%,#cbe486 60.07%,#ddd67a 65.04%,#efc56d 70.01%,#feb562 74.98%,#ffa457 79.95%,#ff914c 84.92%,#ff7c40 89.89%,#ff6534 94.86%,#ff4d27 99.83%)"></div>
<div style="left:501px;top:448px;width:120px;height:3px;background:linear-gradient(90deg,#26dade 0.42%,#34e4d9 5.39%,#41ecd4 10.36%,#51f5cc 15.33%,#61fac5 20.30%,#6ffebd 25.27%,#7dffb6 30.24%,#8cfead 35.21%,#9cfba4 40.18%,#a8f79d 45.15%,#b4f295 50.12%,#c2ea8c 55.10%,#d0e082 60.07%,#e2d176 65.04%,#f4c06a 70.01%,#ffb160 74.98%,#ffa156 79.95%,#ff8e4a 84.92%,#ff7a3f 89.89%,#ff6332 94.86%,#ff4b26 99.83%)"></div>
<div style="left:501px;top:451px;width:120px;height:3px;background:linear-gradient(90deg,#2cdedc 0.42%,#3ae8d6 5.39%,#48f0d0 10.36%,#58f8c9 15.33%,#68fcc1 20.30%,#75feba 25.27%,#83ffb2 30.24%,#92fdaa 35.21%,#a1f9a1 40.18%,#aef599 45.15%,#baef91 50.12%,#c8e688 55.10%,#d5dc7f 60.07%,#e7cd73 65.04%,#f9bb66 70.01%,#ffae5d 74.98%,#ff9f54 79.95%,#ff8c49 84.92%,#ff773d 89.89%,#ff6131 94.86%,#ff4925 99.83%)"></div>
<div style="left:501px;top:454px;width:120px;height:3px;background:linear-gradient(90deg,#32e2da 0.42%,#41ecd4 5.39%,#50f4cd 10.36%,#5ffac5 15.33%,#6ffebd 20.30%,#7bffb7 25.27%,#88ffaf 30.24%,#98fca6 35.21%,#a7f79d 40.18%,#b4f295 45.15%,#c0eb8d 50.12%,#cde284 55.10%,#dad87c 60.07%,#ecc86f 65.04%,#feb662 70.01%,#ffaa5b 74.98%,#ff9d53 79.95%,#ff8947 84.92%,#ff743c 89.89%,#ff5e30 94.86%,#ff4824 99.83%)"></div>
<div style="left:501px;top:457px;width:120px;height:3px;background:linear-gradient(90deg,#39e7d7 0.42%,#48f0d0 5.39%,#57f7c9 10.36%,#66fcc2 15.33%,#75feba 20.30%,#82ffb3 25.27%,#8ffeac 30.24%,#9efba3 35.21%,#adf599 40.18%,#baef91 45.15%,#c7e789 50.12%,#d3de80 55.10%,#e0d378 60.07%,#f1c36c 65.04%,#ffb160 70.01%,#ffa658 74.98%,#ff9951 79.95%,#ff8646 84.92%,#ff713a 89.89%,#ff5b2e 94.86%,#ff4422 99.83%)"></div>
<div style="left:501px;top:460px;width:120px;height:3px;background:linear-gradient(90deg,#40ecd4 0.42%,#4ff4cd 5.39%,#5efac6 10.36%,#6dfdbe 15.33%,#7cffb6 20.30%,#89ffaf 25.27%,#95fda8 30.24%,#a5f89f 35.21%,#b4f295 40.18%,#c1eb8d 45.15%,#cde284 50.12%,#dad97c 55.10%,#e6ce74 60.07%,#f6be68 65.04%,#ffad5d 70.01%,#ffa256 74.98%,#ff964f 79.95%,#ff8244 84.92%,#ff6e38 89.89%,#ff572c 94.86%,#ff3f20 99.83%)"></div>
<div style="left:501px;top:463px;width:120px;height:3px;background:linear-gradient(90deg,#47f0d1 0.42%,#56f7ca 5.39%,#65fcc2 10.36%,#74febb 15.33%,#82ffb3 20.30%,#8ffeab 25.27%,#9cfba4 30.24%,#abf69a 35.21%,#baee91 40.18%,#c7e688 45.15%,#d4dd80 50.12%,#e0d378 55.10%,#ecc86f 60.07%,#fab965 65.04%,#ffa95a 70.01%,#ff9e53 74.98%,#ff924c 79.95%,#ff7f42 84.92%,#ff6a36 89.89%,#ff532a 94.86%,#ff3b1d 99.83%)"></div>
<div style="left:501px;top:466px;width:120px;height:3px;background:linear-gradient(90deg,#4ef3ce 0.42%,#5df9c6 5.39%,#6dfdbe 10.36%,#7bffb7 15.33%,#89ffaf 20.30%,#96fda8 25.27%,#a2f9a0 30.24%,#b2f396 35.21%,#c1ea8c 40.18%,#cee284 45.15%,#dbd87b 50.12%,#e6ce73 55.10%,#f2c26b 60.07%,#ffb461 65.04%,#ffa558 70.01%,#ff9a51 74.98%,#ff8e4a 79.95%,#ff7b3f 84.92%,#ff6735 89.89%,#ff4f28 94.86%,#ff361b 99.83%)"></div>
<div style="left:501px;top:469px;width:120px;height:3px;background:linear-gradient(90deg,#55f6ca 0.42%,#65fbc3 5.39%,#74febb 10.36%,#82ffb3 15.33%,#90feab 20.30%,#9cfba4 25.27%,#a9f79c 30.24%,#b8f092 35.21%,#c8e688 40.18%,#d4dd80 45.15%,#e1d277 50.12%,#ecc86f 55.10%,#f8bc67 60.07%,#ffaf5e 65.04%,#ffa055 70.01%,#ff954f 74.98%,#ff8a48 79.95%,#ff773d 84.92%,#ff6433 89.89%,#ff4b26 94.86%,#ff3119 99.83%)"></div>
<div style="left:501px;top:472px;width:120px;height:3px;background:linear-gradient(90deg,#5cf9c7 0.42%,#6cfdbf 5.39%,#7bffb7 10.36%,#89ffaf 15.33%,#96fda7 20.30%,#a3f9a0 25.27%,#b0f498 30.24%,#bfec8e 35.21%,#cee284 40.18%,#dbd87b 45.15%,#e8cc72 50.12%,#f3c16a 55.10%,#feb662 60.07%,#ffa95a 65.04%,#ff9c52 70.01%,#ff914c 74.98%,#ff8646 79.95%,#ff733b 84.92%,#ff6031 89.89%,#ff4724 94.86%,#ff2d16 99.83%)"></div>
<div style="left:501px;top:475px;width:120px;height:3px;background:linear-gradient(90deg,#64fbc3 0.42%,#73febb 5.39%,#82ffb3 10.36%,#8ffeab 15.33%,#9dfba3 20.30%,#a9f79c 25.27%,#b6f194 30.24%,#c6e88a 35.21%,#d5dd7f 40.18%,#e2d277 45.15%,#eec66e 50.12%,#f9bb66 55.10%,#ffaf5e 60.07%,#ffa357 65.04%,#ff9750 70.01%,#ff8d4a 74.98%,#ff8243 79.95%,#ff7039 84.92%,#ff5d2f 89.89%,#ff4322 94.86%,#ff2814 99.83%)"></div>
<div style="left:501px;top:478px;width:120px;height:3px;background:linear-gradient(90deg,#6bfdbf 0.42%,#7affb7 5.39%,#89ffaf 10.36%,#96fca7 15.33%,#a3f99f 20.30%,#b0f497 25.27%,#bded8f 30.24%,#cce385 35.21%,#dbd77b 40.18%,#e8cc72 45.15%,#f5bf69 50.12%,#ffb461 55.10%,#ffa85a 60.07%,#ff9e53 65.04%,#ff934d 70.01%,#ff8947 74.98%,#ff7e41 79.95%,#ff6c37 84.92%,#ff592d 89.89%,#ff3f20 94.86%,#ff2412 99.83%)"></div>
<div style="left:501px;top:481px;width:120px;height:3px;background:linear-gradient(90deg,#71febc 0.42%,#80ffb4 5.39%,#8ffeab 10.36%,#9cfba4 15.33%,#a9f79c 20.30%,#b6f194 25.27%,#c2ea8c 30.24%,#d2df81 35.21%,#e1d277 40.18%,#eec66e 45.15%,#fbb965 50.12%,#ffae5d 55.10%,#ffa256 60.07%,#ff9850 65.04%,#ff8e4a 70.01%,#ff8445 74.98%,#ff7a3f 79.95%,#ff6835 84.92%,#ff552b 89.89%,#ff3b1d 94.86%,#ff1f0f 99.83%)"></div>
<div style="left:501px;top:484px;width:120px;height:3px;background:linear-gradient(90deg,#74febb 0.42%,#83ffb2 5.39%,#92fdaa 10.36%,#9ffaa2 15.33%,#acf69a 20.30%,#b8ef92 25.27%,#c5e88a 30.24%,#d5dd7f 35.21%,#e4d075 40.18%,#f1c46c 45.15%,#fdb663 50.12%,#ffab5b 55.10%,#ff9e54 60.07%,#ff954e 65.04%,#ff8b48 70.01%,#ff8143 74.98%,#ff763d 79.95%,#ff6433 84.92%,#ff5129 89.89%,#ff361b 94.86%,#ff1b0d 99.83%)"></div>
<div style="left:501px;top:487px;width:120px;height:1px;background:linear-gradient(90deg,#75feba 0.42%,#85ffb1 5.39%,#94fda9 10.36%,#a1faa1 15.33%,#adf599 20.30%,#baef91 25.27%,#c7e789 30.24%,#d6db7e 35.21%,#e5ce74 40.18%,#f2c26b 45.15%,#ffb462 50.12%,#ffa95a 55.10%,#ff9c53 60.07%,#ff934d 65.04%,#ff8947 70.01%,#ff7e41 74.98%,#ff743c 79.95%,#ff6232 84.92%,#ff4f28 89.89%,#ff341a 94.86%,#ff180c 99.83%)"></div>
<div style="left:623.55px;top:376.10px;width:5.90px;height:111.25px;background:linear-gradient(180deg,#ff0000 0%,#ff2814 5%,#ff4f28 10%,#ff743c 15%,#ff964f 20%,#ffb462 25%,#e5ce74 30%,#cce385 35%,#b2f396 40%,#99fca6 45%,#80ffb4 50%,#66fcc2 55%,#4df3ce 60%,#33e3d9 65%,#1acee3 70%,#00b4ec 75%,#1a96f3 80%,#3374f8 85%,#4d4ffc 90%,#6628fe 95%,#8000ff 100%)"></div>
<div style="left:42px;top:553px;width:120px;height:3px;background:linear-gradient(90deg,#61fac5 0.38%,#61fac5 5.35%,#61fac4 10.32%,#61fac4 15.29%,#61fac4 20.26%,#61fac4 25.23%,#61fac4 30.20%,#61fac4 35.17%,#61fac4 40.14%,#61fac4 45.11%,#61fac4 50.08%,#61fbc4 55.05%,#61fbc4 60.03%,#61fbc4 65.00%,#61fbc4 69.97%,#61fbc4 74.94%,#61fbc4 79.91%,#61fbc4 84.88%,#61fbc4 89.85%,#61fbc4 94.82%,#61fbc4 99.79%)"></div>
<div style="left:42px;top:556px;width:120px;height:3px;background:linear-gradient(90deg,#5ffac5 0.38%,#60fac5 5.35%,#61fac4 10.32%,#61fac4 15.29%,#61fac4 20.26%,#61fac4 25.23%,#61fac4 30.20%,#61fac4 35.17%,#61fac4 40.14%,#61fac4 45.11%,#61fac4 50.08%,#62fbc4 55.05%,#63fbc4 60.03%,#63fbc4 65.00%,#63fbc4 69.97%,#63fbc4 74.94%,#63fbc4 79.91%,#63fbc3 84.88%,#64fbc3 89.85%,#64fbc3 94.82%,#64fbc3 99.79%)"></div>
<div style="left:42px;top:559px;width:120px;height:3px;background:linear-gradient(90deg,#5efac6 0.38%,#5ffac5 5.35%,#61fac4 10.32%,#61fac4 15.29%,#61fac4 20.26%,#61fac4 25.23%,#61fac4 30.20%,#61fac4 35.17%,#61fac4 40.14%,#61fac4 45.11%,#61fac4 50.08%,#62fbc4 55.05%,#64fbc3 60.03%,#64fbc3 65.00%,#64fbc3 69.97%,#64fbc3 74.94%,#64fbc3 79.91%,#65fcc2 84.88%,#67fcc1 89.85%,#67fcc1 94.82%,#67fcc1 99.79%)"></div>
<div style="left:42px;top:562px;width:120px;height:3px;background:linear-gradient(90deg,#5cf9c7 0.38%,#5ffac6 5.35%,#61fac4 10.32%,#61fac4 15.29%,#61fac4 20.26%,#61fac4 25.23%,#61fac4 30.20%,#61fac4 35.17%,#61fac4 40.14%,#61fac4 45.11%,#61fac4 50.08%,#63fbc3 55.05%,#65fcc2 60.03%,#65fcc2 65.00%,#65fcc2 69.97%,#65fcc2 74.94%,#65fcc2 79.91%,#68fcc1 84.88%,#6afdc0 89.85%,#6afdc0 94.82%,#6afdc0 99.79%)"></div>
<div style="left:42px;top:565px;width:120px;height:3px;background:linear-gradient(90deg,#56f7ca 0.38%,#59f8c8 5.35%,#5cf9c7 10.32%,#5df9c7 15.29%,#5ef9c6 20.26%,#5efac6 25.23%,#5ffac5 30.20%,#60fac5 35.17%,#60fac5 40.14%,#60fac5 45.11%,#61fac4 50.08%,#63fbc3 55.05%,#66fcc2 60.03%,#66fcc2 65.00%,#67fcc1 69.97%,#67fcc1 74.94%,#68fcc1 79.91%,#6afdc0 84.88%,#6dfdbe 89.85%,#6dfdbe 94.82%,#6efdbe 99.79%)"></div>
<div style="left:42px;top:568px;width:120px;height:3px;background:linear-gradient(90deg,#4af1d0 0.38%,#4ef3ce 5.35%,#52f5cc 10.32%,#54f6cb 15.29%,#57f7ca 20.26%,#59f8c8 25.23%,#5cf9c7 30.20%,#5df9c6 35.17%,#5efac6 40.14%,#60fac5 45.11%,#61fac4 50.08%,#63fbc3 55.05%,#66fcc2 60.03%,#67fcc1 65.00%,#69fcc1 69.97%,#6afdc0 74.94%,#6bfdbf 79.91%,#6efdbe 84.88%,#70febd 89.85%,#72febc 94.82%,#73febb 99.79%)"></div>
<div style="left:42px;top:571px;width:120px;height:3px;background:linear-gradient(90deg,#3eead5 0.38%,#43edd3 5.35%,#47f0d1 10.32%,#4bf2cf 15.29%,#50f4cd 20.26%,#54f6cb 25.23%,#58f8c9 30.20%,#5af8c8 35.17%,#5df9c7 40.14%,#5ffac6 45.11%,#61fac4 50.08%,#63fbc3 55.05%,#66fcc2 60.03%,#68fcc1 65.00%,#6afdc0 69.97%,#6cfdbf 74.94%,#6ffebd 79.91%,#71febc 84.88%,#74febb 89.85%,#76ffba 94.82%,#78ffb8 99.79%)"></div>
<div style="left:42px;top:574px;width:120px;height:3px;background:linear-gradient(90deg,#2adcdd 0.38%,#2fe1db 5.35%,#35e5d8 10.32%,#3ce9d6 15.29%,#42edd3 20.26%,#49f1d0 25.23%,#4ff4cd 30.20%,#53f6cb 35.17%,#57f7c9 40.14%,#5bf9c7 45.11%,#5ffac5 50.08%,#63fbc3 55.05%,#67fcc1 60.03%,#6bfdbf 65.00%,#6ffebd 69.97%,#73febb 74.94%,#77ffb9 79.91%,#7bffb7 84.88%,#7effb5 89.85%,#81ffb3 94.82%,#85ffb2 99.79%)"></div>
<div style="left:42px;top:577px;width:120px;height:3px;background:linear-gradient(90deg,#0ec3e7 0.38%,#15cae5 5.35%,#1dd1e2 10.32%,#26d9df 15.29%,#2fe0db 20.26%,#38e7d7 25.23%,#42edd3 30.20%,#48f0d0 35.17%,#4ff4cd 40.14%,#56f7ca 45.11%,#5df9c7 50.08%,#63fbc3 55.05%,#6afdc0 60.03%,#71febc 65.00%,#78ffb9 69.97%,#7effb5 74.94%,#85ffb1 79.91%,#8afeae 84.88%,#8efeac 89.85%,#93fda9 94.82%,#98fca6 99.79%)"></div>
<div style="left:42px;top:580px;width:120px;height:3px;background:linear-gradient(90deg,#0aa9ee 0.38%,#02b2ec 5.35%,#06baea 10.32%,#12c7e6 15.29%,#1ed2e2 20.26%,#29dcdd 25.23%,#34e4d9 30.20%,#3dead5 35.17%,#47f0d1 40.14%,#50f4cc 45.11%,#5af8c8 50.08%,#63fbc3 55.05%,#6dfdbe 60.03%,#77ffb9 65.00%,#82ffb3 69.97%,#8cfead 74.94%,#97fca7 79.91%,#9efaa2 84.88%,#a6f89d 89.85%,#acf59a 94.82%,#b2f396 99.79%)"></div>
<div style="left:42px;top:583px;width:120px;height:3px;background:linear-gradient(90deg,#208ef4 0.38%,#1898f2 5.35%,#10a1f0 10.32%,#02b3ec 15.29%,#0dc2e7 20.26%,#1acfe3 25.23%,#26d9de 30.20%,#32e3da 35.17%,#3febd4 40.14%,#4bf2cf 45.11%,#57f7c9 50.08%,#63fbc3 55.05%,#70febd 60.03%,#7effb5 65.00%,#8dfead 69.97%,#9bfba4 74.94%,#aaf69b 79.91%,#b6f194 84.88%,#c2ea8c 89.85%,#c9e587 94.82%,#d1e082 99.79%)"></div>
<div style="left:42px;top:586px;width:120px;height:3px;background:linear-gradient(90deg,#376ef9 0.38%,#2d7cf7 5.35%,#228af5 10.32%,#12a0f1 15.29%,#01b3ec 20.26%,#0fc4e7 25.23%,#1ed2e2 30.20%,#2cdedc 35.17%,#3ae8d6 40.14%,#4af1cf 45.11%,#5af8c8 50.08%,#69fdc0 55.05%,#79ffb8 60.03%,#8bfeae 65.00%,#9dfba3 69.97%,#aff498 74.94%,#c1ea8c 79.91%,#d2df81 84.88%,#e3d176 89.85%,#edc76e 94.82%,#f8bc67 99.79%)"></div>
<div style="left:42px;top:589px;width:120px;height:3px;background:linear-gradient(90deg,#4c50fc 0.38%,#3e63fa 5.35%,#3177f8 10.32%,#1f8ff4 15.29%,#0ca6ef 20.26%,#06bbea 25.23%,#18cde4 30.20%,#28dbde 35.17%,#38e7d7 40.14%,#4bf2cf 45.11%,#5df9c6 50.08%,#70febd 55.05%,#83ffb3 60.03%,#97fca7 65.00%,#acf59a 69.97%,#c1ea8c 74.94%,#d6db7e 79.91%,#ecc96f 84.88%,#ffb260 89.85%,#ffa357 94.82%,#ff944d 99.79%)"></div>
<div style="left:42px;top:592px;width:120px;height:3px;background:linear-gradient(90deg,#5a3bfd 0.38%,#4a53fc 5.35%,#3a6af9 10.32%,#2785f6 15.29%,#139ef1 20.26%,#00b4ec 25.23%,#13c9e5 30.20%,#26d9df 35.17%,#38e7d7 40.14%,#4df3ce 45.11%,#62fbc4 50.08%,#77ffb9 55.05%,#8cfead 60.03%,#a2f9a0 65.00%,#b8f093 69.97%,#cfe183 74.94%,#e6cd73 79.91%,#feb562 84.88%,#ff9a51 89.85%,#ff8948 94.82%,#ff783e 99.79%)"></div>
<div style="left:42px;top:595px;width:120px;height:3px;background:linear-gradient(90deg,#6727fe 0.38%,#5542fd 5.35%,#435dfb 10.32%,#2e7af7 15.29%,#1a96f3 20.26%,#05aeed 25.23%,#0fc4e7 30.20%,#24d7df 35.17%,#38e7d7 40.14%,#4ff4cd 45.11%,#66fcc2 50.08%,#7dffb6 55.05%,#94fda9 60.03%,#abf69b 65.00%,#c2ea8c 69.97%,#dcd77a 74.94%,#f5bf68 79.91%,#ffa256 84.88%,#ff8143 89.85%,#ff6f39 94.82%,#ff5b2e 99.79%)"></div>
<div style="left:42px;top:598px;width:120px;height:3px;background:linear-gradient(90deg,#6d1eff 0.38%,#5a3bfd 5.35%,#4757fb 10.32%,#3176f8 15.29%,#1c93f3 20.26%,#06aded 25.23%,#0fc4e7 30.20%,#25d8df 35.17%,#3ae8d6 40.14%,#52f5cc 45.11%,#6afdc0 50.08%,#80ffb4 55.05%,#96fda7 60.03%,#aef599 65.00%,#c6e789 69.97%,#e1d377 74.94%,#fbb864 79.91%,#ff9c52 84.88%,#ff7c40 89.85%,#ff6131 94.82%,#ff4422 99.79%)"></div>
<div style="left:42px;top:601px;width:120px;height:3px;background:linear-gradient(90deg,#7215ff 0.38%,#5f33fe 5.35%,#4b52fc 10.32%,#3472f8 15.29%,#1e91f4 20.26%,#07acee 25.23%,#0fc4e7 30.20%,#26d9df 35.17%,#3ce9d6 40.14%,#55f6ca 45.11%,#6efebe 50.08%,#83ffb2 55.05%,#98fca6 60.03%,#b1f397 65.00%,#cae587 69.97%,#e6ce74 74.94%,#ffb260 79.91%,#ff964f 84.88%,#ff763d 89.85%,#ff522a 94.82%,#ff2c16 99.79%)"></div>
<div style="left:42px;top:604px;width:120px;height:3px;background:linear-gradient(90deg,#7510ff 0.38%,#6130fe 5.35%,#4c4ffc 10.32%,#3670f8 15.29%,#1f8ff4 20.26%,#08acee 25.23%,#0fc4e7 30.20%,#26d9de 35.17%,#3dead5 40.14%,#57f7c9 45.11%,#70febd 50.08%,#85ffb1 55.05%,#99fca6 60.03%,#b3f396 65.00%,#cce385 69.97%,#e8cc72 74.94%,#ffaf5e 79.91%,#ff934d 84.88%,#ff743c 89.85%,#ff4b26 94.82%,#ff2010 99.79%)"></div>
<div style="left:42px;top:607px;width:120px;height:3px;background:linear-gradient(90deg,#7510ff 0.38%,#6130fe 5.35%,#4c4ffc 10.32%,#3670f8 15.29%,#1f8ff4 20.26%,#08acee 25.23%,#0fc4e7 30.20%,#26d9de 35.17%,#3dead5 40.14%,#57f7c9 45.11%,#70febd 50.08%,#85ffb1 55.05%,#99fca6 60.03%,#b3f396 65.00%,#cce385 69.97%,#e8cc72 74.94%,#ffaf5e 79.91%,#ff934d 84.88%,#ff743c 89.85%,#ff4b26 94.82%,#ff2010 99.79%)"></div>
<div style="left:42px;top:610px;width:120px;height:3px;background:linear-gradient(90deg,#7510ff 0.38%,#6130fe 5.35%,#4c4ffc 10.32%,#3670f8 15.29%,#1f8ff4 20.26%,#08acee 25.23%,#0fc4e7 30.20%,#26d9de 35.17%,#3dead5 40.14%,#57f7c9 45.11%,#70febd 50.08%,#85ffb1 55.05%,#99fca6 60.03%,#b3f396 65.00%,#cce385 69.97%,#e8cc72 74.94%,#ffaf5e 79.91%,#ff934d 84.88%,#ff743c 89.85%,#ff4b26 94.82%,#ff2010 99.79%)"></div>
<div style="left:42px;top:613px;width:120px;height:3px;background:linear-gradient(90deg,#7510ff 0.38%,#6130fe 5.35%,#4c4ffc 10.32%,#3670f8 15.29%,#1f8ff4 20.26%,#08acee 25.23%,#0fc4e7 30.20%,#26d9de 35.17%,#3dead5 40.14%,#57f7c9 45.11%,#70febd 50.08%,#85ffb1 55.05%,#99fca6 60.03%,#b3f396 65.00%,#cce385 69.97%,#e8cc72 74.94%,#ffaf5e 79.91%,#ff934d 84.88%,#ff743c 89.85%,#ff4b26 94.82%,#ff2010 99.79%)"></div>
<div style="left:42px;top:616px;width:120px;height:3px;background:linear-gradient(90deg,#7510ff 0.38%,#6130fe 5.35%,#4c4ffc 10.32%,#3670f8 15.29%,#1f8ff4 20.26%,#08acee 25.23%,#0fc4e7 30.20%,#26d9de 35.17%,#3dead5 40.14%,#57f7c9 45.11%,#70febd 50.08%,#85ffb1 55.05%,#99fca6 60.03%,#b3f396 65.00%,#cce385 69.97%,#e8cc72 74.94%,#ffaf5e 79.91%,#ff934d 84.88%,#ff743c 89.85%,#ff4b26 94.82%,#ff2010 99.79%)"></div>
<div style="left:42px;top:619px;width:120px;height:3px;background:linear-gradient(90deg,#7510ff 0.38%,#6130fe 5.35%,#4c4ffc 10.32%,#3670f8 15.29%,#1f8ff4 20.26%,#08acee 25.23%,#0fc4e7 30.20%,#26d9de 35.17%,#3dead5 40.14%,#57f7c9 45.11%,#70febd 50.08%,#85ffb1 55.05%,#99fca6 60.03%,#b3f396 65.00%,#cce385 69.97%,#e8cc72 74.94%,#ffaf5e 79.91%,#ff934d 84.88%,#ff743c 89.85%,#ff4b26 94.82%,#ff2010 99.79%)"></div>
<div style="left:42px;top:622px;width:120px;height:3px;background:linear-gradient(90deg,#7510ff 0.38%,#6130fe 5.35%,#4c4ffc 10.32%,#3670f8 15.29%,#1f8ff4 20.26%,#08acee 25.23%,#0fc4e7 30.20%,#26d9de 35.17%,#3dead5 40.14%,#57f7c9 45.11%,#70febd 50.08%,#85ffb1 55.05%,#99fca6 60.03%,#b3f396 65.00%,#cce385 69.97%,#e8cc72 74.94%,#ffaf5e 79.91%,#ff934d 84.88%,#ff743c 89.85%,#ff4b26 94.82%,#ff2010 99.79%)"></div>
<div style="left:42px;top:625px;width:120px;height:3px;background:linear-gradient(90deg,#7510ff 0.38%,#6130fe 5.35%,#4c4ffc 10.32%,#3670f8 15.29%,#1f8ff4 20.26%,#08acee 25.23%,#0fc4e7 30.20%,#26d9de 35.17%,#3dead5 40.14%,#57f7c9 45.11%,#70febd 50.08%,#85ffb1 55.05%,#99fca6 60.03%,#b3f396 65.00%,#cce385 69.97%,#e8cc72 74.94%,#ffaf5e 79.91%,#ff934d 84.88%,#ff743c 89.85%,#ff4b26 94.82%,#ff2010 99.79%)"></div>
<div style="left:42px;top:628px;width:120px;height:3px;background:linear-gradient(90deg,#7510ff 0.38%,#6130fe 5.35%,#4c4ffc 10.32%,#3670f8 15.29%,#1f8ff4 20.26%,#08acee 25.23%,#0fc4e7 30.20%,#26d9de 35.17%,#3dead5 40.14%,#57f7c9 45.11%,#70febd 50.08%,#85ffb1 55.05%,#99fca6 60.03%,#b3f396 65.00%,#cce385 69.97%,#e8cc72 74.94%,#ffaf5e 79.91%,#ff934d 84.88%,#ff743c 89.85%,#ff4b26 94.82%,#ff2010 99.79%)"></div>
<div style="left:42px;top:631px;width:120px;height:3px;background:linear-gradient(90deg,#7510ff 0.38%,#6130fe 5.35%,#4c4ffc 10.32%,#3670f8 15.29%,#1f8ff4 20.26%,#08acee 25.23%,#0fc4e7 30.20%,#26d9de 35.17%,#3dead5 40.14%,#57f7c9 45.11%,#70febd 50.08%,#85ffb1 55.05%,#99fca6 60.03%,#b3f396 65.00%,#cce385 69.97%,#e8cc72 74.94%,#ffaf5e 79.91%,#ff934d 84.88%,#ff743c 89.85%,#ff4b26 94.82%,#ff2010 99.79%)"></div>
<div style="left:42px;top:634px;width:120px;height:3px;background:linear-gradient(90deg,#7510ff 0.38%,#6130fe 5.35%,#4c4ffc 10.32%,#3670f8 15.29%,#1f8ff4 20.26%,#08acee 25.23%,#0fc4e7 30.20%,#26d9de 35.17%,#3dead5 40.14%,#57f7c9 45.11%,#70febd 50.08%,#85ffb1 55.05%,#99fca6 60.03%,#b3f396 65.00%,#cce385 69.97%,#e8cc72 74.94%,#ffaf5e 79.91%,#ff934d 84.88%,#ff743c 89.85%,#ff4b26 94.82%,#ff2010 99.79%)"></div>
<div style="left:42px;top:637px;width:120px;height:3px;background:linear-gradient(90deg,#7510ff 0.38%,#6130fe 5.35%,#4c4ffc 10.32%,#3670f8 15.29%,#1f8ff4 20.26%,#08acee 25.23%,#0fc4e7 30.20%,#26d9de 35.17%,#3dead5 40.14%,#57f7c9 45.11%,#70febd 50.08%,#85ffb1 55.05%,#99fca6 60.03%,#b3f396 65.00%,#cce385 69.97%,#e8cc72 74.94%,#ffaf5e 79.91%,#ff934d 84.88%,#ff743c 89.85%,#ff4b26 94.82%,#ff2010 99.79%)"></div>
<div style="left:42px;top:640px;width:120px;height:3px;background:linear-gradient(90deg,#7510ff 0.38%,#6130fe 5.35%,#4c4ffc 10.32%,#3670f8 15.29%,#1f8ff4 20.26%,#08acee 25.23%,#0fc4e7 30.20%,#26d9de 35.17%,#3dead5 40.14%,#57f7c9 45.11%,#70febd 50.08%,#85ffb1 55.05%,#99fca6 60.03%,#b3f396 65.00%,#cce385 69.97%,#e8cc72 74.94%,#ffaf5e 79.91%,#ff934d 84.88%,#ff743c 89.85%,#ff4b26 94.82%,#ff2010 99.79%)"></div>
<div style="left:42px;top:643px;width:120px;height:3px;background:linear-gradient(90deg,#7510ff 0.38%,#6130fe 5.35%,#4c4ffc 10.32%,#3670f8 15.29%,#1f8ff4 20.26%,#08acee 25.23%,#0fc4e7 30.20%,#26d9de 35.17%,#3dead5 40.14%,#57f7c9 45.11%,#70febd 50.08%,#85ffb1 55.05%,#99fca6 60.03%,#b3f396 65.00%,#cce385 69.97%,#e8cc72 74.94%,#ffaf5e 79.91%,#ff934d 84.88%,#ff743c 89.85%,#ff4b26 94.82%,#ff2010 99.79%)"></div>
<div style="left:42px;top:646px;width:120px;height:3px;background:linear-gradient(90deg,#7510ff 0.38%,#6130fe 5.35%,#4c4ffc 10.32%,#3670f8 15.29%,#1f8ff4 20.26%,#08acee 25.23%,#0fc4e7 30.20%,#26d9de 35.17%,#3dead5 40.14%,#57f7c9 45.11%,#70febd 50.08%,#85ffb1 55.05%,#99fca6 60.03%,#b3f396 65.00%,#cce385 69.97%,#e8cc72 74.94%,#ffaf5e 79.91%,#ff934d 84.88%,#ff743c 89.85%,#ff4b26 94.82%,#ff2010 99.79%)"></div>
<div style="left:42px;top:649px;width:120px;height:3px;background:linear-gradient(90deg,#7510ff 0.38%,#6130fe 5.35%,#4c4ffc 10.32%,#3670f8 15.29%,#1f8ff4 20.26%,#08acee 25.23%,#0fc4e7 30.20%,#26d9de 35.17%,#3dead5 40.14%,#57f7c9 45.11%,#70febd 50.08%,#85ffb1 55.05%,#99fca6 60.03%,#b3f396 65.00%,#cce385 69.97%,#e8cc72 74.94%,#ffaf5e 79.91%,#ff934d 84.88%,#ff743c 89.85%,#ff4b26 94.82%,#ff2010 99.79%)"></div>
<div style="left:42px;top:652px;width:120px;height:3px;background:linear-gradient(90deg,#7510ff 0.38%,#6130fe 5.35%,#4c4ffc 10.32%,#3670f8 15.29%,#1f8ff4 20.26%,#08acee 25.23%,#0fc4e7 30.20%,#26d9de 35.17%,#3dead5 40.14%,#57f7c9 45.11%,#70febd 50.08%,#85ffb1 55.05%,#99fca6 60.03%,#b3f396 65.00%,#cce385 69.97%,#e8cc72 74.94%,#ffaf5e 79.91%,#ff934d 84.88%,#ff743c 89.85%,#ff4b26 94.82%,#ff2010 99.79%)"></div>
<div style="left:42px;top:655px;width:120px;height:3px;background:linear-gradient(90deg,#7510ff 0.38%,#6130fe 5.35%,#4c4ffc 10.32%,#3670f8 15.29%,#1f8ff4 20.26%,#08acee 25.23%,#0fc4e7 30.20%,#26d9de 35.17%,#3dead5 40.14%,#57f7c9 45.11%,#70febd 50.08%,#85ffb1 55.05%,#99fca6 60.03%,#b3f396 65.00%,#cce385 69.97%,#e8cc72 74.94%,#ffaf5e 79.91%,#ff934d 84.88%,#ff743c 89.85%,#ff4b26 94.82%,#ff2010 99.79%)"></div>
<div style="left:42px;top:658px;width:120px;height:3px;background:linear-gradient(90deg,#7510ff 0.38%,#6130fe 5.35%,#4d4ffc 10.32%,#3670f8 15.29%,#1f8ff4 20.26%,#08acee 25.23%,#0fc4e7 30.20%,#26d9de 35.17%,#3dead5 40.14%,#57f7c9 45.11%,#70febd 50.08%,#85ffb1 55.05%,#99fca6 60.03%,#b2f396 65.00%,#cce385 69.97%,#e8cc72 74.94%,#ffaf5e 79.91%,#ff934d 84.88%,#ff743c 89.85%,#ff4b26 94.82%,#ff2010 99.79%)"></div>
<div style="left:42px;top:661px;width:120px;height:3px;background:linear-gradient(90deg,#7510ff 0.38%,#6130fe 5.35%,#4c4ffc 10.32%,#3670f8 15.29%,#1f8ff4 20.26%,#08acee 25.23%,#0fc4e7 30.20%,#26d9de 35.17%,#3dead5 40.14%,#57f7c9 45.11%,#70febd 50.08%,#85ffb1 55.05%,#99fca6 60.03%,#b3f396 65.00%,#cce385 69.97%,#e8cc72 74.94%,#ffaf5e 79.91%,#ff934d 84.88%,#ff743c 89.85%,#ff4b26 94.82%,#ff2010 99.79%)"></div>
<div style="left:42px;top:664px;width:120px;height:2px;background:linear-gradient(90deg,#7510ff 0.38%,#6130fe 5.35%,#4c4ffc 10.32%,#3670f8 15.29%,#1f8ff4 20.26%,#08acee 25.23%,#0fc4e7 30.20%,#26d9de 35.17%,#3dead5 40.14%,#57f7c9 45.11%,#70febd 50.08%,#85ffb1 55.05%,#99fca6 60.03%,#b3f396 65.00%,#cce385 69.97%,#e8cc72 74.94%,#ffaf5e 79.91%,#ff934d 84.88%,#ff743c 89.85%,#ff4b26 94.82%,#ff2010 99.79%)"></div>
<div style="left:164.50px;top:553.90px;width:5.90px;height:111.25px;background:linear-gradient(180deg,#ff0000 0%,#ff2814 5%,#ff4f28 10%,#ff743c 15%,#ff964f 20%,#ffb462 25%,#e5ce74 30%,#cce385 35%,#b2f396 40%,#99fca6 45%,#80ffb4 50%,#66fcc2 55%,#4df3ce 60%,#33e3d9 65%,#1acee3 70%,#00b4ec 75%,#1a96f3 80%,#3374f8 85%,#4d4ffc 90%,#6628fe 95%,#8000ff 100%)"></div>
<div style="left:272px;top:553px;width:120px;height:3px;background:linear-gradient(90deg,#75feba 0.29%,#75feba 5.26%,#75feba 10.23%,#75feba 15.20%,#75feba 20.18%,#75feba 25.15%,#75feba 30.12%,#75feba 35.09%,#75feba 40.06%,#75feba 45.03%,#75feba 50.00%,#75feba 54.97%,#75feba 59.94%,#75feba 64.91%,#75feba 69.88%,#75feba 74.85%,#75feba 79.83%,#75feba 84.80%,#75feba 89.77%,#75feba 94.74%,#75feba 99.71%)"></div>
<div style="left:272px;top:556px;width:120px;height:3px;background:linear-gradient(90deg,#75feba 0.29%,#75feba 5.26%,#75feba 10.23%,#75feba 15.20%,#75feba 20.18%,#75feba 25.15%,#75feba 30.12%,#75feba 35.09%,#75feba 40.06%,#75feba 45.03%,#75feba 50.00%,#75feba 54.97%,#75feba 59.94%,#75feba 64.91%,#75feba 69.88%,#75feba 74.85%,#75feba 79.83%,#75feba 84.80%,#75feba 89.77%,#75feba 94.74%,#75feba 99.71%)"></div>
<div style="left:272px;top:559px;width:120px;height:3px;background:linear-gradient(90deg,#75feba 0.29%,#75feba 5.26%,#75feba 10.23%,#75feba 15.20%,#75feba 20.18%,#75feba 25.15%,#75feba 30.12%,#75feba 35.09%,#75feba 40.06%,#75feba 45.03%,#75feba 50.00%,#75feba 54.97%,#75feba 59.94%,#75feba 64.91%,#75feba 69.88%,#75feba 74.85%,#75feba 79.83%,#75feba 84.80%,#75feba 89.77%,#75feba 94.74%,#75feba 99.71%)"></div>
<div style="left:272px;top:562px;width:120px;height:3px;background:linear-gradient(90deg,#75feba 0.29%,#75feba 5.26%,#75feba 10.23%,#75feba 15.20%,#75feba 20.18%,#75feba 25.15%,#75feba 30.12%,#75feba 35.09%,#75feba 40.06%,#75feba 45.03%,#75feba 50.00%,#75feba 54.97%,#75feba 59.94%,#75feba 64.91%,#75feba 69.88%,#75feba 74.85%,#75feba 79.83%,#75feba 84.80%,#75feba 89.77%,#75feba 94.74%,#75feba 99.71%)"></div>
<div style="left:272px;top:565px;width:120px;height:3px;background:linear-gradient(90deg,#75feba 0.29%,#75feba 5.26%,#75feba 10.23%,#75feba 15.20%,#75feba 20.18%,#75feba 25.15%,#75feba 30.12%,#75feba 35.09%,#75feba 40.06%,#75feba 45.03%,#75feba 50.00%,#75feba 54.97%,#75feba 59.94%,#75feba 64.91%,#75feba 69.88%,#75feba 74.85%,#75feba 79.83%,#75feba 84.80%,#75feba 89.77%,#75feba 94.74%,#75feba 99.71%)"></div>
<div style="left:272px;top:568px;width:120px;height:3px;background:linear-gradient(90deg,#75ffba 0.29%,#75ffba 5.26%,#75ffba 10.23%,#75ffba 15.20%,#75ffba 20.18%,#75ffba 25.15%,#75ffba 30.12%,#75feba 35.09%,#75feba 40.06%,#75feba 45.03%,#75feba 50.00%,#75feba 54.97%,#75feba 59.94%,#75feba 64.91%,#75feba 69.88%,#75feba 74.85%,#75feba 79.83%,#75feba 84.80%,#75feba 89.77%,#75feba 94.74%,#75feba 99.71%)"></div>
<div style="left:272px;top:571px;width:120px;height:3px;background:linear-gradient(90deg,#88ffb0 0.29%,#85ffb1 5.26%,#83ffb2 10.23%,#81ffb4 15.20%,#7fffb5 20.18%,#7cffb6 25.15%,#7affb7 30.12%,#78ffb9 35.09%,#75feba 40.06%,#75feba 45.03%,#75feba 50.00%,#73febb 54.97%,#71febc 59.94%,#6efebe 64.91%,#6cfdbf 69.88%,#6afdc0 74.85%,#67fcc1 79.83%,#65fcc2 84.80%,#63fbc4 89.77%,#60fac5 94.74%,#5efac6 99.71%)"></div>
<div style="left:272px;top:574px;width:120px;height:3px;background:linear-gradient(90deg,#a2f9a0 0.29%,#9ffaa2 5.26%,#9bfba5 10.23%,#95fda8 15.20%,#8efeac 20.18%,#89ffaf 25.15%,#84ffb2 30.12%,#7fffb4 35.09%,#7affb7 40.06%,#78ffb9 45.03%,#75feba 50.00%,#70febd 54.97%,#6bfdbf 59.94%,#66fcc2 64.91%,#61fbc4 69.88%,#5bf9c7 74.85%,#55f6ca 79.83%,#4ff3cd 84.80%,#48f0d0 89.77%,#44eed2 94.74%,#41ecd4 99.71%)"></div>
<div style="left:272px;top:577px;width:120px;height:3px;background:linear-gradient(90deg,#bfec8e 0.29%,#b9ef92 5.26%,#b4f295 10.23%,#aaf79c 15.20%,#9ffaa2 20.18%,#97fca7 25.15%,#8ffeab 30.12%,#88ffb0 35.09%,#80ffb4 40.06%,#7bffb7 45.03%,#75feba 50.00%,#6efdbe 54.97%,#66fcc2 59.94%,#5efac6 64.91%,#56f7ca 69.88%,#4cf2cf 74.85%,#41ecd3 79.83%,#37e6d8 84.80%,#2ddedc 89.77%,#27dade 94.74%,#22d6e0 99.71%)"></div>
<div style="left:272px;top:580px;width:120px;height:3px;background:linear-gradient(90deg,#ebc970 0.29%,#e1d377 5.26%,#d6db7e 10.23%,#c7e789 15.20%,#b7f093 20.18%,#aaf69b 25.15%,#9dfba3 30.12%,#92fdaa 35.09%,#87ffb0 40.06%,#7effb5 45.03%,#75feba 50.00%,#6afdc0 54.97%,#5ffac6 59.94%,#52f5cc 64.91%,#45efd2 69.88%,#35e5d9 74.85%,#26d9df 79.83%,#1acee3 84.80%,#0ec3e7 89.77%,#07bcea 94.74%,#00b4ec 99.71%)"></div>
<div style="left:272px;top:583px;width:120px;height:3px;background:linear-gradient(90deg,#ffa457 0.29%,#ffb361 5.26%,#f3c16a 10.23%,#e1d277 15.20%,#d0e183 20.18%,#bfec8e 25.15%,#aef599 30.12%,#9ffaa2 35.09%,#90feab 40.06%,#83ffb2 45.03%,#77ffb9 50.00%,#69fcc1 54.97%,#5af8c8 59.94%,#49f1d0 64.91%,#37e6d8 69.88%,#24d7df 74.85%,#10c5e6 79.83%,#03b7eb 84.80%,#0ba8ef 89.77%,#139ef1 94.74%,#1c93f3 99.71%)"></div>
<div style="left:272px;top:586px;width:120px;height:3px;background:linear-gradient(90deg,#ff8545 0.29%,#ff954f 5.26%,#ffa558 10.23%,#faba65 15.20%,#e8cc72 20.18%,#d5dd7f 25.15%,#c1ea8c 30.12%,#aef599 35.09%,#9bfba5 40.06%,#8afeae 45.03%,#7affb8 50.00%,#69fcc1 54.97%,#58f7c9 59.94%,#42edd3 64.91%,#2cdedc 69.88%,#16cbe4 74.85%,#00b4ec 79.83%,#0fa3f0 84.80%,#1e90f4 89.77%,#2883f6 94.74%,#3276f8 99.71%)"></div>
<div style="left:272px;top:589px;width:120px;height:3px;background:linear-gradient(90deg,#ff6232 0.29%,#ff773d 5.26%,#ff8b48 10.23%,#ffa356 15.20%,#fbb864 20.18%,#e4d075 25.15%,#cde385 30.12%,#b7f093 35.09%,#a2f9a0 40.06%,#8ffeab 45.03%,#7cffb6 50.00%,#6afdc0 54.97%,#57f7c9 59.94%,#3febd4 64.91%,#27dade 69.88%,#0fc4e7 74.85%,#09aaee 79.83%,#1b94f3 84.80%,#2d7cf7 89.77%,#396cf9 94.74%,#445cfb 99.71%)"></div>
<div style="left:272px;top:592px;width:120px;height:3px;background:linear-gradient(90deg,#ff3d1f 0.29%,#ff572c 5.26%,#ff713a 10.23%,#ff8c49 15.20%,#ffa658 20.18%,#f0c46c 25.15%,#d5dc7f 30.12%,#beec8e 35.09%,#a7f79d 40.06%,#93fda9 45.03%,#7fffb5 50.00%,#6bfdbf 54.97%,#57f7c9 59.94%,#3dead5 64.91%,#24d8df 69.88%,#0bc0e8 74.85%,#0ea4f0 79.83%,#2587f5 84.80%,#3b68f9 89.77%,#4856fb 94.74%,#5443fd 99.71%)"></div>
<div style="left:272px;top:595px;width:120px;height:3px;background:linear-gradient(90deg,#ff3018 0.29%,#ff4b26 5.26%,#ff6534 10.23%,#ff8243 15.20%,#ff9c53 20.18%,#f6be68 25.15%,#d9d97d 30.12%,#c1ea8c 35.09%,#aaf69b 40.06%,#95fda8 45.03%,#80ffb4 50.00%,#6afdc0 54.97%,#55f6ca 59.94%,#3ce9d6 64.91%,#22d6e0 69.88%,#09bee9 74.85%,#11a1f0 79.83%,#2883f6 84.80%,#3e63fa 89.77%,#4e4cfc 94.74%,#5e33fe 99.71%)"></div>
<div style="left:272px;top:598px;width:120px;height:3px;background:linear-gradient(90deg,#ff2613 0.29%,#ff4221 5.26%,#ff5c2f 10.23%,#ff793f 15.20%,#ff944e 20.18%,#fbb965 25.15%,#dcd77a 30.12%,#c3e98b 35.09%,#abf69b 40.06%,#95fda8 45.03%,#80ffb4 50.00%,#6afdc0 54.97%,#54f6cb 59.94%,#3ae8d6 64.91%,#21d5e1 69.88%,#07bce9 74.85%,#129ff1 79.83%,#2981f6 84.80%,#4061fa 89.77%,#5444fd 94.74%,#6825fe 99.71%)"></div>
<div style="left:272px;top:601px;width:120px;height:3px;background:linear-gradient(90deg,#ff1d0e 0.29%,#ff381c 5.26%,#ff532a 10.23%,#ff713a 15.20%,#ff8d49 20.18%,#ffb461 25.15%,#dfd478 30.12%,#c6e789 35.09%,#adf59a 40.06%,#96fda7 45.03%,#80ffb4 50.00%,#69fdc0 54.97%,#52f5cc 59.94%,#39e7d7 64.91%,#1fd4e1 69.88%,#06bbea 74.85%,#149df1 79.83%,#2b7ff6 84.80%,#425ffa 89.77%,#593cfd 94.74%,#7117ff 99.71%)"></div>
<div style="left:272px;top:604px;width:120px;height:3px;background:linear-gradient(90deg,#ff180c 0.29%,#ff341a 5.26%,#ff4f28 10.23%,#ff6d38 15.20%,#ff8947 20.18%,#ffb160 25.15%,#e0d377 30.12%,#c7e789 35.09%,#adf599 40.06%,#96fca7 45.03%,#80ffb4 50.00%,#69fcc1 54.97%,#52f5cc 59.94%,#38e7d7 64.91%,#1fd3e1 69.88%,#05baea 74.85%,#149cf1 79.83%,#2b7ef6 84.80%,#425efa 89.77%,#5c38fd 94.74%,#7510ff 99.71%)"></div>
<div style="left:272px;top:607px;width:120px;height:3px;background:linear-gradient(90deg,#ff170c 0.29%,#ff331a 5.26%,#ff4f28 10.23%,#ff6d38 15.20%,#ff8947 20.18%,#ffb160 25.15%,#e0d377 30.12%,#c7e789 35.09%,#adf599 40.06%,#96fca7 45.03%,#80ffb4 50.00%,#69fcc1 54.97%,#52f5cc 59.94%,#38e7d7 64.91%,#1fd3e1 69.88%,#05baea 74.85%,#149cf1 79.83%,#2b7ef6 84.80%,#425efa 89.77%,#5c37fd 94.74%,#760fff 99.71%)"></div>
<div style="left:272px;top:610px;width:120px;height:3px;background:linear-gradient(90deg,#ff170c 0.29%,#ff331a 5.26%,#ff4f28 10.23%,#ff6d38 15.20%,#ff8947 20.18%,#ffb160 25.15%,#e0d377 30.12%,#c7e789 35.09%,#adf599 40.06%,#96fca7 45.03%,#80ffb4 50.00%,#69fcc1 54.97%,#52f5cc 59.94%,#38e7d7 64.91%,#1fd3e1 69.88%,#05baea 74.85%,#149cf1 79.83%,#2b7ef6 84.80%,#425efa 89.77%,#5c37fd 94.74%,#760fff 99.71%)"></div>
<div style="left:272px;top:613px;width:120px;height:3px;background:linear-gradient(90deg,#ff170b 0.29%,#ff331a 5.26%,#ff4f28 10.23%,#ff6d38 15.20%,#ff8947 20.18%,#ffb160 25.15%,#e0d377 30.12%,#c7e789 35.09%,#adf599 40.06%,#96fca7 45.03%,#80ffb4 50.00%,#69fcc1 54.97%,#52f5cc 59.94%,#38e7d7 64.91%,#1fd3e1 69.88%,#05baea 74.85%,#149cf1 79.83%,#2b7ef6 84.80%,#425efa 89.77%,#5c37fd 94.74%,#760fff 99.71%)"></div>
<div style="left:272px;top:616px;width:120px;height:3px;background:linear-gradient(90deg,#ff160b 0.29%,#ff331a 5.26%,#ff4f28 10.23%,#ff6d38 15.20%,#ff8947 20.18%,#ffb160 25.15%,#e0d377 30.12%,#c7e789 35.09%,#adf599 40.06%,#96fca7 45.03%,#80ffb4 50.00%,#69fcc1 54.97%,#52f5cc 59.94%,#38e7d7 64.91%,#1fd3e1 69.88%,#05baea 74.85%,#149cf1 79.83%,#2b7ef6 84.80%,#425efa 89.77%,#5c37fe 94.74%,#760eff 99.71%)"></div>
<div style="left:272px;top:619px;width:120px;height:3px;background:linear-gradient(90deg,#ff160b 0.29%,#ff3319 5.26%,#ff4f28 10.23%,#ff6d38 15.20%,#ff8947 20.18%,#ffb160 25.15%,#e0d377 30.12%,#c7e789 35.09%,#adf599 40.06%,#96fca7 45.03%,#80ffb4 50.00%,#69fcc1 54.97%,#52f5cc 59.94%,#38e7d7 64.91%,#1fd3e1 69.88%,#05baea 74.85%,#149cf1 79.83%,#2b7ef6 84.80%,#425efa 89.77%,#5c37fe 94.74%,#770eff 99.71%)"></div>
<div style="left:272px;top:622px;width:120px;height:3px;background:linear-gradient(90deg,#ff150b 0.29%,#ff3219 5.26%,#ff4f28 10.23%,#ff6d38 15.20%,#ff8947 20.18%,#ffb160 25.15%,#e0d377 30.12%,#c7e789 35.09%,#adf599 40.06%,#96fca7 45.03%,#80ffb4 50.00%,#69fcc1 54.97%,#52f5cc 59.94%,#38e7d7 64.91%,#1fd3e1 69.88%,#05baea 74.85%,#149cf1 79.83%,#2b7ef6 84.80%,#425efa 89.77%,#5d36fe 94.74%,#770dff 99.71%)"></div>
<div style="left:272px;top:625px;width:120px;height:3px;background:linear-gradient(90deg,#ff150b 0.29%,#ff3219 5.26%,#ff4f28 10.23%,#ff6d38 15.20%,#ff8947 20.18%,#ffb160 25.15%,#e0d377 30.12%,#c7e789 35.09%,#adf599 40.06%,#96fca7 45.03%,#80ffb4 50.00%,#69fcc1 54.97%,#52f5cc 59.94%,#38e7d7 64.91%,#1fd3e1 69.88%,#05baea 74.85%,#149cf1 79.83%,#2b7ef6 84.80%,#425efa 89.77%,#5d36fe 94.74%,#770dff 99.71%)"></div>
<div style="left:272px;top:628px;width:120px;height:3px;background:linear-gradient(90deg,#ff150a 0.29%,#ff3219 5.26%,#ff4f28 10.23%,#ff6d38 15.20%,#ff8947 20.18%,#ffb160 25.15%,#e0d377 30.12%,#c7e789 35.09%,#adf599 40.06%,#96fca7 45.03%,#80ffb4 50.00%,#69fcc1 54.97%,#52f5cc 59.94%,#38e7d7 64.91%,#1fd3e1 69.88%,#05baea 74.85%,#149cf1 79.83%,#2b7ef6 84.80%,#425efa 89.77%,#5d36fe 94.74%,#770dff 99.71%)"></div>
<div style="left:272px;top:631px;width:120px;height:3px;background:linear-gradient(90deg,#ff140a 0.29%,#ff3219 5.26%,#ff4f28 10.23%,#ff6d38 15.20%,#ff8947 20.18%,#ffb160 25.15%,#e0d377 30.12%,#c7e789 35.09%,#adf599 40.06%,#96fca7 45.03%,#80ffb4 50.00%,#69fcc1 54.97%,#52f5cc 59.94%,#38e7d7 64.91%,#1fd3e1 69.88%,#05baea 74.85%,#149cf1 79.83%,#2b7ef6 84.80%,#425efa 89.77%,#5d36fe 94.74%,#780cff 99.71%)"></div>
<div style="left:272px;top:634px;width:120px;height:3px;background:linear-gradient(90deg,#ff140a 0.29%,#ff3219 5.26%,#ff4f28 10.23%,#ff6d38 15.20%,#ff8947 20.18%,#ffb160 25.15%,#e0d377 30.12%,#c7e789 35.09%,#adf599 40.06%,#96fca7 45.03%,#80ffb4 50.00%,#69fcc1 54.97%,#52f5cc 59.94%,#38e7d7 64.91%,#1fd3e1 69.88%,#05baea 74.85%,#149cf1 79.83%,#2b7ef6 84.80%,#425efa 89.77%,#5d36fe 94.74%,#780cff 99.71%)"></div>
<div style="left:272px;top:637px;width:120px;height:3px;background:linear-gradient(90deg,#ff130a 0.29%,#ff3119 5.26%,#ff4f28 10.23%,#ff6d38 15.20%,#ff8947 20.18%,#ffb160 25.15%,#e0d377 30.12%,#c7e789 35.09%,#adf599 40.06%,#96fca7 45.03%,#80ffb4 50.00%,#69fcc1 54.97%,#52f5cc 59.94%,#38e7d7 64.91%,#1fd3e1 69.88%,#05baea 74.85%,#149cf1 79.83%,#2b7ef6 84.80%,#425efa 89.77%,#5d35fe 94.74%,#780bff 99.71%)"></div>
<div style="left:272px;top:640px;width:120px;height:3px;background:linear-gradient(90deg,#ff130a 0.29%,#ff3119 5.26%,#ff4f28 10.23%,#ff6d38 15.20%,#ff8947 20.18%,#ffb160 25.15%,#e0d377 30.12%,#c7e789 35.09%,#adf599 40.06%,#96fca7 45.03%,#80ffb4 50.00%,#69fcc1 54.97%,#52f5cc 59.94%,#38e7d7 64.91%,#1fd3e1 69.88%,#05baea 74.85%,#149cf1 79.83%,#2b7ef6 84.80%,#425efa 89.77%,#5d35fe 94.74%,#780bff 99.71%)"></div>
<div style="left:272px;top:643px;width:120px;height:3px;background:linear-gradient(90deg,#ff1309 0.29%,#ff3119 5.26%,#ff4f28 10.23%,#ff6d38 15.20%,#ff8947 20.18%,#ffb160 25.15%,#e0d377 30.12%,#c7e789 35.09%,#adf599 40.06%,#96fca7 45.03%,#80ffb4 50.00%,#69fcc1 54.97%,#52f5cc 59.94%,#38e7d7 64.91%,#1fd3e1 69.88%,#05baea 74.85%,#149cf1 79.83%,#2b7ef6 84.80%,#425efa 89.77%,#5d35fe 94.74%,#790bff 99.71%)"></div>
<div style="left:272px;top:646px;width:120px;height:3px;background:linear-gradient(90deg,#ff1209 0.29%,#ff3119 5.26%,#ff4f28 10.23%,#ff6d38 15.20%,#ff8947 20.18%,#ffb160 25.15%,#e0d377 30.12%,#c7e789 35.09%,#adf599 40.06%,#96fca7 45.03%,#80ffb4 50.00%,#69fcc1 54.97%,#52f5cc 59.94%,#38e7d7 64.91%,#1fd3e1 69.88%,#05baea 74.85%,#149cf1 79.83%,#2b7ef6 84.80%,#425efa 89.77%,#5e35fe 94.74%,#790aff 99.71%)"></div>
<div style="left:272px;top:649px;width:120px;height:3px;background:linear-gradient(90deg,#ff1209 0.29%,#ff3118 5.26%,#ff4f28 10.23%,#ff6d38 15.20%,#ff8947 20.18%,#ffb160 25.15%,#e0d377 30.12%,#c7e789 35.09%,#adf599 40.06%,#96fca7 45.03%,#80ffb4 50.00%,#69fcc1 54.97%,#52f5cc 59.94%,#38e7d7 64.91%,#1fd3e1 69.88%,#05baea 74.85%,#149cf1 79.83%,#2b7ef6 84.80%,#425efa 89.77%,#5e35fe 94.74%,#790aff 99.71%)"></div>
<div style="left:272px;top:652px;width:120px;height:3px;background:linear-gradient(90deg,#ff1209 0.29%,#ff3118 5.26%,#ff4f28 10.23%,#ff6d38 15.20%,#ff8947 20.18%,#ffb160 25.15%,#e0d377 30.12%,#c7e789 35.09%,#adf599 40.06%,#96fca7 45.03%,#80ffb4 50.00%,#69fcc1 54.97%,#52f5cc 59.94%,#38e7d7 64.91%,#1fd3e1 69.88%,#05baea 74.85%,#149cf1 79.83%,#2b7ef6 84.80%,#425efa 89.77%,#5e34fe 94.74%,#790aff 99.71%)"></div>
<div style="left:272px;top:655px;width:120px;height:3px;background:linear-gradient(90deg,#ff1109 0.29%,#ff3018 5.26%,#ff4f28 10.23%,#ff6d38 15.20%,#ff8947 20.18%,#ffb160 25.15%,#e0d377 30.12%,#c7e789 35.09%,#adf599 40.06%,#96fca7 45.03%,#80ffb4 50.00%,#69fcc1 54.97%,#52f5cc 59.94%,#38e7d7 64.91%,#1fd3e1 69.88%,#05baea 74.85%,#149cf1 79.83%,#2b7ef6 84.80%,#425efa 89.77%,#5e34fe 94.74%,#7a09ff 99.71%)"></div>
<div style="left:272px;top:658px;width:120px;height:3px;background:linear-gradient(90deg,#ff1108 0.29%,#ff3018 5.26%,#ff4f28 10.23%,#ff6d38 15.20%,#ff8947 20.18%,#ffb160 25.15%,#e0d377 30.12%,#c7e789 35.09%,#adf599 40.06%,#96fca7 45.03%,#80ffb4 50.00%,#69fcc1 54.97%,#52f5cc 59.94%,#38e7d7 64.91%,#1fd3e1 69.88%,#05baea 74.85%,#149cf1 79.83%,#2b7ef6 84.80%,#425efa 89.77%,#5e34fe 94.74%,#7a09ff 99.71%)"></div>
<div style="left:272px;top:661px;width:120px;height:3px;background:linear-gradient(90deg,#ff1008 0.29%,#ff3018 5.26%,#ff4f28 10.23%,#ff6d38 15.20%,#ff8947 20.18%,#ffb160 25.15%,#e0d377 30.12%,#c7e789 35.09%,#adf599 40.06%,#96fca7 45.03%,#80ffb4 50.00%,#69fcc1 54.97%,#52f5cc 59.94%,#38e7d7 64.91%,#1fd3e1 69.88%,#05baea 74.85%,#149cf1 79.83%,#2b7ef6 84.80%,#425efa 89.77%,#5e34fe 94.74%,#7a08ff 99.71%)"></div>
<div style="left:272px;top:664px;width:120px;height:2px;background:linear-gradient(90deg,#ff1008 0.29%,#ff3018 5.26%,#ff4f28 10.23%,#ff6d38 15.20%,#ff8947 20.18%,#ffb160 25.15%,#e0d377 30.12%,#c7e789 35.09%,#adf599 40.06%,#96fca7 45.03%,#80ffb4 50.00%,#69fcc1 54.97%,#52f5cc 59.94%,#38e7d7 64.91%,#1fd3e1 69.88%,#05baea 74.85%,#149cf1 79.83%,#2b7ef6 84.80%,#425efa 89.77%,#5e34fe 94.74%,#7a08ff 99.71%)"></div>
<div style="left:394.40px;top:553.90px;width:5.90px;height:111.25px;background:linear-gradient(180deg,#ff0000 0%,#ff2814 5%,#ff4f28 10%,#ff743c 15%,#ff964f 20%,#ffb462 25%,#e5ce74 30%,#cce385 35%,#b2f396 40%,#99fca6 45%,#80ffb4 50%,#66fcc2 55%,#4df3ce 60%,#33e3d9 65%,#1acee3 70%,#00b4ec 75%,#1a96f3 80%,#3374f8 85%,#4d4ffc 90%,#6628fe 95%,#8000ff 100%)"></div>
<div style="left:501px;top:553px;width:120px;height:3px;background:linear-gradient(90deg,#6f1aff 0.42%,#5345fd 5.39%,#376ef9 10.36%,#2686f5 15.33%,#149df1 20.30%,#05afed 25.27%,#0bc0e8 30.24%,#1fd3e1 35.21%,#33e3d9 40.18%,#48f0d1 45.15%,#5cf9c7 50.12%,#6bfdbf 55.10%,#7bffb7 60.07%,#88ffb0 65.04%,#94fda8 70.01%,#b3f296 74.98%,#d1df82 79.95%,#ecc86f 84.92%,#ffab5c 89.89%,#ff914c 94.86%,#ff743b 99.83%)"></div>
<div style="left:501px;top:556px;width:120px;height:3px;background:linear-gradient(90deg,#6824fe 0.42%,#4e4cfc 5.39%,#3472f8 10.36%,#238af5 15.33%,#129ff1 20.30%,#03b1ec 25.27%,#0cc1e8 30.24%,#20d4e1 35.21%,#35e4d9 40.18%,#49f1d0 45.15%,#5df9c6 50.12%,#6dfdbe 55.10%,#7cffb6 60.07%,#8afeaf 65.04%,#97fca7 70.01%,#b5f194 74.98%,#d3de81 79.95%,#edc76e 84.92%,#ffab5b 89.89%,#ff904b 94.86%,#ff733b 99.83%)"></div>
<div style="left:501px;top:559px;width:120px;height:3px;background:linear-gradient(90deg,#622efe 0.42%,#4954fb 5.39%,#3177f7 10.36%,#208df4 15.33%,#10a2f0 20.30%,#01b3ec 25.27%,#0ec3e7 30.24%,#22d6e0 35.21%,#36e5d8 40.18%,#4af1cf 45.15%,#5ffac6 50.12%,#6efebe 55.10%,#7effb5 60.07%,#8cfead 65.04%,#9afca5 70.01%,#b7f093 74.98%,#d4dd80 79.95%,#eec66e 84.92%,#ffaa5b 89.89%,#ff8f4b 94.86%,#ff723b 99.83%)"></div>
<div style="left:501px;top:562px;width:120px;height:3px;background:linear-gradient(90deg,#5c38fd 0.42%,#445bfb 5.39%,#2d7cf7 10.36%,#1d91f3 15.33%,#0ea5ef 20.30%,#01b6eb 25.27%,#10c5e7 30.24%,#23d7e0 35.21%,#37e6d8 40.18%,#4cf2cf 45.15%,#60fac5 50.12%,#70febd 55.10%,#80ffb4 60.07%,#8efeac 65.04%,#9cfba4 70.01%,#b9ef92 74.98%,#d5dc7f 79.95%,#efc56d 84.92%,#ffa95a 89.89%,#ff8f4b 94.86%,#ff723a 99.83%)"></div>
<div style="left:501px;top:565px;width:120px;height:3px;background:linear-gradient(90deg,#5542fd 0.42%,#3f62fa 5.39%,#2a81f6 10.36%,#1b95f3 15.33%,#0ba7ef 20.30%,#03b8eb 25.27%,#11c7e6 30.24%,#25d8df 35.21%,#38e7d7 40.18%,#4df3ce 45.15%,#61fbc4 50.12%,#71febc 55.10%,#82ffb3 60.07%,#90feab 65.04%,#9ffaa2 70.01%,#bbee91 74.98%,#d7db7e 79.95%,#f0c46c 84.92%,#ffa85a 89.89%,#ff8e4a 94.86%,#ff713a 99.83%)"></div>
<div style="left:501px;top:568px;width:120px;height:3px;background:linear-gradient(90deg,#4f4cfc 0.42%,#3a69f9 5.39%,#2685f5 10.36%,#1898f2 15.33%,#09aaee 20.30%,#05baea 25.27%,#13c8e5 30.24%,#26dade 35.21%,#3ae8d7 40.18%,#4ef3ce 45.15%,#63fbc4 50.12%,#73febb 55.10%,#83ffb2 60.07%,#92fdaa 65.04%,#a1f9a1 70.01%,#bded8f 74.98%,#d8da7d 79.95%,#f1c36c 84.92%,#ffa85a 89.89%,#ff8d4a 94.86%,#ff713a 99.83%)"></div>
<div style="left:501px;top:571px;width:120px;height:3px;background:linear-gradient(90deg,#4855fb 0.42%,#3670f8 5.39%,#238af5 10.36%,#159cf1 15.33%,#07acee 20.30%,#07bce9 25.27%,#15cae5 30.24%,#28dbde 35.21%,#3be9d6 40.18%,#4ff4cd 45.15%,#64fbc3 50.12%,#74feba 55.10%,#85ffb1 60.07%,#94fda8 65.04%,#a4f99f 70.01%,#beec8e 74.98%,#d9d97c 79.95%,#f2c26b 84.92%,#ffa759 89.89%,#ff8d49 94.86%,#ff7039 99.83%)"></div>
<div style="left:501px;top:574px;width:120px;height:3px;background:linear-gradient(90deg,#425ffa 0.42%,#3177f8 5.39%,#1f8ef4 10.36%,#129ff1 15.33%,#05afed 20.30%,#09bee9 25.27%,#17cce4 30.24%,#29dcdd 35.21%,#3ce9d6 40.18%,#51f4cc 45.15%,#65fcc2 50.12%,#76ffba 55.10%,#87ffb0 60.07%,#97fca7 65.04%,#a6f89d 70.01%,#c0eb8d 74.98%,#dad87b 79.95%,#f3c16a 84.92%,#ffa659 89.89%,#ff8c49 94.86%,#ff6f39 99.83%)"></div>
<div style="left:501px;top:577px;width:120px;height:3px;background:linear-gradient(90deg,#3b68f9 0.42%,#2c7ef7 5.39%,#1c93f3 10.36%,#0fa2f0 15.33%,#03b1ec 20.30%,#0bc0e8 25.27%,#18cde4 30.24%,#2bdddd 35.21%,#3eead5 40.18%,#52f5cc 45.15%,#66fcc2 50.12%,#77ffb9 55.10%,#88ffaf 60.07%,#99fca6 65.04%,#a9f79c 70.01%,#c2ea8c 74.98%,#dcd77b 79.95%,#f4c06a 84.92%,#ffa558 89.89%,#ff8b49 94.86%,#ff6f39 99.83%)"></div>
<div style="left:501px;top:580px;width:120px;height:3px;background:linear-gradient(90deg,#3571f8 0.42%,#2785f6 5.39%,#1897f2 10.36%,#0da6ef 15.33%,#01b4ec 20.30%,#0dc2e8 25.27%,#1acfe3 30.24%,#2cdedc 35.21%,#3febd4 40.18%,#53f6cb 45.15%,#68fcc1 50.12%,#79ffb8 55.10%,#8afeae 60.07%,#9bfba4 65.04%,#acf69a 70.01%,#c4e88a 74.98%,#ddd67a 79.95%,#f5bf69 84.92%,#ffa558 89.89%,#ff8b48 94.86%,#ff6e39 99.83%)"></div>
<div style="left:501px;top:583px;width:120px;height:3px;background:linear-gradient(90deg,#2e7af7 0.42%,#228bf4 5.39%,#159cf1 10.36%,#0aa9ee 15.33%,#02b6eb 20.30%,#0fc4e7 25.27%,#1cd0e2 30.24%,#2edfdb 35.21%,#40ecd4 40.18%,#55f6cb 45.15%,#69fdc0 50.12%,#7affb7 55.10%,#8cfead 60.07%,#9dfba3 65.04%,#aef599 70.01%,#c6e789 74.98%,#ded579 79.95%,#f6be68 84.92%,#ffa457 89.89%,#ff8a48 94.86%,#ff6e38 99.83%)"></div>
<div style="left:501px;top:586px;width:120px;height:3px;background:linear-gradient(90deg,#2883f6 0.42%,#1d92f3 5.39%,#12a0f1 10.36%,#07acee 15.33%,#04b8ea 20.30%,#11c6e6 25.27%,#1dd2e2 30.24%,#2fe1db 35.21%,#41edd3 40.18%,#56f7ca 45.15%,#6afdc0 50.12%,#7cffb6 55.10%,#8efeac 60.07%,#9ffaa2 65.04%,#b1f397 70.01%,#c8e688 74.98%,#e0d478 79.95%,#f7bd68 84.92%,#ffa357 89.89%,#ff8947 94.86%,#ff6d38 99.83%)"></div>
<div style="left:501px;top:589px;width:120px;height:3px;background:linear-gradient(90deg,#228bf4 0.42%,#1799f2 5.39%,#0da5ef 10.36%,#02b2ec 15.33%,#08bde9 20.30%,#15cae5 25.27%,#22d6e0 30.24%,#34e4d9 35.21%,#45efd2 40.18%,#59f8c8 45.15%,#6dfdbe 50.12%,#7fffb5 55.10%,#91feab 60.07%,#a2f9a0 65.04%,#b4f295 70.01%,#cbe486 74.98%,#e2d176 79.95%,#f9bb66 84.92%,#ffa156 89.89%,#ff8847 94.86%,#ff6c37 99.83%)"></div>
<div style="left:501px;top:592px;width:120px;height:3px;background:linear-gradient(90deg,#1c93f3 0.42%,#11a1f0 5.39%,#06aded 10.36%,#06baea 15.33%,#11c6e6 20.30%,#1fd3e1 25.27%,#2ddfdc 30.24%,#3eead5 35.21%,#4ff3cd 40.18%,#61fbc4 45.15%,#74feba 50.12%,#85ffb1 55.10%,#96fda7 60.07%,#a8f79d 65.04%,#baef91 70.01%,#d1e082 74.98%,#e8cc72 79.95%,#fdb763 84.92%,#ff9e53 89.89%,#ff8545 94.86%,#ff6a36 99.83%)"></div>
<div style="left:501px;top:595px;width:120px;height:3px;background:linear-gradient(90deg,#159bf2 0.42%,#0aa8ef 5.39%,#01b5eb 10.36%,#0ec3e7 15.33%,#1acfe3 20.30%,#29dcdd 25.27%,#38e6d8 30.24%,#48f0d1 35.21%,#58f7c9 40.18%,#69fdc0 45.15%,#7bffb7 50.12%,#8bfeae 55.10%,#9bfba4 60.07%,#adf599 65.04%,#bfec8e 70.01%,#d6dc7f 74.98%,#edc76f 79.95%,#ffb260 84.92%,#ff9a51 89.89%,#ff8143 94.86%,#ff6735 99.83%)"></div>
<div style="left:501px;top:598px;width:120px;height:3px;background:linear-gradient(90deg,#0fa3f0 0.42%,#04b0ed 5.39%,#08bde9 10.36%,#16cbe5 15.33%,#24d7df 20.30%,#33e3d9 25.27%,#42edd3 30.24%,#52f5cc 35.21%,#61fac5 40.18%,#71febc 45.15%,#82ffb3 50.12%,#91fdaa 55.10%,#a1faa1 60.07%,#b2f396 65.04%,#c4e88a 70.01%,#dbd77b 74.98%,#f2c26b 79.95%,#ffad5d 84.92%,#ff964f 89.89%,#ff7e41 94.86%,#ff6534 99.83%)"></div>
<div style="left:501px;top:601px;width:120px;height:3px;background:linear-gradient(90deg,#09aaee 0.42%,#03b7eb 5.39%,#0ec4e7 10.36%,#1ed2e2 15.33%,#2ddfdc 20.30%,#3dead5 25.27%,#4df3ce 30.24%,#5bf9c7 35.21%,#6afdc0 40.18%,#79ffb8 45.15%,#89ffaf 50.12%,#97fca7 55.10%,#a6f89e 60.07%,#b8f092 65.04%,#cae587 70.01%,#e1d377 74.98%,#f8bc67 79.95%,#ffa85a 84.92%,#ff924d 89.89%,#ff7b40 94.86%,#ff6333 99.83%)"></div>
<div style="left:501px;top:604px;width:120px;height:3px;background:linear-gradient(90deg,#03b1ed 0.42%,#09bee9 5.39%,#15cae5 10.36%,#26d9df 15.33%,#36e5d8 20.30%,#47f0d1 25.27%,#58f7c9 30.24%,#65fcc2 35.21%,#73febb 40.18%,#81ffb3 45.15%,#90feab 50.12%,#9efba3 55.10%,#abf69a 60.07%,#bded8f 65.04%,#cfe183 70.01%,#e6ce73 74.98%,#fdb763 79.95%,#ffa357 84.92%,#ff8e4a 89.89%,#ff783e 94.86%,#ff6131 99.83%)"></div>
<div style="left:501px;top:607px;width:120px;height:3px;background:linear-gradient(90deg,#03b8eb 0.42%,#10c5e7 5.39%,#1cd1e2 10.36%,#2edfdc 15.33%,#3febd4 20.30%,#51f5cc 25.27%,#62fbc4 30.24%,#6ffebd 35.21%,#7cffb6 40.18%,#8affaf 45.15%,#97fca7 50.12%,#a4f99f 55.10%,#b1f397 60.07%,#c3ea8c 65.04%,#d4dd80 70.01%,#ebc970 74.98%,#ffb15f 79.95%,#ff9e54 84.92%,#ff8a48 89.89%,#ff753c 94.86%,#ff5f30 99.83%)"></div>
<div style="left:501px;top:610px;width:120px;height:3px;background:linear-gradient(90deg,#0abfe9 0.42%,#17cce4 5.39%,#24d7e0 10.36%,#35e5d9 15.33%,#47f0d1 20.30%,#58f8c9 25.27%,#6afdc0 30.24%,#77ffb9 35.21%,#84ffb2 40.18%,#90feab 45.15%,#9dfba3 50.12%,#aaf69b 55.10%,#b7f093 60.07%,#c8e688 65.04%,#d9d97c 70.01%,#f0c56d 74.98%,#ffad5d 79.95%,#ff9a51 84.92%,#ff8646 89.89%,#ff713a 94.86%,#ff5b2f 99.83%)"></div>
<div style="left:501px;top:613px;width:120px;height:3px;background:linear-gradient(90deg,#11c6e6 0.42%,#1ed2e2 5.39%,#2bdddd 10.36%,#3cead5 15.33%,#4ef3ce 20.30%,#5ffac6 25.27%,#6ffebd 30.24%,#7dffb6 35.21%,#8afeae 40.18%,#97fca7 45.15%,#a3f99f 50.12%,#b0f497 55.10%,#bded8f 60.07%,#cee284 65.04%,#ded579 70.01%,#f3c16a 74.98%,#ffaa5b 79.95%,#ff9750 84.92%,#ff8344 89.89%,#ff6e38 94.86%,#ff582d 99.83%)"></div>
<div style="left:501px;top:616px;width:120px;height:3px;background:linear-gradient(90deg,#17cce4 0.42%,#25d8df 5.39%,#33e3da 10.36%,#44eed2 15.33%,#55f6cb 20.30%,#65fcc3 25.27%,#75feba 30.24%,#83ffb3 35.21%,#90feab 40.18%,#9dfba3 45.15%,#aaf69b 50.12%,#b6f193 55.10%,#c3e98b 60.07%,#d3de80 65.04%,#e3d075 70.01%,#f7bd67 74.98%,#ffa759 79.95%,#ff944e 84.92%,#ff8042 89.89%,#ff6a36 94.86%,#ff542b 99.83%)"></div>
<div style="left:501px;top:619px;width:120px;height:3px;background:linear-gradient(90deg,#1ed3e1 0.42%,#2cdedc 5.39%,#3ae8d6 10.36%,#4bf2cf 15.33%,#5bf9c7 20.30%,#6bfdbf 25.27%,#7bffb7 30.24%,#88ffaf 35.21%,#96fca7 40.18%,#a3f99f 45.15%,#b0f498 50.12%,#bded8f 55.10%,#c9e587 60.07%,#d9d97c 65.04%,#e8cb72 70.01%,#fbb965 74.98%,#ffa457 79.95%,#ff914c 84.92%,#ff7c40 89.89%,#ff6735 94.86%,#ff5029 99.83%)"></div>
<div style="left:501px;top:622px;width:120px;height:3px;background:linear-gradient(90deg,#25d9df 0.42%,#33e3d9 5.39%,#42edd3 10.36%,#52f5cc 15.33%,#62fbc4 20.30%,#71febc 25.27%,#80ffb4 30.24%,#8efeac 35.21%,#9dfba3 40.18%,#a9f79c 45.15%,#b6f194 50.12%,#c3e98b 55.10%,#d0e183 60.07%,#dfd579 65.04%,#edc76e 70.01%,#ffb562 74.98%,#ffa155 79.95%,#ff8d4a 84.92%,#ff793e 89.89%,#ff6333 94.86%,#ff4d27 99.83%)"></div>
<div style="left:501px;top:625px;width:120px;height:3px;background:linear-gradient(90deg,#2cdedc 0.42%,#3be8d6 5.39%,#49f1d0 10.36%,#59f8c8 15.33%,#69fdc0 20.30%,#78ffb9 25.27%,#86ffb1 30.24%,#94fda8 35.21%,#a3f9a0 40.18%,#b0f498 45.15%,#bced90 50.12%,#c9e587 55.10%,#d6dc7f 60.07%,#e4d075 65.04%,#f2c26b 70.01%,#ffb15f 74.98%,#ff9e53 79.95%,#ff8a48 84.92%,#ff753c 89.89%,#ff6031 94.86%,#ff4925 99.83%)"></div>
<div style="left:501px;top:628px;width:120px;height:3px;background:linear-gradient(90deg,#33e3d9 0.42%,#42edd3 5.39%,#51f4cc 10.36%,#60fac5 15.33%,#70febd 20.30%,#7effb5 25.27%,#8bfeae 30.24%,#9afca5 35.21%,#a9f79c 40.18%,#b6f194 45.15%,#c3ea8b 50.12%,#cfe183 55.10%,#dcd77a 60.07%,#eaca71 65.04%,#f7bc67 70.01%,#ffac5c 74.98%,#ff9b52 79.95%,#ff8746 84.92%,#ff723a 89.89%,#ff5c2f 94.86%,#ff4523 99.83%)"></div>
<div style="left:501px;top:631px;width:120px;height:3px;background:linear-gradient(90deg,#3ae8d7 0.42%,#49f1d0 5.39%,#58f8c9 10.36%,#68fcc1 15.33%,#77ffb9 20.30%,#84ffb2 25.27%,#91feaa 30.24%,#a0faa1 35.21%,#aff498 40.18%,#bced90 45.15%,#c9e587 50.12%,#d6dc7f 55.10%,#e2d176 60.07%,#efc56d 65.04%,#fcb763 70.01%,#ffa85a 74.98%,#ff9750 79.95%,#ff8344 84.92%,#ff6e39 89.89%,#ff582d 94.86%,#ff4121 99.83%)"></div>
<div style="left:501px;top:634px;width:120px;height:3px;background:linear-gradient(90deg,#40ecd4 0.42%,#50f4cd 5.39%,#5ffac6 10.36%,#6efebe 15.33%,#7effb5 20.30%,#8afeae 25.27%,#97fca7 30.24%,#a6f89d 35.21%,#b6f194 40.18%,#c3ea8c 45.15%,#cfe183 50.12%,#dcd77b 55.10%,#e8cc72 60.07%,#f5bf69 65.04%,#ffb260 70.01%,#ffa357 74.98%,#ff944d 79.95%,#ff8042 84.92%,#ff6a36 89.89%,#ff542b 94.86%,#ff3d1f 99.83%)"></div>
<div style="left:501px;top:637px;width:120px;height:3px;background:linear-gradient(90deg,#47f0d1 0.42%,#56f7ca 5.39%,#65fcc3 10.36%,#75feba 15.33%,#84ffb2 20.30%,#91feaa 25.27%,#9efba3 30.24%,#adf599 35.21%,#bced90 40.18%,#c9e587 45.15%,#d6dc7f 50.12%,#e2d276 55.10%,#eec76e 60.07%,#faba65 65.04%,#ffac5c 70.01%,#ff9e54 74.98%,#ff8f4b 79.95%,#ff7b40 84.92%,#ff6634 89.89%,#ff5028 94.86%,#ff391c 99.83%)"></div>
<div style="left:501px;top:640px;width:120px;height:3px;background:linear-gradient(90deg,#4ef3ce 0.42%,#5cf9c7 5.39%,#6bfdbf 10.36%,#7bffb7 15.33%,#8bfeae 20.30%,#98fca6 25.27%,#a4f89f 30.24%,#b4f295 35.21%,#c3e98b 40.18%,#d0e183 45.15%,#dcd67a 50.12%,#e8cc72 55.10%,#f3c16a 60.07%,#ffb462 65.04%,#ffa759 70.01%,#ff9951 74.98%,#ff8a48 79.95%,#ff773d 84.92%,#ff6232 89.89%,#ff4b26 94.86%,#ff341a 99.83%)"></div>
<div style="left:501px;top:643px;width:120px;height:3px;background:linear-gradient(90deg,#54f6cb 0.42%,#62fbc4 5.39%,#71febc 10.36%,#81ffb3 15.33%,#91fdaa 20.30%,#9efaa3 25.27%,#abf69b 30.24%,#baee91 35.21%,#cae587 40.18%,#d6db7e 45.15%,#e3d175 50.12%,#eec66e 55.10%,#f8bc66 60.07%,#ffaf5e 65.04%,#ffa155 70.01%,#ff934d 74.98%,#ff8545 79.95%,#ff723b 84.92%,#ff5d30 89.89%,#ff4724 94.86%,#ff2f18 99.83%)"></div>
<div style="left:501px;top:646px;width:120px;height:3px;background:linear-gradient(90deg,#5bf9c8 0.42%,#69fdc0 5.39%,#77ffb9 10.36%,#87ffb0 15.33%,#98fca6 20.30%,#a5f89e 25.27%,#b1f397 30.24%,#c1eb8d 35.21%,#d0e082 40.18%,#ddd67a 45.15%,#eaca71 50.12%,#f4c06a 55.10%,#feb663 60.07%,#ffa95a 65.04%,#ff9b52 70.01%,#ff8e4a 74.98%,#ff8143 79.95%,#ff6d38 84.92%,#ff592d 89.89%,#ff4221 94.86%,#ff2b15 99.83%)"></div>
<div style="left:501px;top:649px;width:120px;height:3px;background:linear-gradient(90deg,#61fbc4 0.42%,#6ffebd 5.39%,#7dffb6 10.36%,#8efeac 15.33%,#9ffaa2 20.30%,#abf69a 25.27%,#b8f092 30.24%,#c7e688 35.21%,#d7db7e 40.18%,#e3d075 45.15%,#f0c46c 50.12%,#faba65 55.10%,#ffb05f 60.07%,#ffa356 65.04%,#ff954e 70.01%,#ff8947 74.98%,#ff7c40 79.95%,#ff6935 84.92%,#ff552b 89.89%,#ff3e1f 94.86%,#ff2613 99.83%)"></div>
<div style="left:501px;top:652px;width:120px;height:3px;background:linear-gradient(90deg,#68fcc1 0.42%,#75feba 5.39%,#83ffb3 10.36%,#94fda9 15.33%,#a5f89e 20.30%,#b2f396 25.27%,#bfec8e 30.24%,#cee284 35.21%,#ddd67a 40.18%,#eaca71 45.15%,#f7bd68 50.12%,#ffb461 55.10%,#ffa95b 60.07%,#ff9c53 65.04%,#ff8f4b 70.01%,#ff8344 74.98%,#ff773d 79.95%,#ff6433 84.92%,#ff5029 89.89%,#ff391d 94.86%,#ff2111 99.83%)"></div>
<div style="left:501px;top:655px;width:120px;height:3px;background:linear-gradient(90deg,#6ffebd 0.42%,#7cffb6 5.39%,#89ffaf 10.36%,#9afca5 15.33%,#acf69a 20.30%,#b8ef92 25.27%,#c5e88a 30.24%,#d5dd7f 35.21%,#e4d075 40.18%,#f1c46c 45.15%,#fdb663 50.12%,#ffad5d 55.10%,#ffa357 60.07%,#ff964f 65.04%,#ff8847 70.01%,#ff7d41 74.98%,#ff723a 79.95%,#ff5f30 84.92%,#ff4c26 89.89%,#ff351a 94.86%,#ff1d0e 99.83%)"></div>
<div style="left:501px;top:658px;width:120px;height:3px;background:linear-gradient(90deg,#75feba 0.42%,#82ffb3 5.39%,#8ffeac 10.36%,#a0faa1 15.33%,#b2f396 20.30%,#bfec8e 25.27%,#cce385 30.24%,#dbd77b 35.21%,#eaca70 40.18%,#f7bd67 45.15%,#ffaf5e 50.12%,#ffa658 55.10%,#ff9c53 60.07%,#ff904b 65.04%,#ff8243 70.01%,#ff773e 74.98%,#ff6d38 79.95%,#ff5a2e 84.92%,#ff4724 89.89%,#ff3018 94.86%,#ff180c 99.83%)"></div>
<div style="left:501px;top:661px;width:120px;height:3px;background:linear-gradient(90deg,#78ffb8 0.42%,#85ffb1 5.39%,#91fdaa 10.36%,#a3f99f 15.33%,#b5f194 20.30%,#c2ea8c 25.27%,#cfe183 30.24%,#ded579 35.21%,#edc76e 40.18%,#faba65 45.15%,#ffab5c 50.12%,#ffa256 55.10%,#ff9951 60.07%,#ff8c49 65.04%,#ff7e41 70.01%,#ff743b 74.98%,#ff6936 79.95%,#ff562c 84.92%,#ff4322 89.89%,#ff2c16 94.86%,#ff140a 99.83%)"></div>
<div style="left:501px;top:664px;width:120px;height:2px;background:linear-gradient(90deg,#7affb7 0.42%,#87ffb0 5.39%,#94fda9 10.36%,#a6f89e 15.33%,#b7f093 20.30%,#c4e88a 25.27%,#d1e082 30.24%,#e0d377 35.21%,#f0c56d 40.18%,#fcb764 45.15%,#ffa95a 50.12%,#ffa055 55.10%,#ff964f 60.07%,#ff8947 65.04%,#ff7b40 70.01%,#ff703a 74.98%,#ff6534 79.95%,#ff532a 84.92%,#ff4020 89.89%,#ff2814 94.86%,#ff1008 99.83%)"></div>
<div style="left:623.55px;top:553.90px;width:5.90px;height:111.25px;background:linear-gradient(180deg,#ff0000 0%,#ff2814 5%,#ff4f28 10%,#ff743c 15%,#ff964f 20%,#ffb462 25%,#e5ce74 30%,#cce385 35%,#b2f396 40%,#99fca6 45%,#80ffb4 50%,#66fcc2 55%,#4df3ce 60%,#33e3d9 65%,#1acee3 70%,#00b4ec 75%,#1a96f3 80%,#3374f8 85%,#4d4ffc 90%,#6628fe 95%,#8000ff 100%)"></div>
</div>
<svg width="685" height="700" viewBox="0 0 685 700">
<line x1="139.85" y1="20.00" x2="139.85" y2="21.80" stroke="#111" stroke-width="1.35"/>
<line x1="139.85" y1="26.10" x2="139.85" y2="38.60" stroke="#111" stroke-width="1.35"/>
<line x1="139.85" y1="42.80" x2="139.85" y2="44.60" stroke="#111" stroke-width="1.35"/>
<line x1="139.85" y1="49.30" x2="139.85" y2="51.00" stroke="#111" stroke-width="1.35"/>
<line x1="139.85" y1="55.30" x2="139.85" y2="67.70" stroke="#111" stroke-width="1.35"/>
<line x1="139.85" y1="72.00" x2="139.85" y2="73.70" stroke="#111" stroke-width="1.35"/>
<line x1="139.85" y1="78.20" x2="139.85" y2="79.70" stroke="#111" stroke-width="1.35"/>
<line x1="139.85" y1="84.60" x2="139.85" y2="96.80" stroke="#111" stroke-width="1.35"/>
<line x1="139.85" y1="101.60" x2="139.85" y2="103.10" stroke="#111" stroke-width="1.35"/>
<line x1="139.85" y1="107.60" x2="139.85" y2="109.00" stroke="#111" stroke-width="1.35"/>
<line x1="139.85" y1="113.50" x2="139.85" y2="125.50" stroke="#111" stroke-width="1.35"/>
<line x1="139.85" y1="130.20" x2="139.85" y2="131.50" stroke="#111" stroke-width="1.35"/>
<rect x="42.45" y="20.20" width="119.30" height="111.25" fill="none" stroke="#000" stroke-width="1.0"/>
<line x1="72.53" y1="20.20" x2="72.53" y2="26.10" stroke="#000" stroke-width="1"/>
<line x1="72.53" y1="131.45" x2="72.53" y2="125.55" stroke="#000" stroke-width="1"/>
<line x1="102.35" y1="20.20" x2="102.35" y2="26.10" stroke="#000" stroke-width="1"/>
<line x1="102.35" y1="131.45" x2="102.35" y2="125.55" stroke="#000" stroke-width="1"/>
<line x1="132.18" y1="20.20" x2="132.18" y2="26.10" stroke="#000" stroke-width="1"/>
<line x1="132.18" y1="131.45" x2="132.18" y2="125.55" stroke="#000" stroke-width="1"/>
<line x1="42.45" y1="57.28" x2="48.35" y2="57.28" stroke="#000" stroke-width="1"/>
<line x1="161.75" y1="57.28" x2="155.85" y2="57.28" stroke="#000" stroke-width="1"/>
<line x1="42.45" y1="94.37" x2="48.35" y2="94.37" stroke="#000" stroke-width="1"/>
<line x1="161.75" y1="94.37" x2="155.85" y2="94.37" stroke="#000" stroke-width="1"/>
<rect x="164.50" y="20.20" width="5.90" height="111.25" fill="none" stroke="#000" stroke-width="1.0"/>
<text x="175.40" y="136.25" text-anchor="start" font-size="14.2" >0</text>
<line x1="164.50" y1="104.04" x2="170.40" y2="104.04" stroke="#000" stroke-width="1"/>
<text x="175.40" y="108.84" text-anchor="start" font-size="14.2" >25</text>
<line x1="164.50" y1="76.22" x2="170.40" y2="76.22" stroke="#000" stroke-width="1"/>
<text x="175.40" y="81.02" text-anchor="start" font-size="14.2" >50</text>
<line x1="164.50" y1="48.41" x2="170.40" y2="48.41" stroke="#000" stroke-width="1"/>
<text x="175.40" y="53.21" text-anchor="start" font-size="14.2" >75</text>
<text x="175.40" y="25.00" text-anchor="start" font-size="14.2" >100</text>
<text x="38.85" y="25.00" text-anchor="end" font-size="14.2" >10</text>
<text x="38.85" y="62.08" text-anchor="end" font-size="14.2" >1</text>
<text x="38.65" y="100.57" text-anchor="end" font-size="14.2">10<tspan font-size="10.5" dy="-6.2">-1</tspan></text>
<text x="38.65" y="137.65" text-anchor="end" font-size="14.2">10<tspan font-size="10.5" dy="-6.2">-2</tspan></text>
<text x="44.35" y="148.85" text-anchor="middle" font-size="14.2" >0</text>
<text x="74.18" y="148.85" text-anchor="middle" font-size="14.2" >0.25</text>
<text x="104.00" y="148.85" text-anchor="middle" font-size="14.2" >0.5</text>
<text x="133.83" y="148.85" text-anchor="middle" font-size="14.2" >0.75</text>
<text x="163.65" y="148.85" text-anchor="middle" font-size="14.2" >1</text>
<text x="102.40" y="162.65" text-anchor="middle" font-size="14.2" font-style="italic">q</text>
<text transform="translate(10.95,76.12) rotate(-90)" text-anchor="middle" font-size="14.2">β</text>
<text x="74.15" y="13.90" font-size="16.0">(<tspan font-weight="bold">a</tspan>)</text>
<text x="97.25" y="16.70" font-size="14.2">λ=0.5</text>
<text transform="translate(207.40,75.83) rotate(-90)" text-anchor="middle" font-size="14.2"><tspan font-style="italic">F</tspan><tspan font-size="10.5" dy="4.3">tot</tspan><tspan dy="-4.3"> / </tspan><tspan font-style="italic">F</tspan><tspan font-size="10.5" dy="4.3">src</tspan></text>
<rect x="272.35" y="20.20" width="119.30" height="111.25" fill="none" stroke="#000" stroke-width="1.0"/>
<line x1="302.43" y1="20.20" x2="302.43" y2="26.10" stroke="#000" stroke-width="1"/>
<line x1="302.43" y1="131.45" x2="302.43" y2="125.55" stroke="#000" stroke-width="1"/>
<line x1="332.25" y1="20.20" x2="332.25" y2="26.10" stroke="#000" stroke-width="1"/>
<line x1="332.25" y1="131.45" x2="332.25" y2="125.55" stroke="#000" stroke-width="1"/>
<line x1="362.08" y1="20.20" x2="362.08" y2="26.10" stroke="#000" stroke-width="1"/>
<line x1="362.08" y1="131.45" x2="362.08" y2="125.55" stroke="#000" stroke-width="1"/>
<line x1="272.35" y1="57.28" x2="278.25" y2="57.28" stroke="#000" stroke-width="1"/>
<line x1="391.65" y1="57.28" x2="385.75" y2="57.28" stroke="#000" stroke-width="1"/>
<line x1="272.35" y1="94.37" x2="278.25" y2="94.37" stroke="#000" stroke-width="1"/>
<line x1="391.65" y1="94.37" x2="385.75" y2="94.37" stroke="#000" stroke-width="1"/>
<rect x="394.40" y="20.20" width="5.90" height="111.25" fill="none" stroke="#000" stroke-width="1.0"/>
<text x="405.30" y="136.25" text-anchor="start" font-size="14.2" >0</text>
<line x1="394.40" y1="104.04" x2="400.30" y2="104.04" stroke="#000" stroke-width="1"/>
<text x="405.30" y="108.84" text-anchor="start" font-size="14.2" >25</text>
<line x1="394.40" y1="76.22" x2="400.30" y2="76.22" stroke="#000" stroke-width="1"/>
<text x="405.30" y="81.02" text-anchor="start" font-size="14.2" >50</text>
<line x1="394.40" y1="48.41" x2="400.30" y2="48.41" stroke="#000" stroke-width="1"/>
<text x="405.30" y="53.21" text-anchor="start" font-size="14.2" >75</text>
<text x="405.30" y="25.00" text-anchor="start" font-size="14.2" >100</text>
<text x="268.75" y="25.00" text-anchor="end" font-size="14.2" >10</text>
<text x="268.75" y="62.08" text-anchor="end" font-size="14.2" >1</text>
<text x="268.55" y="100.57" text-anchor="end" font-size="14.2">10<tspan font-size="10.5" dy="-6.2">-1</tspan></text>
<text x="268.55" y="137.65" text-anchor="end" font-size="14.2">10<tspan font-size="10.5" dy="-6.2">-2</tspan></text>
<text x="274.25" y="148.85" text-anchor="middle" font-size="14.2" >0</text>
<text x="304.07" y="148.85" text-anchor="middle" font-size="14.2" >0.25</text>
<text x="333.90" y="148.85" text-anchor="middle" font-size="14.2" >0.5</text>
<text x="363.73" y="148.85" text-anchor="middle" font-size="14.2" >0.75</text>
<text x="393.55" y="148.85" text-anchor="middle" font-size="14.2" >1</text>
<text x="332.30" y="166.05" text-anchor="middle" font-size="14.2">λ</text>
<text transform="translate(240.85,76.12) rotate(-90)" text-anchor="middle" font-size="14.2">β</text>
<text x="302.25" y="13.90" font-size="16.0">(<tspan font-weight="bold">b</tspan>)</text>
<text x="327.35" y="16.70" font-size="14.2"><tspan font-style="italic">q</tspan>=0.5</text>
<text transform="translate(437.30,75.83) rotate(-90)" text-anchor="middle" font-size="14.2"><tspan font-style="italic">F</tspan><tspan font-size="10.5" dy="4.3">tot</tspan><tspan dy="-4.3"> / </tspan><tspan font-style="italic">F</tspan><tspan font-size="10.5" dy="4.3">src</tspan></text>
<line x1="598.90" y1="20.00" x2="598.90" y2="21.80" stroke="#111" stroke-width="1.35"/>
<line x1="598.90" y1="26.10" x2="598.90" y2="38.60" stroke="#111" stroke-width="1.35"/>
<line x1="598.90" y1="42.80" x2="598.90" y2="44.60" stroke="#111" stroke-width="1.35"/>
<line x1="598.90" y1="49.30" x2="598.90" y2="51.00" stroke="#111" stroke-width="1.35"/>
<line x1="598.90" y1="55.30" x2="598.90" y2="67.70" stroke="#111" stroke-width="1.35"/>
<line x1="598.90" y1="72.00" x2="598.90" y2="73.70" stroke="#111" stroke-width="1.35"/>
<line x1="598.90" y1="78.20" x2="598.90" y2="79.70" stroke="#111" stroke-width="1.35"/>
<line x1="598.90" y1="84.60" x2="598.90" y2="96.80" stroke="#111" stroke-width="1.35"/>
<line x1="598.90" y1="101.60" x2="598.90" y2="103.10" stroke="#111" stroke-width="1.35"/>
<line x1="598.90" y1="107.60" x2="598.90" y2="109.00" stroke="#111" stroke-width="1.35"/>
<line x1="598.90" y1="113.50" x2="598.90" y2="125.50" stroke="#111" stroke-width="1.35"/>
<line x1="598.90" y1="130.20" x2="598.90" y2="131.50" stroke="#111" stroke-width="1.35"/>
<rect x="501.50" y="20.20" width="119.30" height="111.25" fill="none" stroke="#000" stroke-width="1.0"/>
<line x1="531.58" y1="20.20" x2="531.58" y2="26.10" stroke="#000" stroke-width="1"/>
<line x1="531.58" y1="131.45" x2="531.58" y2="125.55" stroke="#000" stroke-width="1"/>
<line x1="561.40" y1="20.20" x2="561.40" y2="26.10" stroke="#000" stroke-width="1"/>
<line x1="561.40" y1="131.45" x2="561.40" y2="125.55" stroke="#000" stroke-width="1"/>
<line x1="591.23" y1="20.20" x2="591.23" y2="26.10" stroke="#000" stroke-width="1"/>
<line x1="591.23" y1="131.45" x2="591.23" y2="125.55" stroke="#000" stroke-width="1"/>
<line x1="501.50" y1="48.01" x2="507.40" y2="48.01" stroke="#000" stroke-width="1"/>
<line x1="620.80" y1="48.01" x2="614.90" y2="48.01" stroke="#000" stroke-width="1"/>
<line x1="501.50" y1="75.82" x2="507.40" y2="75.82" stroke="#000" stroke-width="1"/>
<line x1="620.80" y1="75.82" x2="614.90" y2="75.82" stroke="#000" stroke-width="1"/>
<line x1="501.50" y1="103.64" x2="507.40" y2="103.64" stroke="#000" stroke-width="1"/>
<line x1="620.80" y1="103.64" x2="614.90" y2="103.64" stroke="#000" stroke-width="1"/>
<rect x="623.55" y="20.20" width="5.90" height="111.25" fill="none" stroke="#000" stroke-width="1.0"/>
<text x="634.45" y="136.25" text-anchor="start" font-size="14.2" >0.05</text>
<line x1="623.55" y1="94.77" x2="629.45" y2="94.77" stroke="#000" stroke-width="1"/>
<text x="634.45" y="99.57" text-anchor="start" font-size="14.2" >0.10</text>
<line x1="623.55" y1="57.68" x2="629.45" y2="57.68" stroke="#000" stroke-width="1"/>
<text x="634.45" y="62.48" text-anchor="start" font-size="14.2" >0.15</text>
<text x="634.45" y="25.00" text-anchor="start" font-size="14.2" >0.20</text>
<text x="495.10" y="25.00" text-anchor="end" font-size="14.2" >1</text>
<text x="495.10" y="52.81" text-anchor="end" font-size="14.2" >0.75</text>
<text x="495.10" y="80.62" text-anchor="end" font-size="14.2" >0.5</text>
<text x="495.10" y="108.44" text-anchor="end" font-size="14.2" >0.25</text>
<text x="495.10" y="136.25" text-anchor="end" font-size="14.2" >0</text>
<text x="503.40" y="148.85" text-anchor="middle" font-size="14.2" >0</text>
<text x="533.23" y="148.85" text-anchor="middle" font-size="14.2" >0.25</text>
<text x="563.05" y="148.85" text-anchor="middle" font-size="14.2" >0.5</text>
<text x="592.88" y="148.85" text-anchor="middle" font-size="14.2" >0.75</text>
<text x="622.70" y="148.85" text-anchor="middle" font-size="14.2" >1</text>
<text x="561.45" y="162.65" text-anchor="middle" font-size="14.2" font-style="italic">q</text>
<text transform="translate(469.00,76.83) rotate(-90)" text-anchor="middle" font-size="14.2">λ</text>
<text x="528.80" y="13.90" font-size="16.0">(<tspan font-weight="bold">c</tspan>)</text>
<text x="556.50" y="16.70" font-size="14.2">β=0.5</text>
<text transform="translate(675.75,75.83) rotate(-90)" text-anchor="middle" font-size="14.2"><tspan font-style="italic">F</tspan><tspan font-size="10.5" dy="4.3">tot</tspan><tspan dy="-4.3"> / </tspan><tspan font-style="italic">F</tspan><tspan font-size="10.5" dy="4.3">src</tspan><tspan dy="-4.3"> - 2.182 (×10</tspan><tspan font-size="10.5" dy="-5.8">-3</tspan><tspan dy="5.8">)</tspan></text>
<line x1="139.85" y1="197.80" x2="139.85" y2="199.60" stroke="#111" stroke-width="1.35"/>
<line x1="139.85" y1="203.90" x2="139.85" y2="216.40" stroke="#111" stroke-width="1.35"/>
<line x1="139.85" y1="220.60" x2="139.85" y2="222.40" stroke="#111" stroke-width="1.35"/>
<line x1="139.85" y1="227.10" x2="139.85" y2="228.80" stroke="#111" stroke-width="1.35"/>
<line x1="139.85" y1="233.10" x2="139.85" y2="245.50" stroke="#111" stroke-width="1.35"/>
<line x1="139.85" y1="249.80" x2="139.85" y2="251.50" stroke="#111" stroke-width="1.35"/>
<line x1="139.85" y1="256.00" x2="139.85" y2="257.50" stroke="#111" stroke-width="1.35"/>
<line x1="139.85" y1="262.40" x2="139.85" y2="274.60" stroke="#111" stroke-width="1.35"/>
<line x1="139.85" y1="279.40" x2="139.85" y2="280.90" stroke="#111" stroke-width="1.35"/>
<line x1="139.85" y1="285.40" x2="139.85" y2="286.80" stroke="#111" stroke-width="1.35"/>
<line x1="139.85" y1="291.30" x2="139.85" y2="303.30" stroke="#111" stroke-width="1.35"/>
<line x1="139.85" y1="308.00" x2="139.85" y2="309.30" stroke="#111" stroke-width="1.35"/>
<rect x="42.45" y="198.00" width="119.30" height="111.25" fill="none" stroke="#000" stroke-width="1.0"/>
<line x1="72.53" y1="198.00" x2="72.53" y2="203.90" stroke="#000" stroke-width="1"/>
<line x1="72.53" y1="309.25" x2="72.53" y2="303.35" stroke="#000" stroke-width="1"/>
<line x1="102.35" y1="198.00" x2="102.35" y2="203.90" stroke="#000" stroke-width="1"/>
<line x1="102.35" y1="309.25" x2="102.35" y2="303.35" stroke="#000" stroke-width="1"/>
<line x1="132.18" y1="198.00" x2="132.18" y2="203.90" stroke="#000" stroke-width="1"/>
<line x1="132.18" y1="309.25" x2="132.18" y2="303.35" stroke="#000" stroke-width="1"/>
<line x1="42.45" y1="235.08" x2="48.35" y2="235.08" stroke="#000" stroke-width="1"/>
<line x1="161.75" y1="235.08" x2="155.85" y2="235.08" stroke="#000" stroke-width="1"/>
<line x1="42.45" y1="272.17" x2="48.35" y2="272.17" stroke="#000" stroke-width="1"/>
<line x1="161.75" y1="272.17" x2="155.85" y2="272.17" stroke="#000" stroke-width="1"/>
<rect x="164.50" y="198.00" width="5.90" height="111.25" fill="none" stroke="#000" stroke-width="1.0"/>
<text x="175.40" y="314.05" text-anchor="start" font-size="14.2" >0</text>
<line x1="164.50" y1="281.45" x2="170.40" y2="281.45" stroke="#000" stroke-width="1"/>
<text x="175.40" y="286.25" text-anchor="start" font-size="14.2" >2</text>
<line x1="164.50" y1="253.25" x2="170.40" y2="253.25" stroke="#000" stroke-width="1"/>
<text x="175.40" y="258.05" text-anchor="start" font-size="14.2" >4</text>
<line x1="164.50" y1="225.05" x2="170.40" y2="225.05" stroke="#000" stroke-width="1"/>
<text x="175.40" y="229.85" text-anchor="start" font-size="14.2" >6</text>
<text x="38.85" y="202.80" text-anchor="end" font-size="14.2" >10</text>
<text x="38.85" y="239.88" text-anchor="end" font-size="14.2" >1</text>
<text x="38.65" y="278.37" text-anchor="end" font-size="14.2">10<tspan font-size="10.5" dy="-6.2">-1</tspan></text>
<text x="38.65" y="315.45" text-anchor="end" font-size="14.2">10<tspan font-size="10.5" dy="-6.2">-2</tspan></text>
<text x="44.35" y="326.65" text-anchor="middle" font-size="14.2" >0</text>
<text x="74.18" y="326.65" text-anchor="middle" font-size="14.2" >0.25</text>
<text x="104.00" y="326.65" text-anchor="middle" font-size="14.2" >0.5</text>
<text x="133.83" y="326.65" text-anchor="middle" font-size="14.2" >0.75</text>
<text x="163.65" y="326.65" text-anchor="middle" font-size="14.2" >1</text>
<text x="102.40" y="340.45" text-anchor="middle" font-size="14.2" font-style="italic">q</text>
<text transform="translate(10.95,253.93) rotate(-90)" text-anchor="middle" font-size="14.2">β</text>
<text x="75.35" y="191.70" font-size="16.0">(<tspan font-weight="bold">d</tspan>)</text>
<text x="98.45" y="194.50" font-size="14.2">λ=0.5</text>
<text transform="translate(198.80,254.12) rotate(-90)" text-anchor="middle" font-size="14.2">δ<tspan font-style="italic">r</tspan><tspan font-size="10.5" dy="4.3">tot</tspan><tspan dy="-4.3"> (10</tspan><tspan font-size="10.5" dy="-5.8">-5</tspan><tspan dy="5.8">mag)</tspan></text>
<rect x="272.35" y="198.00" width="119.30" height="111.25" fill="none" stroke="#000" stroke-width="1.0"/>
<line x1="302.43" y1="198.00" x2="302.43" y2="203.90" stroke="#000" stroke-width="1"/>
<line x1="302.43" y1="309.25" x2="302.43" y2="303.35" stroke="#000" stroke-width="1"/>
<line x1="332.25" y1="198.00" x2="332.25" y2="203.90" stroke="#000" stroke-width="1"/>
<line x1="332.25" y1="309.25" x2="332.25" y2="303.35" stroke="#000" stroke-width="1"/>
<line x1="362.08" y1="198.00" x2="362.08" y2="203.90" stroke="#000" stroke-width="1"/>
<line x1="362.08" y1="309.25" x2="362.08" y2="303.35" stroke="#000" stroke-width="1"/>
<line x1="272.35" y1="235.08" x2="278.25" y2="235.08" stroke="#000" stroke-width="1"/>
<line x1="391.65" y1="235.08" x2="385.75" y2="235.08" stroke="#000" stroke-width="1"/>
<line x1="272.35" y1="272.17" x2="278.25" y2="272.17" stroke="#000" stroke-width="1"/>
<line x1="391.65" y1="272.17" x2="385.75" y2="272.17" stroke="#000" stroke-width="1"/>
<rect x="394.40" y="198.00" width="5.90" height="111.25" fill="none" stroke="#000" stroke-width="1.0"/>
<text x="405.30" y="314.05" text-anchor="start" font-size="14.2" >0</text>
<line x1="394.40" y1="275.26" x2="400.30" y2="275.26" stroke="#000" stroke-width="1"/>
<text x="405.30" y="280.06" text-anchor="start" font-size="14.2" >2</text>
<line x1="394.40" y1="240.87" x2="400.30" y2="240.87" stroke="#000" stroke-width="1"/>
<text x="405.30" y="245.67" text-anchor="start" font-size="14.2" >4</text>
<line x1="394.40" y1="206.48" x2="400.30" y2="206.48" stroke="#000" stroke-width="1"/>
<text x="405.30" y="211.28" text-anchor="start" font-size="14.2" >6</text>
<text x="268.75" y="202.80" text-anchor="end" font-size="14.2" >10</text>
<text x="268.75" y="239.88" text-anchor="end" font-size="14.2" >1</text>
<text x="268.55" y="278.37" text-anchor="end" font-size="14.2">10<tspan font-size="10.5" dy="-6.2">-1</tspan></text>
<text x="268.55" y="315.45" text-anchor="end" font-size="14.2">10<tspan font-size="10.5" dy="-6.2">-2</tspan></text>
<text x="274.25" y="326.65" text-anchor="middle" font-size="14.2" >0</text>
<text x="304.07" y="326.65" text-anchor="middle" font-size="14.2" >0.25</text>
<text x="333.90" y="326.65" text-anchor="middle" font-size="14.2" >0.5</text>
<text x="363.73" y="326.65" text-anchor="middle" font-size="14.2" >0.75</text>
<text x="393.55" y="326.65" text-anchor="middle" font-size="14.2" >1</text>
<text x="332.30" y="343.85" text-anchor="middle" font-size="14.2">λ</text>
<text transform="translate(240.85,253.93) rotate(-90)" text-anchor="middle" font-size="14.2">β</text>
<text x="299.05" y="191.70" font-size="16.0">(<tspan font-weight="bold">e</tspan>)</text>
<text x="326.75" y="194.50" font-size="14.2"><tspan font-style="italic">q</tspan>=0.5</text>
<text transform="translate(428.40,254.12) rotate(-90)" text-anchor="middle" font-size="14.2">δ<tspan font-style="italic">r</tspan><tspan font-size="10.5" dy="4.3">tot</tspan><tspan dy="-4.3"> (10</tspan><tspan font-size="10.5" dy="-5.8">-5</tspan><tspan dy="5.8">mag)</tspan></text>
<line x1="598.90" y1="197.80" x2="598.90" y2="199.60" stroke="#111" stroke-width="1.35"/>
<line x1="598.90" y1="203.90" x2="598.90" y2="216.40" stroke="#111" stroke-width="1.35"/>
<line x1="598.90" y1="220.60" x2="598.90" y2="222.40" stroke="#111" stroke-width="1.35"/>
<line x1="598.90" y1="227.10" x2="598.90" y2="228.80" stroke="#111" stroke-width="1.35"/>
<line x1="598.90" y1="233.10" x2="598.90" y2="245.50" stroke="#111" stroke-width="1.35"/>
<line x1="598.90" y1="249.80" x2="598.90" y2="251.50" stroke="#111" stroke-width="1.35"/>
<line x1="598.90" y1="256.00" x2="598.90" y2="257.50" stroke="#111" stroke-width="1.35"/>
<line x1="598.90" y1="262.40" x2="598.90" y2="274.60" stroke="#111" stroke-width="1.35"/>
<line x1="598.90" y1="279.40" x2="598.90" y2="280.90" stroke="#111" stroke-width="1.35"/>
<line x1="598.90" y1="285.40" x2="598.90" y2="286.80" stroke="#111" stroke-width="1.35"/>
<line x1="598.90" y1="291.30" x2="598.90" y2="303.30" stroke="#111" stroke-width="1.35"/>
<line x1="598.90" y1="308.00" x2="598.90" y2="309.30" stroke="#111" stroke-width="1.35"/>
<rect x="501.50" y="198.00" width="119.30" height="111.25" fill="none" stroke="#000" stroke-width="1.0"/>
<line x1="531.58" y1="198.00" x2="531.58" y2="203.90" stroke="#000" stroke-width="1"/>
<line x1="531.58" y1="309.25" x2="531.58" y2="303.35" stroke="#000" stroke-width="1"/>
<line x1="561.40" y1="198.00" x2="561.40" y2="203.90" stroke="#000" stroke-width="1"/>
<line x1="561.40" y1="309.25" x2="561.40" y2="303.35" stroke="#000" stroke-width="1"/>
<line x1="591.23" y1="198.00" x2="591.23" y2="203.90" stroke="#000" stroke-width="1"/>
<line x1="591.23" y1="309.25" x2="591.23" y2="303.35" stroke="#000" stroke-width="1"/>
<line x1="501.50" y1="225.81" x2="507.40" y2="225.81" stroke="#000" stroke-width="1"/>
<line x1="620.80" y1="225.81" x2="614.90" y2="225.81" stroke="#000" stroke-width="1"/>
<line x1="501.50" y1="253.62" x2="507.40" y2="253.62" stroke="#000" stroke-width="1"/>
<line x1="620.80" y1="253.62" x2="614.90" y2="253.62" stroke="#000" stroke-width="1"/>
<line x1="501.50" y1="281.44" x2="507.40" y2="281.44" stroke="#000" stroke-width="1"/>
<line x1="620.80" y1="281.44" x2="614.90" y2="281.44" stroke="#000" stroke-width="1"/>
<rect x="623.55" y="198.00" width="5.90" height="111.25" fill="none" stroke="#000" stroke-width="1.0"/>
<text x="634.45" y="314.05" text-anchor="start" font-size="14.2" >0</text>
<line x1="623.55" y1="278.04" x2="629.45" y2="278.04" stroke="#000" stroke-width="1"/>
<text x="634.45" y="282.84" text-anchor="start" font-size="14.2" >2</text>
<line x1="623.55" y1="246.44" x2="629.45" y2="246.44" stroke="#000" stroke-width="1"/>
<text x="634.45" y="251.24" text-anchor="start" font-size="14.2" >4</text>
<line x1="623.55" y1="214.83" x2="629.45" y2="214.83" stroke="#000" stroke-width="1"/>
<text x="634.45" y="219.63" text-anchor="start" font-size="14.2" >6</text>
<text x="495.10" y="202.80" text-anchor="end" font-size="14.2" >1</text>
<text x="495.10" y="230.61" text-anchor="end" font-size="14.2" >0.75</text>
<text x="495.10" y="258.43" text-anchor="end" font-size="14.2" >0.5</text>
<text x="495.10" y="286.24" text-anchor="end" font-size="14.2" >0.25</text>
<text x="495.10" y="314.05" text-anchor="end" font-size="14.2" >0</text>
<text x="503.40" y="326.65" text-anchor="middle" font-size="14.2" >0</text>
<text x="533.23" y="326.65" text-anchor="middle" font-size="14.2" >0.25</text>
<text x="563.05" y="326.65" text-anchor="middle" font-size="14.2" >0.5</text>
<text x="592.88" y="326.65" text-anchor="middle" font-size="14.2" >0.75</text>
<text x="622.70" y="326.65" text-anchor="middle" font-size="14.2" >1</text>
<text x="561.45" y="340.45" text-anchor="middle" font-size="14.2" font-style="italic">q</text>
<text transform="translate(469.00,254.62) rotate(-90)" text-anchor="middle" font-size="14.2">λ</text>
<text x="525.90" y="191.70" font-size="16.0">(<tspan font-weight="bold">f</tspan>)</text>
<text x="555.00" y="194.50" font-size="14.2">β=0.5</text>
<text transform="translate(673.55,254.12) rotate(-90)" text-anchor="middle" font-size="14.2">δ<tspan font-style="italic">r</tspan><tspan font-size="10.5" dy="4.3">tot</tspan><tspan dy="-4.3"> (10</tspan><tspan font-size="10.5" dy="-5.8">-5</tspan><tspan dy="5.8">mag)</tspan></text>
<line x1="139.85" y1="375.90" x2="139.85" y2="377.70" stroke="#111" stroke-width="1.35"/>
<line x1="139.85" y1="382.00" x2="139.85" y2="394.50" stroke="#111" stroke-width="1.35"/>
<line x1="139.85" y1="398.70" x2="139.85" y2="400.50" stroke="#111" stroke-width="1.35"/>
<line x1="139.85" y1="405.20" x2="139.85" y2="406.90" stroke="#111" stroke-width="1.35"/>
<line x1="139.85" y1="411.20" x2="139.85" y2="423.60" stroke="#111" stroke-width="1.35"/>
<line x1="139.85" y1="427.90" x2="139.85" y2="429.60" stroke="#111" stroke-width="1.35"/>
<line x1="139.85" y1="434.10" x2="139.85" y2="435.60" stroke="#111" stroke-width="1.35"/>
<line x1="139.85" y1="440.50" x2="139.85" y2="452.70" stroke="#111" stroke-width="1.35"/>
<line x1="139.85" y1="457.50" x2="139.85" y2="459.00" stroke="#111" stroke-width="1.35"/>
<line x1="139.85" y1="463.50" x2="139.85" y2="464.90" stroke="#111" stroke-width="1.35"/>
<line x1="139.85" y1="469.40" x2="139.85" y2="481.40" stroke="#111" stroke-width="1.35"/>
<line x1="139.85" y1="486.10" x2="139.85" y2="487.40" stroke="#111" stroke-width="1.35"/>
<rect x="42.45" y="376.10" width="119.30" height="111.25" fill="none" stroke="#000" stroke-width="1.0"/>
<line x1="72.53" y1="376.10" x2="72.53" y2="382.00" stroke="#000" stroke-width="1"/>
<line x1="72.53" y1="487.35" x2="72.53" y2="481.45" stroke="#000" stroke-width="1"/>
<line x1="102.35" y1="376.10" x2="102.35" y2="382.00" stroke="#000" stroke-width="1"/>
<line x1="102.35" y1="487.35" x2="102.35" y2="481.45" stroke="#000" stroke-width="1"/>
<line x1="132.18" y1="376.10" x2="132.18" y2="382.00" stroke="#000" stroke-width="1"/>
<line x1="132.18" y1="487.35" x2="132.18" y2="481.45" stroke="#000" stroke-width="1"/>
<line x1="42.45" y1="413.18" x2="48.35" y2="413.18" stroke="#000" stroke-width="1"/>
<line x1="161.75" y1="413.18" x2="155.85" y2="413.18" stroke="#000" stroke-width="1"/>
<line x1="42.45" y1="450.27" x2="48.35" y2="450.27" stroke="#000" stroke-width="1"/>
<line x1="161.75" y1="450.27" x2="155.85" y2="450.27" stroke="#000" stroke-width="1"/>
<rect x="164.50" y="376.10" width="5.90" height="111.25" fill="none" stroke="#000" stroke-width="1.0"/>
<text x="175.40" y="380.90" text-anchor="start" font-size="14.2" >0</text>
<line x1="164.50" y1="404.81" x2="170.40" y2="404.81" stroke="#000" stroke-width="1"/>
<text x="175.40" y="409.61" text-anchor="start" font-size="14.2" >-2</text>
<line x1="164.50" y1="433.12" x2="170.40" y2="433.12" stroke="#000" stroke-width="1"/>
<text x="175.40" y="437.92" text-anchor="start" font-size="14.2" >-4</text>
<line x1="164.50" y1="461.42" x2="170.40" y2="461.42" stroke="#000" stroke-width="1"/>
<text x="175.40" y="466.22" text-anchor="start" font-size="14.2" >-6</text>
<text x="38.85" y="380.90" text-anchor="end" font-size="14.2" >10</text>
<text x="38.85" y="417.98" text-anchor="end" font-size="14.2" >1</text>
<text x="38.65" y="456.47" text-anchor="end" font-size="14.2">10<tspan font-size="10.5" dy="-6.2">-1</tspan></text>
<text x="38.65" y="493.55" text-anchor="end" font-size="14.2">10<tspan font-size="10.5" dy="-6.2">-2</tspan></text>
<text x="44.35" y="504.75" text-anchor="middle" font-size="14.2" >0</text>
<text x="74.18" y="504.75" text-anchor="middle" font-size="14.2" >0.25</text>
<text x="104.00" y="504.75" text-anchor="middle" font-size="14.2" >0.5</text>
<text x="133.83" y="504.75" text-anchor="middle" font-size="14.2" >0.75</text>
<text x="163.65" y="504.75" text-anchor="middle" font-size="14.2" >1</text>
<text x="102.40" y="518.55" text-anchor="middle" font-size="14.2" font-style="italic">q</text>
<text transform="translate(10.95,432.03) rotate(-90)" text-anchor="middle" font-size="14.2">β</text>
<text x="75.95" y="369.80" font-size="16.0">(<tspan font-weight="bold">g</tspan>)</text>
<text x="98.45" y="372.60" font-size="14.2">λ=0.5</text>
<text transform="translate(204.30,428.93) rotate(-90)" text-anchor="middle" font-size="14.2">Δ<tspan font-style="italic">F</tspan> / <tspan font-style="italic">F</tspan><tspan font-size="10.5" dy="4.3">src</tspan><tspan dy="-4.3">-1 (×10</tspan><tspan font-size="10.5" dy="-5.8">-3</tspan><tspan dy="5.8">)</tspan></text>
<rect x="272.35" y="376.10" width="119.30" height="111.25" fill="none" stroke="#000" stroke-width="1.0"/>
<line x1="302.43" y1="376.10" x2="302.43" y2="382.00" stroke="#000" stroke-width="1"/>
<line x1="302.43" y1="487.35" x2="302.43" y2="481.45" stroke="#000" stroke-width="1"/>
<line x1="332.25" y1="376.10" x2="332.25" y2="382.00" stroke="#000" stroke-width="1"/>
<line x1="332.25" y1="487.35" x2="332.25" y2="481.45" stroke="#000" stroke-width="1"/>
<line x1="362.08" y1="376.10" x2="362.08" y2="382.00" stroke="#000" stroke-width="1"/>
<line x1="362.08" y1="487.35" x2="362.08" y2="481.45" stroke="#000" stroke-width="1"/>
<line x1="272.35" y1="413.18" x2="278.25" y2="413.18" stroke="#000" stroke-width="1"/>
<line x1="391.65" y1="413.18" x2="385.75" y2="413.18" stroke="#000" stroke-width="1"/>
<line x1="272.35" y1="450.27" x2="278.25" y2="450.27" stroke="#000" stroke-width="1"/>
<line x1="391.65" y1="450.27" x2="385.75" y2="450.27" stroke="#000" stroke-width="1"/>
<rect x="394.40" y="376.10" width="5.90" height="111.25" fill="none" stroke="#000" stroke-width="1.0"/>
<text x="405.30" y="380.90" text-anchor="start" font-size="14.2" >0</text>
<line x1="394.40" y1="406.21" x2="400.30" y2="406.21" stroke="#000" stroke-width="1"/>
<text x="405.30" y="411.01" text-anchor="start" font-size="14.2" >-2</text>
<line x1="394.40" y1="435.91" x2="400.30" y2="435.91" stroke="#000" stroke-width="1"/>
<text x="405.30" y="440.71" text-anchor="start" font-size="14.2" >-4</text>
<line x1="394.40" y1="465.62" x2="400.30" y2="465.62" stroke="#000" stroke-width="1"/>
<text x="405.30" y="470.42" text-anchor="start" font-size="14.2" >-6</text>
<text x="268.75" y="380.90" text-anchor="end" font-size="14.2" >10</text>
<text x="268.75" y="417.98" text-anchor="end" font-size="14.2" >1</text>
<text x="268.55" y="456.47" text-anchor="end" font-size="14.2">10<tspan font-size="10.5" dy="-6.2">-1</tspan></text>
<text x="268.55" y="493.55" text-anchor="end" font-size="14.2">10<tspan font-size="10.5" dy="-6.2">-2</tspan></text>
<text x="274.25" y="504.75" text-anchor="middle" font-size="14.2" >0</text>
<text x="304.07" y="504.75" text-anchor="middle" font-size="14.2" >0.25</text>
<text x="333.90" y="504.75" text-anchor="middle" font-size="14.2" >0.5</text>
<text x="363.73" y="504.75" text-anchor="middle" font-size="14.2" >0.75</text>
<text x="393.55" y="504.75" text-anchor="middle" font-size="14.2" >1</text>
<text x="332.30" y="521.95" text-anchor="middle" font-size="14.2">λ</text>
<text transform="translate(240.85,432.03) rotate(-90)" text-anchor="middle" font-size="14.2">β</text>
<text x="299.65" y="369.80" font-size="16.0">(<tspan font-weight="bold">h</tspan>)</text>
<text x="327.55" y="372.60" font-size="14.2"><tspan font-style="italic">q</tspan>=0.5</text>
<text transform="translate(435.20,428.93) rotate(-90)" text-anchor="middle" font-size="14.2">Δ<tspan font-style="italic">F</tspan> / <tspan font-style="italic">F</tspan><tspan font-size="10.5" dy="4.3">src</tspan><tspan dy="-4.3">-1 (×10</tspan><tspan font-size="10.5" dy="-5.8">-3</tspan><tspan dy="5.8">)</tspan></text>
<line x1="598.90" y1="375.90" x2="598.90" y2="377.70" stroke="#111" stroke-width="1.35"/>
<line x1="598.90" y1="382.00" x2="598.90" y2="394.50" stroke="#111" stroke-width="1.35"/>
<line x1="598.90" y1="398.70" x2="598.90" y2="400.50" stroke="#111" stroke-width="1.35"/>
<line x1="598.90" y1="405.20" x2="598.90" y2="406.90" stroke="#111" stroke-width="1.35"/>
<line x1="598.90" y1="411.20" x2="598.90" y2="423.60" stroke="#111" stroke-width="1.35"/>
<line x1="598.90" y1="427.90" x2="598.90" y2="429.60" stroke="#111" stroke-width="1.35"/>
<line x1="598.90" y1="434.10" x2="598.90" y2="435.60" stroke="#111" stroke-width="1.35"/>
<line x1="598.90" y1="440.50" x2="598.90" y2="452.70" stroke="#111" stroke-width="1.35"/>
<line x1="598.90" y1="457.50" x2="598.90" y2="459.00" stroke="#111" stroke-width="1.35"/>
<line x1="598.90" y1="463.50" x2="598.90" y2="464.90" stroke="#111" stroke-width="1.35"/>
<line x1="598.90" y1="469.40" x2="598.90" y2="481.40" stroke="#111" stroke-width="1.35"/>
<line x1="598.90" y1="486.10" x2="598.90" y2="487.40" stroke="#111" stroke-width="1.35"/>
<rect x="501.50" y="376.10" width="119.30" height="111.25" fill="none" stroke="#000" stroke-width="1.0"/>
<line x1="531.58" y1="376.10" x2="531.58" y2="382.00" stroke="#000" stroke-width="1"/>
<line x1="531.58" y1="487.35" x2="531.58" y2="481.45" stroke="#000" stroke-width="1"/>
<line x1="561.40" y1="376.10" x2="561.40" y2="382.00" stroke="#000" stroke-width="1"/>
<line x1="561.40" y1="487.35" x2="561.40" y2="481.45" stroke="#000" stroke-width="1"/>
<line x1="591.23" y1="376.10" x2="591.23" y2="382.00" stroke="#000" stroke-width="1"/>
<line x1="591.23" y1="487.35" x2="591.23" y2="481.45" stroke="#000" stroke-width="1"/>
<line x1="501.50" y1="403.91" x2="507.40" y2="403.91" stroke="#000" stroke-width="1"/>
<line x1="620.80" y1="403.91" x2="614.90" y2="403.91" stroke="#000" stroke-width="1"/>
<line x1="501.50" y1="431.73" x2="507.40" y2="431.73" stroke="#000" stroke-width="1"/>
<line x1="620.80" y1="431.73" x2="614.90" y2="431.73" stroke="#000" stroke-width="1"/>
<line x1="501.50" y1="459.54" x2="507.40" y2="459.54" stroke="#000" stroke-width="1"/>
<line x1="620.80" y1="459.54" x2="614.90" y2="459.54" stroke="#000" stroke-width="1"/>
<rect x="623.55" y="376.10" width="5.90" height="111.25" fill="none" stroke="#000" stroke-width="1.0"/>
<line x1="623.55" y1="379.74" x2="629.45" y2="379.74" stroke="#000" stroke-width="1"/>
<text x="634.45" y="384.54" text-anchor="start" font-size="14.2" >-5.0</text>
<line x1="623.55" y1="415.74" x2="629.45" y2="415.74" stroke="#000" stroke-width="1"/>
<text x="634.45" y="420.54" text-anchor="start" font-size="14.2" >-6.0</text>
<line x1="623.55" y1="451.75" x2="629.45" y2="451.75" stroke="#000" stroke-width="1"/>
<text x="634.45" y="456.55" text-anchor="start" font-size="14.2" >-7.0</text>
<text x="634.45" y="492.15" text-anchor="start" font-size="14.2" >-8.0</text>
<text x="495.10" y="380.90" text-anchor="end" font-size="14.2" >1</text>
<text x="495.10" y="408.71" text-anchor="end" font-size="14.2" >0.75</text>
<text x="495.10" y="436.53" text-anchor="end" font-size="14.2" >0.5</text>
<text x="495.10" y="464.34" text-anchor="end" font-size="14.2" >0.25</text>
<text x="495.10" y="492.15" text-anchor="end" font-size="14.2" >0</text>
<text x="503.40" y="504.75" text-anchor="middle" font-size="14.2" >0</text>
<text x="533.23" y="504.75" text-anchor="middle" font-size="14.2" >0.25</text>
<text x="563.05" y="504.75" text-anchor="middle" font-size="14.2" >0.5</text>
<text x="592.88" y="504.75" text-anchor="middle" font-size="14.2" >0.75</text>
<text x="622.70" y="504.75" text-anchor="middle" font-size="14.2" >1</text>
<text x="561.45" y="518.55" text-anchor="middle" font-size="14.2" font-style="italic">q</text>
<text transform="translate(469.00,432.73) rotate(-90)" text-anchor="middle" font-size="14.2">λ</text>
<text x="532.90" y="369.80" font-size="16.0">(<tspan font-weight="bold">i</tspan>)</text>
<text x="554.20" y="372.60" font-size="14.2">β=0.5</text>
<text transform="translate(679.85,428.93) rotate(-90)" text-anchor="middle" font-size="14.2">Δ<tspan font-style="italic">F</tspan> / <tspan font-style="italic">F</tspan><tspan font-size="10.5" dy="4.3">src</tspan><tspan dy="-4.3">-1 (×10</tspan><tspan font-size="10.5" dy="-5.8">-3</tspan><tspan dy="5.8">)</tspan></text>
<line x1="139.85" y1="553.70" x2="139.85" y2="555.50" stroke="#111" stroke-width="1.35"/>
<line x1="139.85" y1="559.80" x2="139.85" y2="572.30" stroke="#111" stroke-width="1.35"/>
<line x1="139.85" y1="576.50" x2="139.85" y2="578.30" stroke="#111" stroke-width="1.35"/>
<line x1="139.85" y1="583.00" x2="139.85" y2="584.70" stroke="#111" stroke-width="1.35"/>
<line x1="139.85" y1="589.00" x2="139.85" y2="601.40" stroke="#111" stroke-width="1.35"/>
<line x1="139.85" y1="605.70" x2="139.85" y2="607.40" stroke="#111" stroke-width="1.35"/>
<line x1="139.85" y1="611.90" x2="139.85" y2="613.40" stroke="#111" stroke-width="1.35"/>
<line x1="139.85" y1="618.30" x2="139.85" y2="630.50" stroke="#111" stroke-width="1.35"/>
<line x1="139.85" y1="635.30" x2="139.85" y2="636.80" stroke="#111" stroke-width="1.35"/>
<line x1="139.85" y1="641.30" x2="139.85" y2="642.70" stroke="#111" stroke-width="1.35"/>
<line x1="139.85" y1="647.20" x2="139.85" y2="659.20" stroke="#111" stroke-width="1.35"/>
<line x1="139.85" y1="663.90" x2="139.85" y2="665.20" stroke="#111" stroke-width="1.35"/>
<rect x="42.45" y="553.90" width="119.30" height="111.25" fill="none" stroke="#000" stroke-width="1.0"/>
<line x1="72.53" y1="553.90" x2="72.53" y2="559.80" stroke="#000" stroke-width="1"/>
<line x1="72.53" y1="665.15" x2="72.53" y2="659.25" stroke="#000" stroke-width="1"/>
<line x1="102.35" y1="553.90" x2="102.35" y2="559.80" stroke="#000" stroke-width="1"/>
<line x1="102.35" y1="665.15" x2="102.35" y2="659.25" stroke="#000" stroke-width="1"/>
<line x1="132.18" y1="553.90" x2="132.18" y2="559.80" stroke="#000" stroke-width="1"/>
<line x1="132.18" y1="665.15" x2="132.18" y2="659.25" stroke="#000" stroke-width="1"/>
<line x1="42.45" y1="590.98" x2="48.35" y2="590.98" stroke="#000" stroke-width="1"/>
<line x1="161.75" y1="590.98" x2="155.85" y2="590.98" stroke="#000" stroke-width="1"/>
<line x1="42.45" y1="628.07" x2="48.35" y2="628.07" stroke="#000" stroke-width="1"/>
<line x1="161.75" y1="628.07" x2="155.85" y2="628.07" stroke="#000" stroke-width="1"/>
<rect x="164.50" y="553.90" width="5.90" height="111.25" fill="none" stroke="#000" stroke-width="1.0"/>
<line x1="164.50" y1="566.88" x2="170.40" y2="566.88" stroke="#000" stroke-width="1"/>
<text x="179.00" y="571.68" text-anchor="start" font-size="14.2" >1.0</text>
<line x1="164.50" y1="591.55" x2="170.40" y2="591.55" stroke="#000" stroke-width="1"/>
<text x="179.00" y="596.35" text-anchor="start" font-size="14.2" >0.5</text>
<line x1="164.50" y1="616.22" x2="170.40" y2="616.22" stroke="#000" stroke-width="1"/>
<text x="179.00" y="621.02" text-anchor="start" font-size="14.2" >0</text>
<line x1="164.50" y1="640.88" x2="170.40" y2="640.88" stroke="#000" stroke-width="1"/>
<text x="175.40" y="645.68" text-anchor="start" font-size="14.2" >-0.5</text>
<text x="175.40" y="669.95" text-anchor="start" font-size="14.2" >-1.0</text>
<text x="38.85" y="558.70" text-anchor="end" font-size="14.2" >10</text>
<text x="38.85" y="595.78" text-anchor="end" font-size="14.2" >1</text>
<text x="38.65" y="634.27" text-anchor="end" font-size="14.2">10<tspan font-size="10.5" dy="-6.2">-1</tspan></text>
<text x="38.65" y="671.35" text-anchor="end" font-size="14.2">10<tspan font-size="10.5" dy="-6.2">-2</tspan></text>
<text x="44.35" y="682.55" text-anchor="middle" font-size="14.2" >0</text>
<text x="74.18" y="682.55" text-anchor="middle" font-size="14.2" >0.25</text>
<text x="104.00" y="682.55" text-anchor="middle" font-size="14.2" >0.5</text>
<text x="133.83" y="682.55" text-anchor="middle" font-size="14.2" >0.75</text>
<text x="163.65" y="682.55" text-anchor="middle" font-size="14.2" >1</text>
<text x="102.40" y="696.35" text-anchor="middle" font-size="14.2" font-style="italic">q</text>
<text transform="translate(10.95,609.82) rotate(-90)" text-anchor="middle" font-size="14.2">β</text>
<text x="71.85" y="547.60" font-size="16.0">(<tspan font-weight="bold">j</tspan>)</text>
<text x="95.55" y="550.40" font-size="14.2">λ=0.5</text>
<text transform="translate(212.50,608.92) rotate(-90)" text-anchor="middle" font-size="14.2">δΔ<tspan font-style="italic">r</tspan> (10<tspan font-size="10.5" dy="-5.8">-3</tspan><tspan dy="5.8"> mag)</tspan></text>
<rect x="272.35" y="553.90" width="119.30" height="111.25" fill="none" stroke="#000" stroke-width="1.0"/>
<line x1="302.43" y1="553.90" x2="302.43" y2="559.80" stroke="#000" stroke-width="1"/>
<line x1="302.43" y1="665.15" x2="302.43" y2="659.25" stroke="#000" stroke-width="1"/>
<line x1="332.25" y1="553.90" x2="332.25" y2="559.80" stroke="#000" stroke-width="1"/>
<line x1="332.25" y1="665.15" x2="332.25" y2="659.25" stroke="#000" stroke-width="1"/>
<line x1="362.08" y1="553.90" x2="362.08" y2="559.80" stroke="#000" stroke-width="1"/>
<line x1="362.08" y1="665.15" x2="362.08" y2="659.25" stroke="#000" stroke-width="1"/>
<line x1="272.35" y1="590.98" x2="278.25" y2="590.98" stroke="#000" stroke-width="1"/>
<line x1="391.65" y1="590.98" x2="385.75" y2="590.98" stroke="#000" stroke-width="1"/>
<line x1="272.35" y1="628.07" x2="278.25" y2="628.07" stroke="#000" stroke-width="1"/>
<line x1="391.65" y1="628.07" x2="385.75" y2="628.07" stroke="#000" stroke-width="1"/>
<rect x="394.40" y="553.90" width="5.90" height="111.25" fill="none" stroke="#000" stroke-width="1.0"/>
<line x1="394.40" y1="566.44" x2="400.30" y2="566.44" stroke="#000" stroke-width="1"/>
<text x="408.90" y="571.24" text-anchor="start" font-size="14.2" >6</text>
<line x1="394.40" y1="589.35" x2="400.30" y2="589.35" stroke="#000" stroke-width="1"/>
<text x="408.90" y="594.15" text-anchor="start" font-size="14.2" >3</text>
<line x1="394.40" y1="612.25" x2="400.30" y2="612.25" stroke="#000" stroke-width="1"/>
<text x="408.90" y="617.05" text-anchor="start" font-size="14.2" >0</text>
<line x1="394.40" y1="635.16" x2="400.30" y2="635.16" stroke="#000" stroke-width="1"/>
<text x="405.30" y="639.96" text-anchor="start" font-size="14.2" >-3</text>
<line x1="394.40" y1="658.07" x2="400.30" y2="658.07" stroke="#000" stroke-width="1"/>
<text x="405.30" y="662.87" text-anchor="start" font-size="14.2" >-6</text>
<text x="268.75" y="558.70" text-anchor="end" font-size="14.2" >10</text>
<text x="268.75" y="595.78" text-anchor="end" font-size="14.2" >1</text>
<text x="268.55" y="634.27" text-anchor="end" font-size="14.2">10<tspan font-size="10.5" dy="-6.2">-1</tspan></text>
<text x="268.55" y="671.35" text-anchor="end" font-size="14.2">10<tspan font-size="10.5" dy="-6.2">-2</tspan></text>
<text x="274.25" y="682.55" text-anchor="middle" font-size="14.2" >0</text>
<text x="304.07" y="682.55" text-anchor="middle" font-size="14.2" >0.25</text>
<text x="333.90" y="682.55" text-anchor="middle" font-size="14.2" >0.5</text>
<text x="363.73" y="682.55" text-anchor="middle" font-size="14.2" >0.75</text>
<text x="393.55" y="682.55" text-anchor="middle" font-size="14.2" >1</text>
<text x="332.30" y="699.75" text-anchor="middle" font-size="14.2">λ</text>
<text transform="translate(240.85,609.82) rotate(-90)" text-anchor="middle" font-size="14.2">β</text>
<text x="301.95" y="547.60" font-size="16.0">(<tspan font-weight="bold">k</tspan>)</text>
<text x="327.55" y="550.40" font-size="14.2"><tspan font-style="italic">q</tspan>=0.5</text>
<text transform="translate(437.40,608.92) rotate(-90)" text-anchor="middle" font-size="14.2">δΔ<tspan font-style="italic">r</tspan> (10<tspan font-size="10.5" dy="-5.8">-4</tspan><tspan dy="5.8"> mag)</tspan></text>
<line x1="598.90" y1="553.70" x2="598.90" y2="555.50" stroke="#111" stroke-width="1.35"/>
<line x1="598.90" y1="559.80" x2="598.90" y2="572.30" stroke="#111" stroke-width="1.35"/>
<line x1="598.90" y1="576.50" x2="598.90" y2="578.30" stroke="#111" stroke-width="1.35"/>
<line x1="598.90" y1="583.00" x2="598.90" y2="584.70" stroke="#111" stroke-width="1.35"/>
<line x1="598.90" y1="589.00" x2="598.90" y2="601.40" stroke="#111" stroke-width="1.35"/>
<line x1="598.90" y1="605.70" x2="598.90" y2="607.40" stroke="#111" stroke-width="1.35"/>
<line x1="598.90" y1="611.90" x2="598.90" y2="613.40" stroke="#111" stroke-width="1.35"/>
<line x1="598.90" y1="618.30" x2="598.90" y2="630.50" stroke="#111" stroke-width="1.35"/>
<line x1="598.90" y1="635.30" x2="598.90" y2="636.80" stroke="#111" stroke-width="1.35"/>
<line x1="598.90" y1="641.30" x2="598.90" y2="642.70" stroke="#111" stroke-width="1.35"/>
<line x1="598.90" y1="647.20" x2="598.90" y2="659.20" stroke="#111" stroke-width="1.35"/>
<line x1="598.90" y1="663.90" x2="598.90" y2="665.20" stroke="#111" stroke-width="1.35"/>
<rect x="501.50" y="553.90" width="119.30" height="111.25" fill="none" stroke="#000" stroke-width="1.0"/>
<line x1="531.58" y1="553.90" x2="531.58" y2="559.80" stroke="#000" stroke-width="1"/>
<line x1="531.58" y1="665.15" x2="531.58" y2="659.25" stroke="#000" stroke-width="1"/>
<line x1="561.40" y1="553.90" x2="561.40" y2="559.80" stroke="#000" stroke-width="1"/>
<line x1="561.40" y1="665.15" x2="561.40" y2="659.25" stroke="#000" stroke-width="1"/>
<line x1="591.23" y1="553.90" x2="591.23" y2="559.80" stroke="#000" stroke-width="1"/>
<line x1="591.23" y1="665.15" x2="591.23" y2="659.25" stroke="#000" stroke-width="1"/>
<line x1="501.50" y1="581.71" x2="507.40" y2="581.71" stroke="#000" stroke-width="1"/>
<line x1="620.80" y1="581.71" x2="614.90" y2="581.71" stroke="#000" stroke-width="1"/>
<line x1="501.50" y1="609.52" x2="507.40" y2="609.52" stroke="#000" stroke-width="1"/>
<line x1="620.80" y1="609.52" x2="614.90" y2="609.52" stroke="#000" stroke-width="1"/>
<line x1="501.50" y1="637.34" x2="507.40" y2="637.34" stroke="#000" stroke-width="1"/>
<line x1="620.80" y1="637.34" x2="614.90" y2="637.34" stroke="#000" stroke-width="1"/>
<rect x="623.55" y="553.90" width="5.90" height="111.25" fill="none" stroke="#000" stroke-width="1.0"/>
<text x="638.05" y="558.70" text-anchor="start" font-size="14.2" >1.4</text>
<line x1="623.55" y1="578.71" x2="629.45" y2="578.71" stroke="#000" stroke-width="1"/>
<text x="638.05" y="583.51" text-anchor="start" font-size="14.2" >0.7</text>
<line x1="623.55" y1="603.12" x2="629.45" y2="603.12" stroke="#000" stroke-width="1"/>
<text x="638.05" y="607.92" text-anchor="start" font-size="14.2" >0</text>
<line x1="623.55" y1="627.54" x2="629.45" y2="627.54" stroke="#000" stroke-width="1"/>
<text x="634.45" y="632.34" text-anchor="start" font-size="14.2" >-0.7</text>
<line x1="623.55" y1="651.95" x2="629.45" y2="651.95" stroke="#000" stroke-width="1"/>
<text x="634.45" y="656.75" text-anchor="start" font-size="14.2" >-1.4</text>
<text x="495.10" y="558.70" text-anchor="end" font-size="14.2" >1</text>
<text x="495.10" y="586.51" text-anchor="end" font-size="14.2" >0.75</text>
<text x="495.10" y="614.32" text-anchor="end" font-size="14.2" >0.5</text>
<text x="495.10" y="642.14" text-anchor="end" font-size="14.2" >0.25</text>
<text x="495.10" y="669.95" text-anchor="end" font-size="14.2" >0</text>
<text x="503.40" y="682.55" text-anchor="middle" font-size="14.2" >0</text>
<text x="533.23" y="682.55" text-anchor="middle" font-size="14.2" >0.25</text>
<text x="563.05" y="682.55" text-anchor="middle" font-size="14.2" >0.5</text>
<text x="592.88" y="682.55" text-anchor="middle" font-size="14.2" >0.75</text>
<text x="622.70" y="682.55" text-anchor="middle" font-size="14.2" >1</text>
<text x="561.45" y="696.35" text-anchor="middle" font-size="14.2" font-style="italic">q</text>
<text transform="translate(469.00,610.52) rotate(-90)" text-anchor="middle" font-size="14.2">λ</text>
<text x="531.70" y="547.60" font-size="16.0">(<tspan font-weight="bold">l</tspan>)</text>
<text x="554.20" y="550.40" font-size="14.2">β=0.5</text>
<text transform="translate(681.15,608.92) rotate(-90)" text-anchor="middle" font-size="14.2">δΔ<tspan font-style="italic">r</tspan> (10<tspan font-size="10.5" dy="-5.8">-3</tspan><tspan dy="5.8"> mag)</tspan></text>
</svg>
</body></html>
